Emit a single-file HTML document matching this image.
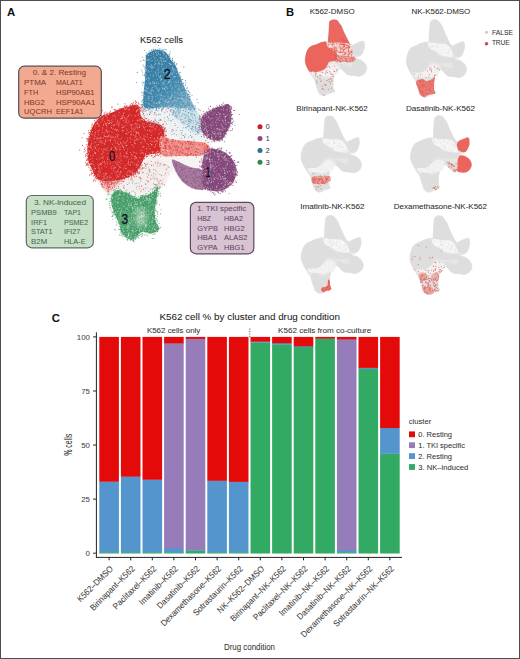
<!DOCTYPE html>
<html><head><meta charset="utf-8"><style>
html,body{margin:0;padding:0;background:#fff;}
svg{display:block;}
text{font-family:"Liberation Sans",sans-serif;}
</style></head><body>
<svg width="520" height="659" viewBox="0 0 520 659">
<defs>
<linearGradient id="gblue" gradientUnits="userSpaceOnUse" x1="150" y1="60" x2="192" y2="110">
<stop offset="0" stop-color="#357ba3"/><stop offset="0.5" stop-color="#4289ae"/><stop offset="1" stop-color="#8ab6cb"/></linearGradient>
<filter id="soft" x="-5%" y="-5%" width="110%" height="110%"><feGaussianBlur stdDeviation="0.7"/></filter>
<filter id="soft3" x="-10%" y="-10%" width="120%" height="120%"><feGaussianBlur stdDeviation="1.6"/></filter>
<filter id="soft4" x="-50%" y="-50%" width="200%" height="200%"><feGaussianBlur stdDeviation="3"/></filter>
<filter id="soft2" x="-5%" y="-5%" width="110%" height="110%"><feGaussianBlur stdDeviation="1.2"/></filter>
<g id="mbase">
<path d="M146.4,55.0 C147.3,53.4 149.2,52.4 151.0,51.5 C152.8,50.6 155.0,49.8 157.2,49.7 C159.3,49.6 162.1,50.1 163.9,51.0 C165.7,51.9 166.9,53.5 168.0,55.0 C169.1,56.5 169.5,58.1 170.7,59.8 C171.9,61.5 174.2,63.2 175.4,65.2 C176.6,67.2 177.0,69.5 178.0,72.0 C179.0,74.5 180.3,77.3 181.4,80.0 C182.5,82.7 183.6,85.3 184.8,88.0 C186.0,90.7 187.5,93.3 188.8,96.0 C190.2,98.7 191.9,101.8 192.9,104.0 C193.9,106.2 196.2,108.2 195.0,109.0 C193.8,109.8 189.3,108.8 186.0,108.5 C182.7,108.2 179.3,107.7 175.0,107.5 C170.7,107.3 164.8,107.4 160.0,107.5 C155.2,107.6 148.8,108.9 146.0,108.3 C143.2,107.7 143.5,105.1 143.0,104.0 C142.5,102.9 143.0,103.5 143.1,101.5 C143.2,99.5 143.4,95.8 143.7,92.0 C144.0,88.2 144.8,83.7 145.1,78.6 C145.4,73.5 145.6,65.1 145.8,61.2 C146.0,57.3 145.5,56.6 146.4,55.0Z"/>
<path d="M178.0,98.0 C181.0,96.7 185.0,100.0 188.0,102.0 C191.0,104.0 193.8,107.0 196.0,110.0 C198.2,113.0 200.0,116.3 201.0,120.0 C202.0,123.7 202.8,129.7 202.0,132.0 C201.2,134.3 198.7,135.0 196.0,134.0 C193.3,133.0 189.3,128.7 186.0,126.0 C182.7,123.3 178.7,120.7 176.0,118.0 C173.3,115.3 169.7,113.3 170.0,110.0 C170.3,106.7 175.0,99.3 178.0,98.0Z"/>
<path d="M111.6,112.8 C114.5,111.7 119.3,109.2 122.4,108.1 C125.5,107.0 127.5,106.6 130.0,106.0 C132.5,105.4 135.6,104.2 137.2,104.7 C138.8,105.2 138.9,107.1 139.5,109.0 C140.1,110.9 139.9,114.0 141.0,116.0 C142.1,118.0 144.0,119.8 146.0,121.0 C148.0,122.2 150.5,122.3 153.0,123.0 C155.5,123.7 159.2,123.5 161.0,125.0 C162.8,126.5 163.4,129.2 164.0,132.0 C164.6,134.8 164.8,138.7 164.5,142.0 C164.2,145.3 164.1,150.0 162.0,152.0 C159.9,154.0 154.8,153.3 152.0,154.0 C149.2,154.7 147.1,154.2 145.3,156.0 C143.5,157.8 142.8,161.8 141.2,164.6 C139.6,167.4 138.3,170.5 135.8,172.7 C133.3,174.9 129.8,176.7 126.4,178.0 C123.0,179.3 119.3,180.3 115.6,180.8 C111.9,181.3 107.1,181.4 104.0,181.0 C100.9,180.6 98.9,180.2 96.8,178.1 C94.7,176.0 92.9,171.8 91.4,168.6 C90.0,165.4 88.8,162.5 88.1,159.2 C87.4,155.8 87.3,151.5 87.4,148.5 C87.5,145.5 87.9,144.0 88.5,141.0 C89.1,138.0 90.0,133.4 91.0,130.5 C92.0,127.6 93.1,125.7 94.5,123.5 C95.9,121.3 97.8,119.0 99.5,117.5 C101.2,116.0 103.0,115.3 105.0,114.5 C107.0,113.7 108.7,113.9 111.6,112.8Z"/>
<path d="M100.0,178.0 C102.7,177.0 115.7,178.3 118.0,180.0 C120.3,181.7 115.7,186.0 114.0,188.0 C112.3,190.0 110.0,192.3 108.0,192.0 C106.0,191.7 103.3,188.3 102.0,186.0 C100.7,183.7 97.3,179.0 100.0,178.0Z"/>
<path d="M160.0,137.0 C161.3,134.3 166.3,138.4 170.0,139.0 C173.7,139.6 177.8,140.1 182.0,140.5 C186.2,140.9 191.2,141.1 195.0,141.5 C198.8,141.9 202.5,141.9 205.0,143.0 C207.5,144.1 210.0,146.0 210.0,148.0 C210.0,150.0 208.3,153.7 205.0,155.0 C201.7,156.3 195.0,155.8 190.0,156.0 C185.0,156.2 179.7,156.2 175.0,156.0 C170.3,155.8 164.5,158.2 162.0,155.0 C159.5,151.8 158.7,139.7 160.0,137.0Z"/>
<path d="M206.9,111.9 C208.8,110.7 211.0,109.8 213.3,108.8 C215.6,107.8 218.2,106.9 220.7,106.1 C223.2,105.3 226.4,103.5 228.1,104.0 C229.8,104.5 230.2,106.8 230.7,108.8 C231.2,110.8 231.3,113.7 231.3,116.2 C231.3,118.7 231.4,121.0 230.7,123.6 C230.0,126.2 228.3,129.5 227.0,132.0 C225.7,134.5 224.4,137.0 222.8,138.4 C221.2,139.8 219.4,140.3 217.5,140.5 C215.6,140.7 213.3,140.3 211.2,139.4 C209.1,138.5 206.4,136.8 204.8,135.2 C203.2,133.6 202.3,132.0 201.6,129.9 C200.9,127.8 200.5,124.8 200.6,122.5 C200.7,120.2 201.1,118.0 202.2,116.2 C203.2,114.4 205.1,113.1 206.9,111.9Z"/>
<path d="M206.1,150.8 C207.9,148.7 210.7,148.7 213.3,148.7 C215.9,148.7 219.0,149.4 221.9,150.8 C224.8,152.2 228.3,154.8 230.6,157.3 C232.9,159.8 234.7,163.3 235.7,166.0 C236.7,168.7 236.8,170.6 236.4,173.2 C236.0,175.8 234.9,179.4 233.5,181.8 C232.1,184.2 230.1,186.0 227.7,187.6 C225.3,189.2 222.0,190.7 219.1,191.2 C216.2,191.7 213.1,191.1 210.4,190.5 C207.8,189.9 204.5,190.0 203.2,187.6 C201.9,185.2 202.6,180.3 202.5,176.0 C202.4,171.7 201.9,165.8 202.5,161.6 C203.1,157.4 204.3,153.0 206.1,150.8Z"/>
<path d="M172.0,160.0 C172.7,158.4 177.0,161.3 180.0,162.5 C183.0,163.7 186.2,165.6 190.0,167.0 C193.8,168.4 200.5,167.5 203.0,171.0 C205.5,174.5 206.0,184.9 205.0,188.0 C204.0,191.1 199.7,189.8 197.0,189.5 C194.3,189.2 191.5,187.9 189.0,186.5 C186.5,185.1 184.2,183.4 182.0,181.0 C179.8,178.6 177.7,175.5 176.0,172.0 C174.3,168.5 171.3,161.6 172.0,160.0Z"/>
<path d="M111.9,195.0 C112.8,193.1 114.6,191.0 116.5,190.4 C118.4,189.8 121.0,190.7 123.5,191.5 C126.0,192.3 129.2,193.8 131.5,195.0 C133.8,196.2 135.6,198.3 137.3,198.5 C139.0,198.7 140.2,196.8 141.9,196.2 C143.6,195.6 145.8,195.8 147.7,195.0 C149.6,194.2 151.8,192.8 153.5,191.5 C155.2,190.2 157.7,185.0 158.1,186.9 C158.5,188.8 156.4,198.8 155.8,203.0 C155.2,207.2 154.6,209.2 154.6,212.3 C154.6,215.4 155.0,218.8 155.8,221.5 C156.6,224.2 159.2,226.8 159.2,228.5 C159.2,230.2 157.5,231.1 155.8,231.9 C154.1,232.7 151.1,233.1 148.8,233.1 C146.5,233.1 143.8,231.5 141.9,231.9 C140.0,232.3 138.8,234.1 137.3,235.4 C135.8,236.8 134.4,239.6 132.7,240.0 C131.0,240.4 128.8,238.8 126.9,237.7 C125.0,236.5 122.4,235.0 121.2,233.1 C120.0,231.2 120.8,228.7 120.0,226.2 C119.2,223.7 117.7,220.8 116.5,218.1 C115.3,215.4 114.0,212.7 113.1,210.0 C112.2,207.3 111.5,204.4 111.3,201.9 C111.1,199.4 111.0,196.9 111.9,195.0Z"/>
<path d="M104.0,180.0 C106.8,178.2 119.0,181.0 125.0,179.0 C131.0,177.0 135.8,171.2 140.0,168.0 C144.2,164.8 146.3,161.3 150.0,160.0 C153.7,158.7 158.7,158.3 162.0,160.0 C165.3,161.7 169.5,165.8 170.0,170.0 C170.5,174.2 167.0,182.0 165.0,185.0 C163.0,188.0 162.2,186.8 158.0,188.0 C153.8,189.2 146.3,191.7 140.0,192.0 C133.7,192.3 125.3,190.3 120.0,190.0 C114.7,189.7 110.7,191.7 108.0,190.0 C105.3,188.3 101.2,181.8 104.0,180.0Z"/>
</g>
</defs>
<rect x="0" y="0" width="520" height="659" fill="#fff"/>
<!-- Panel A -->
<text x="6.9" y="16.4" font-size="11.4" font-weight="bold" fill="#111">A</text>
<text x="140" y="42.6" font-size="8.4" fill="#222" textLength="43" lengthAdjust="spacingAndGlyphs" stroke="#222" stroke-width="0.05">K562 cells</text>
<g filter="url(#soft3)">
<path d="M157.2,49.7 C159.3,49.6 162.1,50.1 163.9,51.0 C165.7,51.9 166.1,52.6 168.0,55.0 C169.9,57.4 173.2,61.0 175.4,65.2 C177.6,69.4 179.2,74.9 181.4,80.0 C183.6,85.1 186.5,91.3 188.8,96.0 C191.1,100.7 192.8,105.0 195.0,108.0 C197.2,111.0 198.9,113.9 202.0,114.0 C205.1,114.1 209.0,110.5 213.3,108.8 C217.7,107.1 225.1,102.8 228.1,104.0 C231.1,105.2 231.5,111.5 231.3,116.2 C231.1,120.9 228.4,128.3 227.0,132.0 C225.6,135.7 225.0,136.6 222.8,138.4 C220.6,140.2 216.8,141.6 214.0,143.0 C211.2,144.4 204.7,145.7 206.0,147.0 C207.3,148.3 217.0,147.6 221.9,150.8 C226.8,154.0 233.8,160.8 235.7,166.0 C237.6,171.2 236.3,177.6 233.5,181.8 C230.7,186.0 224.2,190.1 219.1,191.2 C214.0,192.3 208.0,189.2 203.2,188.5 C198.4,187.8 193.7,188.8 190.2,187.0 C186.7,185.2 185.0,180.5 182.0,178.0 C179.0,175.5 175.3,172.0 172.0,172.0 C168.7,172.0 164.3,175.5 162.0,178.0 C159.7,180.5 159.1,182.7 158.1,186.9 C157.1,191.1 156.2,197.2 155.8,203.0 C155.4,208.8 155.2,217.2 155.8,221.5 C156.4,225.8 160.4,226.6 159.2,228.5 C158.0,230.4 153.2,231.2 148.8,233.1 C144.4,235.0 137.3,240.0 132.7,240.0 C128.1,240.0 124.5,238.1 121.2,233.1 C117.9,228.1 114.8,215.2 113.1,210.0 C111.4,204.8 112.8,205.2 111.3,201.9 C109.8,198.6 106.4,194.0 104.0,190.0 C101.6,186.0 99.5,183.2 96.8,178.1 C94.1,173.0 89.7,164.1 88.1,159.2 C86.5,154.3 86.7,153.1 87.4,148.5 C88.1,143.9 89.4,136.7 92.1,131.6 C94.8,126.5 98.5,122.1 103.5,118.2 C108.5,114.3 116.8,110.3 122.4,108.1 C128.0,105.8 133.8,105.4 137.2,104.7 C140.6,104.0 141.9,106.1 143.0,104.0 C144.1,101.9 143.2,99.1 143.7,92.0 C144.2,84.9 144.6,68.0 145.8,61.2 C147.0,54.5 149.1,53.4 151.0,51.5 C152.9,49.6 155.0,49.8 157.2,49.7Z" fill="#f7f3f3"/>
<path d="M143.0,106.0 C146.8,104.7 157.8,107.3 165.0,108.0 C172.2,108.7 180.5,107.7 186.0,110.0 C191.5,112.3 195.3,117.0 198.0,122.0 C200.7,127.0 205.7,137.5 202.0,140.0 C198.3,142.5 182.7,138.7 176.0,137.0 C169.3,135.3 166.3,132.3 162.0,130.0 C157.7,127.7 153.3,125.3 150.0,123.0 C146.7,120.7 143.2,118.8 142.0,116.0 C140.8,113.2 139.2,107.3 143.0,106.0Z" fill="#eef2f3"/>
<path d="M104.0,180.0 C106.8,178.2 119.0,181.0 125.0,179.0 C131.0,177.0 135.8,171.2 140.0,168.0 C144.2,164.8 146.3,161.3 150.0,160.0 C153.7,158.7 158.7,158.3 162.0,160.0 C165.3,161.7 169.5,165.8 170.0,170.0 C170.5,174.2 167.0,182.0 165.0,185.0 C163.0,188.0 162.2,186.8 158.0,188.0 C153.8,189.2 146.3,191.7 140.0,192.0 C133.7,192.3 125.3,190.3 120.0,190.0 C114.7,189.7 110.7,191.7 108.0,190.0 C105.3,188.3 101.2,181.8 104.0,180.0Z" fill="#f4eded"/>
<path d="M178.0,98.0 C181.0,96.7 185.0,100.0 188.0,102.0 C191.0,104.0 193.8,107.0 196.0,110.0 C198.2,113.0 200.0,116.3 201.0,120.0 C202.0,123.7 202.8,129.7 202.0,132.0 C201.2,134.3 198.7,135.0 196.0,134.0 C193.3,133.0 189.3,128.7 186.0,126.0 C182.7,123.3 178.7,120.7 176.0,118.0 C173.3,115.3 169.7,113.3 170.0,110.0 C170.3,106.7 175.0,99.3 178.0,98.0Z" fill="#cde0e8"/>
<path d="M100.0,178.0 C102.7,177.0 115.7,178.3 118.0,180.0 C120.3,181.7 115.7,186.0 114.0,188.0 C112.3,190.0 110.0,192.3 108.0,192.0 C106.0,191.7 103.3,188.3 102.0,186.0 C100.7,183.7 97.3,179.0 100.0,178.0Z" fill="#f2b3ae"/>
</g>
<g filter="url(#soft)">
<path d="M146.4,55.0 C147.3,53.4 149.2,52.4 151.0,51.5 C152.8,50.6 155.0,49.8 157.2,49.7 C159.3,49.6 162.1,50.1 163.9,51.0 C165.7,51.9 166.9,53.5 168.0,55.0 C169.1,56.5 169.5,58.1 170.7,59.8 C171.9,61.5 174.2,63.2 175.4,65.2 C176.6,67.2 177.0,69.5 178.0,72.0 C179.0,74.5 180.3,77.3 181.4,80.0 C182.5,82.7 183.6,85.3 184.8,88.0 C186.0,90.7 187.5,93.3 188.8,96.0 C190.2,98.7 191.9,101.8 192.9,104.0 C193.9,106.2 196.2,108.2 195.0,109.0 C193.8,109.8 189.3,108.8 186.0,108.5 C182.7,108.2 179.3,107.7 175.0,107.5 C170.7,107.3 164.8,107.4 160.0,107.5 C155.2,107.6 148.8,108.9 146.0,108.3 C143.2,107.7 143.5,105.1 143.0,104.0 C142.5,102.9 143.0,103.5 143.1,101.5 C143.2,99.5 143.4,95.8 143.7,92.0 C144.0,88.2 144.8,83.7 145.1,78.6 C145.4,73.5 145.6,65.1 145.8,61.2 C146.0,57.3 145.5,56.6 146.4,55.0Z" fill="url(#gblue)"/>
<path d="M111.9,195.0 C112.8,193.1 114.6,191.0 116.5,190.4 C118.4,189.8 121.0,190.7 123.5,191.5 C126.0,192.3 129.2,193.8 131.5,195.0 C133.8,196.2 135.6,198.3 137.3,198.5 C139.0,198.7 140.2,196.8 141.9,196.2 C143.6,195.6 145.8,195.8 147.7,195.0 C149.6,194.2 151.8,192.8 153.5,191.5 C155.2,190.2 157.7,185.0 158.1,186.9 C158.5,188.8 156.4,198.8 155.8,203.0 C155.2,207.2 154.6,209.2 154.6,212.3 C154.6,215.4 155.0,218.8 155.8,221.5 C156.6,224.2 159.2,226.8 159.2,228.5 C159.2,230.2 157.5,231.1 155.8,231.9 C154.1,232.7 151.1,233.1 148.8,233.1 C146.5,233.1 143.8,231.5 141.9,231.9 C140.0,232.3 138.8,234.1 137.3,235.4 C135.8,236.8 134.4,239.6 132.7,240.0 C131.0,240.4 128.8,238.8 126.9,237.7 C125.0,236.5 122.4,235.0 121.2,233.1 C120.0,231.2 120.8,228.7 120.0,226.2 C119.2,223.7 117.7,220.8 116.5,218.1 C115.3,215.4 114.0,212.7 113.1,210.0 C112.2,207.3 111.5,204.4 111.3,201.9 C111.1,199.4 111.0,196.9 111.9,195.0Z" fill="#4aa06a"/>
<path d="M111.6,112.8 C114.5,111.7 119.3,109.2 122.4,108.1 C125.5,107.0 127.5,106.6 130.0,106.0 C132.5,105.4 135.6,104.2 137.2,104.7 C138.8,105.2 138.9,107.1 139.5,109.0 C140.1,110.9 139.9,114.0 141.0,116.0 C142.1,118.0 144.0,119.8 146.0,121.0 C148.0,122.2 150.5,122.3 153.0,123.0 C155.5,123.7 159.2,123.5 161.0,125.0 C162.8,126.5 163.4,129.2 164.0,132.0 C164.6,134.8 164.8,138.7 164.5,142.0 C164.2,145.3 164.1,150.0 162.0,152.0 C159.9,154.0 154.8,153.3 152.0,154.0 C149.2,154.7 147.1,154.2 145.3,156.0 C143.5,157.8 142.8,161.8 141.2,164.6 C139.6,167.4 138.3,170.5 135.8,172.7 C133.3,174.9 129.8,176.7 126.4,178.0 C123.0,179.3 119.3,180.3 115.6,180.8 C111.9,181.3 107.1,181.4 104.0,181.0 C100.9,180.6 98.9,180.2 96.8,178.1 C94.7,176.0 92.9,171.8 91.4,168.6 C90.0,165.4 88.8,162.5 88.1,159.2 C87.4,155.8 87.3,151.5 87.4,148.5 C87.5,145.5 87.9,144.0 88.5,141.0 C89.1,138.0 90.0,133.4 91.0,130.5 C92.0,127.6 93.1,125.7 94.5,123.5 C95.9,121.3 97.8,119.0 99.5,117.5 C101.2,116.0 103.0,115.3 105.0,114.5 C107.0,113.7 108.7,113.9 111.6,112.8Z" fill="#d62a2c"/>
<path d="M160.0,137.0 C161.3,134.3 166.3,138.4 170.0,139.0 C173.7,139.6 177.8,140.1 182.0,140.5 C186.2,140.9 191.2,141.1 195.0,141.5 C198.8,141.9 202.5,141.9 205.0,143.0 C207.5,144.1 210.0,146.0 210.0,148.0 C210.0,150.0 208.3,153.7 205.0,155.0 C201.7,156.3 195.0,155.8 190.0,156.0 C185.0,156.2 179.7,156.2 175.0,156.0 C170.3,155.8 164.5,158.2 162.0,155.0 C159.5,151.8 158.7,139.7 160.0,137.0Z" fill="#ec8e87"/>
<path d="M172.0,160.0 C172.7,158.4 177.0,161.3 180.0,162.5 C183.0,163.7 186.2,165.6 190.0,167.0 C193.8,168.4 200.5,167.5 203.0,171.0 C205.5,174.5 206.0,184.9 205.0,188.0 C204.0,191.1 199.7,189.8 197.0,189.5 C194.3,189.2 191.5,187.9 189.0,186.5 C186.5,185.1 184.2,183.4 182.0,181.0 C179.8,178.6 177.7,175.5 176.0,172.0 C174.3,168.5 171.3,161.6 172.0,160.0Z" fill="#a67a9e"/>
<path d="M206.9,111.9 C208.8,110.7 211.0,109.8 213.3,108.8 C215.6,107.8 218.2,106.9 220.7,106.1 C223.2,105.3 226.4,103.5 228.1,104.0 C229.8,104.5 230.2,106.8 230.7,108.8 C231.2,110.8 231.3,113.7 231.3,116.2 C231.3,118.7 231.4,121.0 230.7,123.6 C230.0,126.2 228.3,129.5 227.0,132.0 C225.7,134.5 224.4,137.0 222.8,138.4 C221.2,139.8 219.4,140.3 217.5,140.5 C215.6,140.7 213.3,140.3 211.2,139.4 C209.1,138.5 206.4,136.8 204.8,135.2 C203.2,133.6 202.3,132.0 201.6,129.9 C200.9,127.8 200.5,124.8 200.6,122.5 C200.7,120.2 201.1,118.0 202.2,116.2 C203.2,114.4 205.1,113.1 206.9,111.9Z" fill="#86497b"/>
<path d="M206.1,150.8 C207.9,148.7 210.7,148.7 213.3,148.7 C215.9,148.7 219.0,149.4 221.9,150.8 C224.8,152.2 228.3,154.8 230.6,157.3 C232.9,159.8 234.7,163.3 235.7,166.0 C236.7,168.7 236.8,170.6 236.4,173.2 C236.0,175.8 234.9,179.4 233.5,181.8 C232.1,184.2 230.1,186.0 227.7,187.6 C225.3,189.2 222.0,190.7 219.1,191.2 C216.2,191.7 213.1,191.1 210.4,190.5 C207.8,189.9 204.5,190.0 203.2,187.6 C201.9,185.2 202.6,180.3 202.5,176.0 C202.4,171.7 201.9,165.8 202.5,161.6 C203.1,157.4 204.3,153.0 206.1,150.8Z" fill="#86497b"/>
</g>
<ellipse cx="141" cy="217" rx="6" ry="10" fill="#a9d3b6" filter="url(#soft4)"/>
<path d="M112.4 116.2h0M137.6 110.2h0M128.7 132.6h0M91.9 143.4h0M90.3 137.8h0M120.1 167.8h0M96.9 121.7h0M131.9 135.0h0M153.6 126.8h0M111.2 167.0h0M101.3 149.1h0M136.7 133.1h0M129.6 109.5h0M139.9 137.3h0M111.6 149.4h0M122.3 127.6h0M106.2 148.5h0M127.9 171.5h0M143.6 126.7h0M119.6 162.5h0M99.1 142.0h0M90.4 155.7h0M146.3 148.4h0M154.9 128.6h0M141.0 150.1h0M132.1 139.5h0M124.0 155.4h0M92.1 158.2h0M150.8 126.4h0M117.1 155.7h0M89.1 139.9h0M91.9 163.3h0M97.4 123.6h0M117.5 171.2h0M93.6 139.0h0M129.8 172.1h0M108.9 136.4h0M115.1 172.2h0M101.0 122.4h0M105.4 141.7h0M132.8 124.7h0M115.9 147.9h0M127.1 151.8h0M117.7 135.1h0M95.4 153.1h0M103.5 117.1h0M95.2 132.4h0M134.7 116.0h0M106.8 131.2h0M115.5 114.1h0M123.3 141.6h0M113.8 124.9h0M128.1 115.9h0M129.3 106.8h0M107.5 132.7h0M100.3 163.6h0M128.5 164.1h0M112.8 121.7h0M104.9 144.2h0M107.4 157.5h0M161.1 138.8h0M161.0 132.5h0M104.4 122.0h0M102.6 120.3h0M152.2 141.3h0M137.7 165.7h0M93.9 155.1h0M145.2 141.2h0M101.2 164.9h0M113.0 165.8h0M162.3 134.9h0M118.3 176.9h0M98.7 167.8h0M114.4 146.6h0M128.0 175.9h0M120.8 171.2h0M106.8 127.1h0M105.9 149.4h0M107.4 136.7h0M97.5 174.1h0M114.7 139.7h0M132.4 173.7h0M119.8 174.7h0M126.1 145.3h0M121.3 118.7h0M100.7 140.8h0M143.3 147.2h0M112.5 144.3h0M130.2 164.5h0M95.6 147.5h0M106.6 125.8h0M146.9 143.4h0M130.7 162.7h0M157.8 138.5h0M134.6 143.3h0M126.9 157.6h0M122.3 145.4h0M124.3 176.5h0M160.0 124.5h0M96.8 138.4h0M93.0 155.8h0M99.3 159.3h0M138.3 115.6h0M104.3 177.4h0M118.1 141.9h0M99.8 137.6h0M127.2 130.6h0M102.5 129.0h0M130.1 138.3h0M135.5 143.8h0M95.5 125.0h0M90.5 164.1h0M108.3 114.6h0M120.0 174.2h0M150.5 124.4h0M98.9 174.8h0M131.4 158.1h0M140.5 137.2h0M136.3 165.9h0M93.9 170.0h0M92.5 170.5h0M122.4 130.6h0M130.0 175.4h0M108.1 114.6h0M128.0 122.9h0M111.5 128.0h0M146.0 126.8h0M126.0 118.3h0M143.9 146.7h0M102.0 140.9h0M150.5 137.7h0M125.6 168.4h0M117.7 143.4h0M113.8 168.2h0M141.9 153.2h0M118.6 131.2h0M92.9 161.2h0M107.1 117.2h0M93.9 168.9h0M109.1 123.2h0M110.0 139.8h0M99.5 138.7h0M107.7 178.1h0M162.4 146.4h0M106.2 178.4h0M111.3 131.9h0M124.0 143.1h0M102.9 143.2h0M94.3 135.2h0M110.9 122.5h0M132.5 145.1h0M145.3 154.9h0M117.4 129.6h0M143.2 153.8h0M156.2 152.6h0M98.1 144.7h0M126.3 168.4h0M132.4 172.8h0M140.1 157.6h0M97.7 132.2h0M95.5 168.5h0M130.5 152.6h0M135.7 156.6h0M126.2 145.5h0M138.2 109.7h0M144.2 123.9h0M143.6 120.4h0M125.5 133.9h0M124.3 156.9h0M146.5 151.8h0M137.0 110.6h0M98.8 124.1h0M144.7 127.9h0M139.2 157.5h0M139.5 126.9h0M127.2 140.2h0M123.4 113.7h0M122.1 125.2h0M103.6 176.8h0M103.6 149.1h0M98.3 144.7h0M150.6 143.5h0M105.2 173.2h0M122.2 127.7h0M98.2 130.9h0M111.8 168.8h0M156.9 126.8h0M116.1 134.7h0M115.2 137.4h0M95.2 168.4h0M109.4 176.1h0M106.6 125.0h0M126.8 119.2h0M116.2 177.7h0M159.9 146.6h0M143.9 139.1h0M145.4 153.9h0M123.8 130.9h0M110.4 161.1h0M138.0 127.7h0M130.4 134.8h0M100.3 117.0h0M103.4 173.8h0M125.7 121.5h0M122.1 115.4h0M105.8 124.4h0M131.3 172.4h0M145.2 136.2h0M119.3 144.7h0M116.5 130.5h0M126.2 152.7h0M108.3 123.7h0M118.2 138.7h0M89.9 158.8h0M156.5 140.8h0M117.6 175.4h0M127.7 156.7h0M137.3 163.1h0M122.7 146.8h0M90.4 164.4h0M105.3 174.9h0M137.2 127.9h0M97.3 123.9h0M136.5 158.0h0M127.8 149.2h0M117.3 121.8h0M133.7 105.5h0M110.6 139.9h0M155.5 141.0h0M105.5 123.6h0M125.8 156.2h0M119.8 124.3h0M113.5 136.8h0M140.0 119.8h0M126.3 120.4h0M162.2 128.5h0M104.5 162.7h0M110.1 177.3h0M125.6 119.0h0M104.6 136.5h0M98.7 134.7h0M103.8 179.0h0M92.0 134.7h0M159.2 129.8h0M101.7 176.1h0M138.6 133.6h0M116.2 130.0h0M109.0 131.5h0M114.9 167.4h0M150.8 137.7h0M91.2 140.8h0M116.1 174.9h0M102.3 132.5h0M119.1 166.6h0M158.3 124.3h0M113.5 125.5h0M161.2 151.8h0M107.6 159.4h0M111.8 125.7h0M158.1 153.1h0M105.4 141.0h0M117.2 123.9h0M120.5 142.4h0M134.2 129.7h0M112.0 132.3h0M102.6 162.1h0M90.0 146.9h0M112.5 179.5h0M94.8 142.7h0M142.1 138.8h0M105.5 136.5h0M135.2 156.1h0M138.6 113.9h0M152.2 127.1h0M131.1 133.2h0M144.3 119.9h0M106.5 123.4h0M99.2 172.2h0M132.0 129.6h0M126.5 122.4h0M124.0 167.2h0M162.4 149.2h0M159.1 133.1h0M154.2 139.0h0M107.4 164.0h0M133.4 152.0h0M104.2 132.8h0M98.3 120.3h0M107.1 150.4h0M137.6 120.2h0M139.7 118.8h0M111.5 120.2h0M148.7 146.5h0M117.9 146.7h0M136.7 111.7h0M100.0 157.8h0M119.0 126.3h0M111.1 177.4h0M111.5 147.9h0M114.9 136.5h0M115.4 119.7h0M143.5 120.2h0M120.1 167.3h0M118.7 172.1h0M122.9 117.1h0M88.5 146.8h0M94.3 152.2h0M116.0 143.2h0M98.6 126.3h0M127.6 175.3h0M95.8 142.1h0M124.6 108.8h0M158.8 134.3h0M157.1 152.0h0M118.6 169.3h0M104.2 135.2h0M127.3 134.0h0M96.9 123.6h0M90.6 147.6h0M133.6 146.7h0M135.7 128.1h0M119.8 149.2h0M120.2 155.0h0M121.8 138.1h0M89.2 151.9h0M125.1 122.6h0M122.7 118.4h0M123.9 112.9h0M97.3 137.6h0M94.5 138.4h0M126.7 107.8h0M136.5 111.0h0M126.8 108.8h0M126.3 133.5h0M102.3 179.6h0M125.3 177.7h0M92.5 131.5h0M156.5 125.7h0M126.1 174.9h0M103.5 124.8h0M126.4 129.0h0M99.8 176.1h0M100.4 164.6h0M96.3 145.2h0M136.5 132.2h0M154.7 147.1h0M132.1 172.0h0M136.0 134.8h0M148.9 124.9h0M115.2 163.0h0M121.5 118.2h0M150.6 124.1h0M132.6 155.3h0M134.9 137.7h0M126.9 173.0h0M97.6 122.0h0M137.8 106.4h0M95.6 132.0h0M104.7 149.2h0M132.8 120.3h0M135.5 140.9h0M97.8 176.2h0M106.2 116.1h0M94.8 153.4h0M118.4 124.9h0M88.3 153.9h0M130.8 131.4h0M137.2 138.6h0M106.6 173.6h0M90.8 145.3h0M118.7 122.8h0M91.9 164.1h0M88.4 146.7h0M102.8 151.1h0M126.5 153.7h0M111.3 127.6h0M144.9 140.2h0M144.6 139.2h0M113.3 161.9h0M142.3 125.0h0M130.1 138.0h0M148.2 144.6h0M107.9 153.7h0M107.5 122.7h0M144.9 129.6h0M155.3 129.8h0M105.8 173.9h0M136.0 157.6h0M123.6 168.8h0M121.1 160.0h0M131.4 128.2h0M103.7 152.2h0M95.6 175.6h0M114.0 115.5h0M140.8 153.1h0M141.1 160.9h0M92.5 149.8h0M115.4 167.1h0M92.5 170.9h0M136.3 167.7h0M136.1 126.6h0M112.0 137.0h0M109.2 159.3h0M115.8 129.2h0M161.7 143.1h0M153.0 151.9h0M89.8 136.2h0M121.1 163.7h0M114.1 158.5h0M128.9 121.2h0M125.3 165.5h0M101.6 142.4h0M114.2 168.2h0M107.5 176.7h0M109.3 121.1h0M141.3 142.7h0M95.9 153.3h0M93.6 164.8h0M135.8 131.8h0M118.3 134.8h0M103.3 124.8h0M156.9 142.9h0M116.6 172.1h0M105.4 139.9h0M128.4 162.3h0M145.5 154.0h0M114.3 129.6h0M99.4 169.0h0M138.4 161.3h0M100.5 138.2h0M147.0 148.9h0M97.1 140.0h0M102.2 127.7h0M106.5 129.6h0M127.7 117.0h0M112.7 119.1h0M95.2 134.0h0M143.9 137.9h0M102.5 153.4h0M118.2 165.1h0M140.9 142.9h0M136.2 140.0h0M98.3 150.8h0M118.6 161.2h0M157.4 137.5h0M131.7 161.9h0M119.9 122.1h0M136.9 139.3h0M111.5 152.6h0M94.9 136.7h0M135.9 123.8h0M120.1 139.4h0M135.3 135.9h0M101.5 154.6h0M147.4 134.4h0M90.3 146.2h0M99.8 164.4h0M159.9 144.3h0M95.2 148.5h0M129.1 159.4h0M126.9 153.5h0M151.3 144.5h0M119.0 177.0h0M103.6 156.9h0M117.7 162.9h0M108.6 135.2h0M119.8 158.0h0M114.5 124.9h0M104.7 161.3h0M159.9 144.9h0M104.3 165.9h0M117.6 120.9h0M97.4 164.0h0M149.8 153.1h0M123.6 147.6h0M104.8 178.2h0M114.6 153.4h0M123.5 127.2h0M129.7 114.3h0M151.7 131.8h0M153.0 125.1h0M116.4 124.0h0M120.3 118.9h0M109.1 123.4h0M110.7 141.3h0M120.4 153.3h0M138.2 132.4h0M91.8 167.9h0M98.2 168.1h0M136.2 105.8h0M138.0 123.8h0M105.4 163.9h0M114.1 116.3h0M100.3 172.7h0M134.3 164.3h0M102.6 157.6h0M128.3 161.3h0M121.2 172.0h0M130.2 124.9h0M105.5 115.3h0M125.4 109.2h0M123.4 115.7h0M125.3 142.7h0M129.0 170.5h0M123.5 147.6h0M138.7 168.8h0M116.3 136.7h0M136.5 153.2h0M89.6 151.2h0M112.9 179.6h0M126.8 141.7h0M142.8 152.4h0M113.5 170.4h0M115.6 140.9h0M127.9 163.5h0M103.6 137.9h0M120.0 147.0h0M151.1 127.0h0M151.2 135.5h0M126.2 125.4h0M137.9 165.1h0M112.9 128.9h0M110.5 149.4h0M136.3 164.5h0M90.5 159.8h0M155.7 146.3h0M158.4 151.1h0M138.1 164.9h0M157.5 151.4h0M134.9 152.5h0M141.1 150.2h0M139.9 120.9h0M138.8 139.6h0M138.0 132.8h0M130.7 124.4h0M110.7 136.9h0M112.0 137.6h0M91.6 148.0h0M149.9 148.6h0M158.2 138.8h0M163.0 141.0h0M119.2 112.5h0M137.1 120.9h0M87.8 156.9h0M94.2 171.0h0M142.9 123.2h0M91.3 163.8h0M135.9 158.8h0M122.9 175.8h0M107.0 178.3h0M88.5 154.3h0M111.4 160.4h0M100.2 170.4h0M124.9 109.3h0M115.7 148.6h0M121.2 156.3h0M98.6 165.5h0M115.4 153.9h0M136.0 136.6h0M117.1 164.7h0M131.1 127.0h0M113.0 150.9h0M133.7 128.2h0M120.4 172.5h0M116.4 157.0h0M133.8 173.1h0M149.7 126.3h0M120.0 149.5h0M131.5 125.6h0M130.1 165.5h0M102.9 161.9h0M134.2 156.4h0M123.3 120.5h0M107.0 162.0h0M148.4 139.8h0M94.2 166.2h0M146.9 122.5h0M132.1 173.1h0M155.6 144.5h0M124.1 149.7h0M102.0 119.4h0M101.3 158.2h0M115.4 147.8h0M118.4 144.2h0M95.6 153.0h0M133.4 131.0h0M154.2 141.8h0M131.1 124.7h0M147.5 137.2h0M102.9 118.5h0M130.4 171.1h0M122.7 177.0h0M133.5 135.0h0M96.6 177.9h0M107.2 147.8h0M139.0 134.7h0M122.0 116.9h0M107.1 131.6h0M139.6 127.5h0M133.0 162.5h0M95.5 129.4h0M107.2 114.2h0M124.5 117.6h0M105.8 115.6h0M142.7 119.6h0M104.4 176.0h0M98.2 138.8h0M152.3 152.6h0M122.3 130.6h0M150.9 141.1h0M135.8 115.6h0M142.4 146.9h0M98.6 171.1h0M107.9 136.1h0M99.4 125.4h0M152.1 130.2h0M100.3 142.2h0M111.9 173.6h0M138.9 120.8h0M124.2 126.5h0M107.3 120.1h0M115.5 180.3h0M94.9 126.8h0M143.4 127.1h0M149.6 130.7h0M151.6 144.9h0M101.7 137.9h0M131.5 115.2h0M101.3 163.5h0M142.3 119.7h0M134.3 142.5h0M108.5 120.4h0M134.6 158.7h0M150.0 149.2h0M143.9 135.8h0M149.9 130.3h0M157.6 141.1h0M154.6 125.0h0M101.7 168.2h0M115.7 117.2h0M116.0 150.1h0M121.8 144.0h0M96.7 159.2h0M112.1 159.0h0M116.8 162.0h0M161.0 142.5h0M127.0 145.2h0M128.8 106.3h0M106.7 167.0h0M141.3 119.6h0M88.8 150.4h0M131.8 144.6h0M125.5 142.9h0M109.0 114.0h0M118.7 115.1h0M133.0 170.4h0M98.8 148.4h0M117.4 136.8h0M152.1 144.8h0M117.9 176.5h0M147.3 130.5h0M105.9 130.3h0M121.0 179.6h0M91.5 144.2h0M106.6 136.9h0M136.2 132.5h0M128.3 110.0h0M120.8 143.2h0M159.6 153.0h0M136.9 125.0h0M139.7 125.6h0M129.2 175.2h0M135.3 123.8h0M127.5 137.8h0M160.7 126.6h0M110.9 154.1h0M96.7 150.0h0M161.1 143.9h0M108.1 140.3h0M128.6 116.0h0M110.0 135.7h0M109.6 123.3h0M94.2 146.4h0M152.1 151.2h0M131.4 154.3h0M102.9 158.9h0M122.9 146.5h0M134.6 140.5h0M111.3 123.2h0M104.5 143.8h0M116.9 149.4h0M130.3 142.2h0M109.4 180.0h0M110.2 163.6h0M154.6 138.3h0M92.2 134.3h0M121.3 160.8h0M95.8 121.9h0M99.3 130.4h0M114.6 156.2h0" stroke="#ffffff" stroke-width="1.00" stroke-linecap="round" fill="none" opacity="0.50"/>
<path d="M175.0 100.1h0M181.4 93.8h0M183.8 91.7h0M182.8 84.4h0M168.9 106.8h0M172.7 74.5h0M183.8 101.5h0M174.6 72.2h0M166.5 76.9h0M163.3 82.6h0M163.0 68.8h0M183.9 100.1h0M169.0 76.0h0M152.6 67.7h0M150.5 83.8h0M186.9 99.4h0M165.2 103.7h0M172.4 79.2h0M169.9 80.4h0M161.6 85.0h0M161.3 105.9h0M178.2 80.8h0M148.1 71.9h0M163.8 83.0h0M172.9 101.9h0M165.9 86.7h0M170.6 98.1h0M151.9 68.6h0M185.7 108.4h0M151.1 66.9h0M169.6 79.6h0M152.8 60.5h0M175.8 85.5h0M164.4 96.4h0M159.0 90.7h0M168.9 82.5h0M156.8 88.1h0M172.9 74.1h0M149.3 59.0h0M148.2 59.8h0M170.2 98.5h0M174.9 97.5h0M151.8 65.5h0M148.2 103.3h0M173.3 70.4h0M166.4 72.6h0M145.8 102.5h0M173.3 106.6h0M165.9 86.5h0M156.0 52.3h0M159.4 103.0h0M174.3 106.6h0M168.8 106.0h0M155.6 72.8h0M159.1 101.6h0M168.2 96.7h0M155.7 60.0h0M161.6 60.8h0M170.8 72.6h0M164.0 53.6h0M149.4 98.7h0M161.3 64.2h0M152.9 66.5h0M155.3 51.8h0M151.1 91.6h0M147.8 65.7h0M166.1 99.3h0M161.4 92.5h0M162.6 106.5h0M153.8 106.1h0M169.3 63.2h0M166.5 57.5h0M162.1 64.3h0M169.7 81.9h0M157.1 95.5h0M163.0 88.7h0M172.5 68.1h0M163.3 54.8h0M152.2 100.2h0M159.7 89.0h0M148.7 83.0h0M161.8 79.4h0M158.4 53.6h0M159.2 63.1h0M149.6 92.2h0M157.7 73.6h0M188.9 100.8h0M149.9 66.1h0M144.5 90.0h0M164.5 88.8h0M149.0 103.8h0M181.2 92.0h0M151.4 61.4h0M158.8 72.3h0M165.6 90.3h0M186.4 95.7h0M157.9 52.2h0M148.8 96.6h0M153.9 103.9h0M181.9 98.8h0M157.6 55.0h0M181.4 98.9h0M175.7 76.5h0M145.8 91.1h0M165.3 80.1h0M179.5 97.5h0M156.6 82.1h0M171.3 64.5h0M146.1 70.9h0M164.4 61.6h0M159.1 57.8h0M179.8 89.5h0M155.4 64.0h0M169.8 76.1h0M158.6 102.2h0M150.4 83.1h0M160.3 98.1h0M171.5 94.8h0M151.8 89.2h0M174.1 77.0h0M182.8 99.0h0M149.0 66.9h0M161.7 61.9h0M146.1 66.4h0M153.2 91.3h0M166.3 56.4h0M159.9 77.5h0M161.9 59.7h0M147.4 92.2h0M148.7 78.7h0M165.6 61.0h0M175.6 105.2h0M155.8 57.9h0M144.4 95.6h0M152.7 87.5h0M187.0 104.7h0M151.8 96.2h0M186.2 93.7h0M160.0 60.6h0M162.2 82.4h0M162.2 99.0h0M155.4 52.1h0M172.5 87.0h0M185.6 91.5h0M190.1 105.7h0M168.7 79.3h0M151.2 67.5h0M166.0 107.2h0M165.9 61.0h0M186.7 100.4h0M157.7 88.9h0M169.8 74.7h0M160.6 75.7h0M177.6 98.7h0M158.4 76.0h0M172.3 70.3h0M153.2 54.7h0M159.8 77.0h0M188.0 107.5h0M178.2 85.8h0M158.4 83.6h0M160.9 102.2h0M178.3 76.2h0M147.4 88.9h0M162.3 84.1h0M164.7 81.1h0M172.4 73.2h0M148.9 60.4h0M148.8 100.8h0M156.2 55.3h0M170.6 64.6h0M168.4 82.6h0M154.8 83.7h0M148.9 80.1h0M164.2 54.1h0M165.9 100.9h0M171.6 92.1h0M148.3 98.9h0M163.4 59.9h0M155.3 71.8h0M154.1 67.5h0M190.7 101.3h0M151.7 93.9h0M160.8 95.0h0M178.4 98.7h0M149.4 71.8h0M181.3 105.9h0M171.5 97.3h0M148.9 104.6h0M153.0 76.2h0M148.7 97.2h0M152.6 82.6h0M158.1 90.4h0M162.8 58.3h0M178.9 97.6h0M160.8 58.7h0M169.1 101.5h0M152.5 98.2h0M178.3 73.0h0M167.7 59.1h0M146.9 69.2h0M154.2 102.7h0M151.8 71.1h0M167.3 83.9h0M163.2 70.7h0M160.4 50.9h0M157.2 79.4h0M156.6 83.4h0M170.5 106.4h0M172.2 95.4h0M188.4 95.6h0M175.9 87.3h0M161.9 66.4h0M184.4 101.5h0M158.8 95.0h0M176.0 70.5h0M171.6 73.8h0M146.1 69.7h0M168.0 71.5h0M155.7 63.6h0M161.2 57.7h0M143.4 101.3h0M166.6 76.1h0M172.6 67.6h0M151.8 53.6h0M158.7 68.0h0M180.8 82.4h0M147.2 60.3h0M161.6 95.6h0M165.3 101.2h0M146.5 78.4h0M156.4 51.1h0M151.6 65.6h0M163.8 61.6h0M174.4 100.9h0M181.2 106.8h0M185.1 101.6h0M160.7 57.8h0M152.8 81.5h0M160.0 94.1h0M176.7 73.7h0M146.0 74.3h0M145.4 86.8h0M160.4 79.0h0M174.1 64.9h0M174.9 92.6h0M160.1 55.2h0M151.1 58.2h0M171.0 84.6h0M171.9 88.7h0M174.3 69.3h0M180.0 95.0h0M183.2 107.7h0M166.6 66.2h0M170.2 105.5h0M167.7 88.6h0M146.1 79.5h0M150.8 60.2h0M181.4 104.3h0M151.4 51.4h0M176.1 70.1h0M159.8 103.3h0M148.6 93.2h0M146.4 88.0h0M163.9 100.9h0M146.1 83.2h0M164.3 104.2h0M154.7 64.6h0M156.6 75.4h0M155.0 61.8h0M182.5 87.8h0M154.3 83.5h0M151.1 100.9h0M182.1 98.5h0M157.7 69.4h0M168.2 102.5h0M151.4 90.2h0M174.1 76.6h0M173.1 102.1h0M153.9 102.1h0M161.7 95.9h0M187.9 108.7h0M158.5 51.1h0M148.8 107.5h0M143.5 103.8h0M150.8 93.3h0M148.1 59.7h0M160.7 104.2h0M180.3 102.0h0M155.2 96.7h0M169.2 63.4h0M165.4 55.9h0M159.5 101.8h0M149.3 78.6h0M150.1 75.1h0M152.3 90.3h0M150.7 93.5h0M161.4 79.1h0M154.2 107.1h0M157.2 60.2h0M156.8 53.8h0M145.2 79.9h0M164.2 82.7h0M161.9 50.3h0M178.8 88.4h0M171.3 82.2h0M163.8 68.6h0M164.8 107.4h0M163.1 72.6h0M164.3 58.2h0M174.6 104.6h0M156.2 85.9h0M162.6 64.0h0M153.3 56.6h0M186.8 96.2h0M176.6 82.3h0M159.4 107.3h0M155.2 87.0h0M170.4 86.0h0M175.7 81.9h0M154.6 86.0h0M156.8 103.6h0M167.6 92.5h0M170.1 78.0h0M154.5 58.1h0M170.2 81.0h0M152.0 98.4h0M166.9 87.7h0M186.0 102.7h0M162.8 99.0h0M151.0 64.6h0M148.3 70.8h0M166.5 54.9h0M179.1 76.3h0M167.9 97.0h0M170.1 63.8h0M162.3 69.9h0M162.8 50.8h0M153.4 83.5h0M146.0 60.3h0M159.8 64.0h0M176.1 100.6h0M153.5 74.8h0M162.3 52.3h0M166.0 71.5h0M164.2 88.1h0M163.0 84.0h0M162.4 89.2h0M160.1 53.9h0M170.3 79.1h0M167.1 77.1h0M167.6 102.5h0M165.9 78.8h0M169.6 98.6h0M177.9 93.6h0M163.9 52.1h0M178.4 82.5h0M183.0 95.4h0M149.1 62.8h0M147.0 98.2h0M148.3 54.9h0M182.2 83.2h0M145.9 90.1h0M180.0 78.3h0M145.8 90.7h0M164.7 84.3h0M160.4 80.4h0M157.3 65.3h0M159.3 64.8h0M169.6 74.6h0M145.7 67.8h0M188.1 97.3h0M153.5 52.8h0M170.9 71.9h0M167.1 78.7h0M173.4 71.4h0M145.7 68.3h0M170.7 73.9h0M172.4 68.9h0M157.2 96.9h0M158.2 91.8h0M166.6 105.1h0M166.1 101.8h0M146.0 75.4h0M178.0 89.7h0M158.3 62.2h0M148.2 55.3h0M183.8 106.1h0M164.6 88.8h0M156.4 103.4h0M145.9 91.0h0M145.2 99.3h0M158.3 63.5h0M173.3 68.6h0M184.6 107.8h0M163.4 51.7h0M162.8 87.7h0M154.6 82.1h0M147.9 77.2h0M191.0 108.8h0M158.1 70.3h0M168.2 100.9h0M174.1 81.8h0M147.6 58.0h0M157.1 102.7h0M174.1 107.1h0M160.9 105.7h0M160.3 76.4h0M155.9 93.7h0M152.3 96.4h0M158.5 53.8h0M171.7 96.4h0M174.0 77.1h0M148.1 88.1h0M149.9 84.0h0M161.3 71.9h0M151.8 105.5h0M160.2 99.6h0M150.7 55.3h0M168.8 81.5h0" stroke="#ffffff" stroke-width="1.00" stroke-linecap="round" fill="none" opacity="0.50"/>
<path d="M204.2 121.1h0M205.6 123.5h0M216.2 117.4h0M206.7 118.7h0M208.0 135.8h0M216.0 136.5h0M215.6 132.9h0M218.1 129.1h0M207.6 131.4h0M205.3 113.6h0M201.5 118.4h0M216.5 114.7h0M227.9 107.1h0M218.4 112.5h0M218.9 132.6h0M222.4 106.3h0M208.1 125.9h0M219.6 129.3h0M225.6 116.5h0M225.5 120.9h0M229.5 119.0h0M208.1 130.8h0M221.4 109.5h0M215.3 122.2h0M223.7 127.2h0M206.7 126.8h0M226.6 132.7h0M203.4 130.2h0M211.3 109.9h0M223.5 108.9h0M226.2 133.3h0M218.7 119.9h0M225.9 132.6h0M227.3 114.9h0M230.1 123.4h0M229.6 108.2h0M208.3 134.6h0M214.7 112.6h0M215.7 137.1h0M221.6 129.9h0M212.6 132.6h0M225.0 128.9h0M220.6 134.5h0M211.0 125.7h0M226.3 132.9h0M200.7 121.9h0M225.5 119.3h0M219.2 120.7h0M210.9 111.8h0M211.5 134.8h0M219.6 114.7h0M222.1 120.1h0M220.9 133.5h0M204.3 128.9h0M206.3 113.9h0M230.0 117.2h0M207.5 136.5h0M219.3 136.6h0M212.7 122.2h0M229.9 122.5h0M230.9 110.9h0M226.1 109.9h0M214.6 133.5h0M208.3 116.9h0M203.7 124.2h0M227.1 122.8h0M212.2 137.9h0M228.0 128.3h0M202.9 126.8h0M214.2 139.0h0M211.7 128.1h0M220.0 117.7h0M216.6 128.7h0M228.5 122.2h0M221.6 124.3h0M214.3 131.4h0M223.6 105.3h0M205.0 125.4h0M212.6 131.3h0M220.3 114.3h0M224.0 114.6h0M217.3 119.4h0M225.3 128.7h0M212.3 139.2h0M222.4 129.2h0M218.3 134.1h0M225.0 116.7h0M204.9 122.8h0M227.5 109.9h0M223.3 110.2h0M209.7 118.0h0M206.3 115.3h0M229.6 111.2h0M210.5 120.0h0M212.7 118.1h0M230.2 113.7h0M214.4 134.6h0M220.2 132.4h0M223.8 121.2h0M217.8 128.5h0M223.7 114.1h0M211.7 137.5h0M216.9 114.5h0M219.9 113.5h0M224.3 105.5h0M226.0 124.7h0M211.5 138.3h0M208.8 112.9h0M202.7 124.0h0M223.7 128.7h0M213.3 133.5h0M204.0 115.2h0M220.4 139.3h0M220.1 129.3h0M224.4 118.4h0M211.1 118.3h0M225.3 116.8h0M206.3 135.8h0M216.9 123.0h0M221.2 136.9h0M204.7 116.4h0M202.6 119.1h0M216.0 135.1h0M221.1 125.1h0M213.0 124.9h0M209.0 134.8h0M224.8 134.6h0M205.2 128.5h0M223.8 122.3h0M223.4 134.0h0M220.5 136.1h0M204.6 129.7h0M222.2 126.4h0M219.1 134.1h0M209.0 111.8h0M225.2 117.1h0M222.1 106.6h0M226.3 115.9h0M204.9 114.0h0M202.4 120.3h0M217.6 133.5h0M219.9 116.4h0M210.8 124.7h0M207.3 133.0h0M207.0 134.6h0M225.4 123.6h0M201.5 122.4h0M219.9 130.4h0M218.6 118.6h0M216.3 125.5h0M207.5 135.7h0M230.1 116.0h0M215.3 108.9h0M214.5 128.9h0M222.3 120.6h0M211.1 110.9h0M213.0 114.3h0M206.6 130.9h0M216.4 120.0h0M206.7 129.7h0M206.6 113.7h0M217.8 129.6h0M222.8 130.3h0M222.8 127.0h0M208.7 117.0h0M205.6 127.1h0M231.0 115.2h0M211.5 136.8h0M225.3 120.6h0M205.3 132.4h0" stroke="#ffffff" stroke-width="1.00" stroke-linecap="round" fill="none" opacity="0.50"/>
<path d="M218.5 190.8h0M218.6 183.6h0M206.8 153.3h0M221.6 170.3h0M209.6 159.4h0M203.2 187.3h0M235.7 167.3h0M227.3 165.0h0M230.0 184.5h0M209.8 173.6h0M215.3 149.1h0M230.6 182.1h0M218.2 150.5h0M232.6 171.4h0M204.9 162.4h0M223.7 186.3h0M218.9 175.9h0M209.5 159.0h0M233.2 165.0h0M206.0 173.8h0M206.8 157.2h0M218.0 173.6h0M224.1 178.7h0M217.4 151.6h0M218.5 165.7h0M225.3 179.0h0M210.6 176.3h0M226.0 168.7h0M207.3 187.3h0M222.8 151.4h0M210.3 165.4h0M229.2 183.7h0M224.0 180.2h0M210.7 188.3h0M209.9 177.3h0M234.0 175.8h0M208.8 183.0h0M208.0 170.5h0M206.1 182.1h0M202.6 184.9h0M221.3 183.6h0M219.5 175.0h0M222.7 182.7h0M221.0 161.1h0M216.0 149.0h0M230.6 183.2h0M218.0 153.9h0M224.5 157.5h0M217.0 153.4h0M235.6 171.9h0M214.5 152.7h0M227.3 184.8h0M215.0 161.6h0M205.0 153.5h0M226.0 174.1h0M220.1 168.1h0M216.3 174.7h0M224.5 187.6h0M227.3 182.6h0M225.6 184.8h0M217.1 186.0h0M208.6 188.8h0M217.5 178.7h0M211.1 161.5h0M214.3 162.5h0M205.7 167.5h0M228.0 160.4h0M211.0 166.2h0M203.2 158.5h0M213.6 181.4h0M228.8 186.5h0M229.4 171.3h0M206.1 183.8h0M213.1 175.3h0M214.9 171.5h0M220.5 176.3h0M220.8 188.6h0M216.3 187.5h0M205.5 157.7h0M212.2 187.2h0M203.0 159.8h0M208.5 167.3h0M225.8 178.1h0M227.8 180.7h0M210.9 159.6h0M203.4 178.1h0M209.6 159.7h0M235.2 176.0h0M222.5 176.6h0M222.8 178.2h0M212.8 151.4h0M214.8 154.7h0M206.3 169.7h0M211.8 181.4h0M208.5 153.0h0M212.8 166.1h0M225.9 167.6h0M234.1 163.2h0M230.6 158.3h0M231.5 182.8h0M225.2 160.5h0M224.8 173.6h0M224.9 156.4h0M207.4 152.8h0M224.6 172.9h0M210.1 151.5h0M203.0 184.9h0M206.9 189.6h0M214.8 179.4h0M207.2 182.2h0M211.0 164.3h0M220.2 153.4h0M210.9 182.5h0M212.2 164.9h0M228.4 158.2h0M209.1 158.0h0M215.5 164.2h0M224.2 168.8h0M225.0 184.2h0M210.5 149.9h0M217.4 153.6h0M218.1 178.9h0M205.7 153.7h0M218.8 156.1h0M210.3 167.4h0M206.5 151.6h0M214.7 168.6h0M234.3 172.3h0M204.9 158.2h0M227.7 172.6h0M234.5 171.0h0M210.6 156.0h0M205.3 160.0h0M233.8 168.3h0M217.9 162.2h0M209.5 176.9h0M214.7 153.8h0M235.9 169.2h0M224.6 170.6h0M203.3 168.7h0M227.6 171.5h0M210.4 169.9h0M223.0 176.4h0M207.4 182.9h0M231.6 164.3h0M210.2 174.1h0M209.9 150.2h0M217.4 154.7h0M209.0 180.5h0M222.3 188.6h0M216.1 177.6h0M210.4 169.0h0M219.8 189.0h0M219.2 190.9h0M223.6 157.9h0M210.2 189.6h0M213.4 166.0h0M214.1 177.1h0M203.3 164.6h0M208.0 183.9h0M202.5 174.5h0M211.2 168.0h0M221.5 178.9h0M207.2 158.9h0M206.6 189.5h0M207.6 154.5h0M220.2 173.4h0M210.4 155.8h0M222.4 167.9h0M216.4 186.5h0M224.9 185.3h0M234.4 166.0h0M204.2 187.6h0M212.3 161.0h0M216.7 171.2h0M231.3 183.0h0M224.7 170.5h0M206.5 159.1h0M224.8 173.6h0M205.1 186.8h0M221.8 156.4h0M226.0 159.6h0M210.5 164.3h0M220.3 177.5h0M205.0 180.2h0M223.7 168.7h0M225.3 182.7h0M202.8 168.9h0M225.5 178.8h0M224.5 156.4h0M210.4 167.0h0M216.4 189.6h0M227.4 164.0h0M225.0 181.3h0M206.8 158.2h0M209.8 160.0h0M216.3 166.6h0M205.1 173.4h0M234.4 173.2h0M214.6 178.6h0M217.3 156.2h0M225.4 155.5h0M215.0 189.6h0M228.5 184.2h0M224.3 175.7h0M209.2 181.3h0M212.7 159.6h0M230.4 174.2h0M222.5 157.1h0M203.0 171.4h0M227.1 160.3h0M208.4 178.3h0M211.5 178.9h0M206.4 188.4h0M213.9 170.9h0M213.4 166.4h0M218.7 159.7h0M208.0 152.6h0M223.7 178.3h0M211.4 182.3h0M227.2 163.2h0M219.2 156.7h0M234.0 172.5h0M204.2 155.2h0M226.0 165.1h0M226.8 158.5h0M229.5 182.8h0M205.7 173.6h0M209.0 178.8h0M229.8 182.3h0M210.3 152.7h0M225.0 172.7h0M207.2 156.9h0M222.2 153.3h0M224.0 158.9h0M211.3 166.7h0M220.6 179.5h0M203.5 179.5h0M210.0 161.1h0M224.2 178.1h0M223.3 187.0h0M209.4 161.9h0M225.0 159.8h0M207.8 158.3h0M228.6 183.8h0M229.4 161.9h0M213.2 179.4h0M204.4 174.6h0M219.9 155.1h0M218.2 157.1h0M206.6 170.2h0M220.2 164.1h0M226.8 171.2h0M204.9 165.1h0M218.9 159.4h0M225.2 158.1h0M213.3 169.0h0M226.6 181.4h0M215.1 167.7h0M223.5 153.2h0" stroke="#ffffff" stroke-width="1.00" stroke-linecap="round" fill="none" opacity="0.50"/>
<path d="M133.1 220.7h0M117.5 211.6h0M141.0 202.8h0M148.2 210.1h0M115.4 207.8h0M113.8 202.2h0M116.4 190.7h0M119.2 215.1h0M151.2 195.9h0M131.7 204.8h0M117.2 199.8h0M123.7 226.2h0M133.9 237.7h0M140.2 202.2h0M133.6 224.9h0M127.5 200.1h0M123.5 211.8h0M152.2 204.0h0M127.7 196.9h0M131.3 230.5h0M152.6 217.4h0M151.9 230.4h0M124.0 206.3h0M129.2 205.6h0M131.0 220.7h0M153.8 227.0h0M146.2 227.0h0M150.2 200.3h0M142.7 207.1h0M151.5 194.0h0M137.1 204.8h0M150.6 205.2h0M151.7 231.9h0M153.4 194.3h0M156.2 226.4h0M143.7 221.5h0M137.5 211.1h0M127.6 228.5h0M148.8 233.1h0M121.6 205.0h0M123.2 192.2h0M149.5 199.0h0M146.8 197.4h0M133.4 208.2h0M126.1 220.5h0M154.2 211.9h0M154.4 225.9h0M126.2 233.3h0M139.4 230.9h0M136.1 212.6h0M131.2 233.7h0M143.2 197.9h0M128.7 206.2h0M132.0 225.0h0M136.4 230.5h0M149.1 205.8h0M121.9 226.4h0M149.7 198.5h0M132.1 207.1h0M121.0 202.9h0M127.1 225.8h0M120.2 215.9h0M135.3 222.4h0M149.4 196.6h0M128.6 236.0h0M135.4 234.6h0M135.8 236.4h0M141.5 229.6h0M131.6 218.9h0M123.7 201.6h0M131.4 214.2h0M145.6 226.6h0M122.7 200.5h0M121.0 218.0h0M145.8 226.7h0M145.4 224.6h0M124.4 231.4h0M155.6 189.7h0M149.5 222.9h0M118.1 211.3h0M127.4 227.6h0M123.0 197.5h0M119.0 208.7h0M140.9 203.0h0M119.1 198.5h0M115.4 197.2h0M126.4 213.7h0M120.1 212.4h0M132.4 238.6h0M134.6 237.1h0M133.9 197.4h0M119.4 190.8h0M130.6 205.7h0M131.7 205.6h0M144.4 207.7h0M152.0 225.6h0M128.3 220.4h0M132.0 202.7h0M137.8 222.1h0M118.3 206.3h0M152.1 228.9h0M139.6 222.9h0M127.6 237.1h0M137.6 208.3h0M120.0 193.0h0M154.3 229.4h0M112.6 204.1h0M134.3 213.2h0M128.7 234.4h0M128.1 215.1h0M134.1 204.6h0M129.8 219.2h0M148.9 200.7h0M129.0 207.5h0M128.7 235.4h0M137.1 201.5h0M127.2 230.5h0M112.3 197.2h0M118.3 199.0h0M114.1 200.9h0M146.4 225.1h0M132.1 197.1h0M147.1 232.5h0M153.1 226.9h0M145.2 220.4h0M116.7 195.5h0M120.0 219.3h0M132.1 207.7h0M123.4 199.3h0M145.1 196.2h0M119.9 195.0h0M128.1 226.0h0M132.4 228.9h0M138.9 210.9h0M153.5 218.8h0M127.4 207.9h0M118.1 196.2h0M129.7 223.6h0M148.9 214.2h0M131.1 222.4h0M138.6 225.6h0M130.9 237.9h0M140.8 203.7h0M129.3 201.2h0M154.6 229.0h0M149.1 230.5h0M126.5 227.1h0M123.9 219.3h0M134.7 201.5h0M155.5 191.3h0M155.9 227.1h0M139.4 209.6h0M156.0 191.5h0M124.6 192.9h0M153.0 210.4h0M146.1 200.5h0M146.3 221.3h0M116.0 213.1h0M145.9 198.3h0M142.6 201.7h0M129.0 235.7h0M131.7 217.3h0M150.0 227.2h0M133.2 232.8h0M130.5 237.3h0M141.8 206.9h0M123.2 230.2h0M133.6 211.8h0M145.7 225.6h0M127.7 236.4h0M120.2 194.2h0M120.2 213.5h0M127.4 195.6h0M148.9 200.2h0M155.0 198.6h0M154.7 219.4h0M157.8 227.8h0M141.5 215.2h0M152.2 210.5h0M149.9 223.1h0M147.0 199.2h0M133.5 230.6h0M119.0 223.2h0M137.8 208.4h0M119.3 194.2h0M133.8 213.1h0M124.1 206.4h0M137.8 227.4h0M153.7 206.4h0M118.0 217.8h0M137.5 203.6h0M112.7 197.8h0M117.2 202.0h0M141.5 216.8h0M128.7 237.3h0M141.7 215.7h0M152.6 222.5h0M128.6 219.0h0M151.4 222.4h0M113.7 209.5h0M131.2 234.8h0M139.5 230.7h0M111.9 197.7h0M124.1 233.7h0M136.0 204.1h0M124.3 194.8h0M128.7 222.0h0M146.1 216.2h0M128.5 234.7h0M123.5 194.4h0M118.9 194.8h0M139.5 229.4h0M119.0 213.6h0M138.8 216.7h0M131.1 215.8h0M131.5 199.5h0M147.6 199.7h0M150.8 199.7h0M115.7 212.3h0M129.9 204.7h0M147.9 198.7h0M143.4 231.2h0M133.0 213.6h0M120.0 190.6h0M115.2 204.5h0M131.6 203.3h0M135.8 236.6h0M123.0 195.1h0M125.9 204.1h0M154.9 224.4h0M131.8 195.7h0M113.5 193.4h0M151.9 221.3h0M118.8 220.1h0M146.9 225.0h0M143.4 209.9h0M122.0 208.1h0M120.8 191.6h0M127.3 201.0h0M143.4 198.7h0M130.5 223.5h0M116.1 213.6h0M134.7 197.2h0M143.4 213.2h0M150.0 202.4h0M156.0 230.2h0M144.1 223.9h0M139.2 225.3h0M128.0 223.8h0M128.9 224.7h0M152.7 220.7h0M129.5 222.6h0M128.2 233.3h0M154.8 228.6h0M152.7 218.1h0M120.7 214.4h0M134.4 204.8h0M129.2 214.0h0M139.5 198.7h0M124.6 213.6h0M135.4 209.1h0M143.1 196.7h0M136.8 201.5h0M148.2 224.3h0M148.7 214.4h0M135.8 206.8h0M125.2 208.2h0M145.2 230.4h0M134.4 225.7h0M121.5 210.9h0M128.4 203.2h0M128.5 227.0h0M146.4 197.9h0M122.5 228.6h0M142.7 222.8h0M141.7 223.7h0M149.8 199.1h0M149.4 226.0h0M134.7 206.5h0M124.2 212.8h0M132.3 209.3h0M120.1 195.3h0M124.8 235.9h0M152.1 204.5h0M131.8 197.1h0M148.3 206.8h0M132.4 208.0h0M139.8 200.5h0M129.1 227.3h0M127.2 223.0h0M141.2 196.9h0M140.6 202.5h0M120.9 232.3h0M154.9 199.3h0M139.4 217.4h0M126.9 221.1h0M140.1 214.0h0M117.2 198.2h0M126.2 209.0h0M128.7 234.8h0M122.8 232.4h0M123.0 218.1h0M149.4 229.9h0M124.2 228.1h0M113.9 207.1h0M122.2 220.1h0M148.6 231.6h0M137.6 207.5h0M123.8 226.9h0M132.4 239.6h0M115.7 211.4h0M115.8 191.7h0M129.0 209.9h0M135.6 202.3h0M144.9 214.3h0M135.8 213.1h0M129.1 232.6h0M128.4 204.7h0M140.7 216.8h0M136.8 204.3h0M127.0 231.8h0M127.5 209.1h0M130.6 195.5h0M143.0 222.2h0M132.7 208.5h0M122.4 228.8h0M133.2 231.1h0M129.3 225.8h0M112.7 198.6h0M143.7 213.3h0M133.9 197.4h0M119.6 221.2h0M144.5 200.6h0M135.7 203.6h0M134.5 219.6h0M117.8 203.3h0M143.8 215.9h0M140.8 228.3h0M138.7 198.7h0M132.5 231.0h0M138.4 226.9h0M128.7 210.7h0M157.8 230.6h0M146.2 201.1h0M151.8 196.3h0M151.0 214.5h0M132.4 231.0h0M144.3 215.2h0M152.6 197.7h0M154.3 204.9h0M112.5 204.8h0M118.9 202.4h0M124.7 235.8h0M149.4 201.8h0M155.7 229.9h0M146.4 199.0h0M137.7 219.4h0M152.6 194.5h0M144.8 211.5h0M149.0 211.1h0M124.8 226.5h0M151.1 200.1h0M144.6 207.9h0M122.0 198.4h0M135.7 213.5h0M128.4 198.0h0M127.9 225.8h0M142.8 208.5h0M135.6 228.7h0M120.8 225.3h0M128.2 230.0h0M115.8 201.6h0M141.7 212.5h0M129.4 217.6h0M121.7 210.1h0M123.5 231.0h0M137.7 218.8h0M148.5 202.4h0M152.6 228.7h0M143.8 230.2h0M132.2 222.7h0M116.1 208.8h0M121.9 232.9h0M129.9 194.8h0M120.1 217.6h0M120.4 212.1h0M137.1 210.2h0M135.4 231.3h0M148.1 217.2h0M137.1 198.5h0M148.7 203.2h0M146.1 199.0h0M138.7 221.3h0M129.1 212.4h0M137.7 225.8h0M123.4 191.5h0M134.7 200.2h0M125.7 211.4h0M129.1 228.8h0M144.7 228.3h0M131.0 236.3h0M130.1 203.5h0M135.8 210.3h0M132.2 227.7h0M151.1 212.2h0M119.8 208.5h0M154.0 208.5h0M143.0 216.6h0M133.4 217.4h0M123.0 216.5h0M129.0 233.7h0M141.3 220.5h0M151.7 211.9h0M117.6 202.8h0M145.4 225.6h0M121.1 221.0h0M142.8 221.8h0M126.9 218.6h0M127.4 193.7h0M143.4 202.1h0" stroke="#ffffff" stroke-width="1.00" stroke-linecap="round" fill="none" opacity="0.50"/>
<path d="M148.4 128.0h0M129.5 166.4h0M96.3 160.5h0M89.3 159.9h0M115.8 118.4h0M117.9 143.0h0M119.4 114.0h0M127.7 127.6h0M162.0 133.9h0M121.0 122.1h0M162.1 129.3h0M137.2 168.2h0M117.7 162.3h0M90.7 139.0h0M121.4 162.9h0M108.7 116.3h0M127.4 137.2h0M105.8 147.5h0M121.7 174.6h0M110.7 149.4h0M110.6 159.3h0M97.2 140.8h0M127.3 115.1h0M150.7 136.5h0M106.8 123.1h0M160.2 135.8h0M133.5 170.6h0M140.9 149.5h0M143.0 125.9h0M125.7 118.9h0M121.1 126.2h0M132.6 127.5h0M108.6 153.7h0M94.0 165.8h0M125.6 122.2h0M96.3 143.5h0M126.2 159.6h0M116.2 136.2h0M156.2 125.6h0M107.2 166.8h0M134.6 120.3h0M149.8 147.3h0M93.5 170.6h0M100.9 124.5h0M134.9 119.5h0M123.1 159.1h0M94.8 155.1h0M95.5 141.0h0M137.5 157.1h0M161.4 134.5h0M120.2 133.3h0M141.1 161.2h0M137.5 135.4h0M131.3 144.0h0M101.9 177.1h0M163.9 140.2h0M152.1 123.1h0M155.2 125.1h0M148.1 141.0h0M111.5 132.8h0M131.2 120.9h0M113.3 112.5h0M99.3 159.4h0M104.6 169.4h0M112.8 169.5h0M110.7 125.1h0M121.0 133.7h0M95.1 158.9h0M132.3 143.2h0M106.4 126.6h0M162.2 133.1h0M97.0 169.4h0M89.0 159.0h0M129.8 166.7h0M99.3 145.9h0M107.9 135.2h0M102.1 158.7h0M131.6 164.2h0M135.8 150.4h0M131.1 129.6h0M158.9 133.0h0M95.3 130.1h0M137.2 155.2h0M121.7 139.9h0M146.0 128.9h0M95.9 152.0h0M149.8 123.6h0M125.4 130.2h0M121.8 165.2h0M136.1 117.9h0M93.3 139.2h0M88.8 141.4h0M119.2 177.5h0M119.3 169.5h0M147.5 149.4h0M105.7 128.0h0M125.3 134.8h0M137.2 143.3h0M112.3 151.0h0M120.0 168.5h0M151.9 149.4h0M132.1 105.7h0M117.0 124.7h0M135.3 109.7h0M129.2 133.4h0M125.3 135.6h0M95.3 160.5h0M149.1 150.3h0M96.3 150.4h0M108.7 174.9h0M106.5 148.7h0M116.6 127.3h0M146.1 151.7h0M113.0 146.1h0M159.0 147.9h0M157.8 147.9h0M122.9 146.8h0M135.5 141.2h0M136.3 145.4h0M137.4 165.8h0M105.8 133.8h0M104.9 158.5h0M128.2 150.9h0M112.5 149.5h0M127.2 134.1h0M114.1 166.0h0M100.9 147.3h0M125.4 176.1h0M100.0 168.9h0M118.0 146.5h0M112.8 116.6h0M97.7 127.9h0M141.4 149.0h0M96.8 165.9h0M126.5 115.6h0M104.1 176.4h0M136.3 168.2h0M163.3 129.7h0M111.6 156.9h0M131.1 125.7h0M106.8 146.1h0M97.8 170.3h0M141.2 156.1h0M96.8 164.1h0M146.5 128.1h0M95.0 126.2h0M146.9 140.3h0M95.6 131.3h0M93.1 162.1h0M94.4 155.7h0M118.9 139.0h0M106.1 164.9h0M128.4 158.1h0M97.2 134.1h0M110.0 126.2h0M144.4 121.0h0M112.5 126.2h0M154.0 153.4h0M124.5 133.7h0M122.1 147.9h0M153.9 124.3h0M126.1 163.3h0M99.5 137.7h0M163.8 141.4h0M116.9 168.7h0M156.2 133.4h0M96.9 153.3h0M138.3 128.2h0M127.1 126.7h0M121.8 140.4h0M158.8 141.2h0M154.7 136.2h0M116.3 167.9h0M103.9 162.1h0M123.5 136.1h0M102.6 165.7h0M116.3 136.3h0M131.8 172.6h0M115.6 112.9h0M92.7 144.3h0M132.4 138.8h0M163.1 136.3h0M114.5 136.6h0M100.6 176.4h0M133.0 146.1h0M120.2 123.8h0M111.7 142.4h0M121.8 179.4h0M130.8 120.5h0M114.1 164.4h0M147.6 138.4h0M128.8 145.4h0M138.9 157.3h0M116.7 174.8h0M150.6 127.7h0M92.6 146.9h0M137.8 121.8h0M90.8 141.9h0M90.0 160.9h0M135.6 126.0h0M121.8 122.5h0M101.7 118.5h0M150.3 139.3h0M142.6 131.2h0M149.6 150.2h0M137.8 134.7h0M130.7 119.2h0M128.5 153.4h0M95.1 130.2h0M105.2 169.0h0M142.8 127.7h0M105.3 158.4h0M110.4 159.9h0M114.4 162.7h0M131.6 166.9h0M163.4 133.6h0M129.4 134.3h0M146.8 128.7h0M103.5 164.5h0M129.8 162.4h0M125.1 107.5h0M107.4 155.5h0M146.3 153.3h0M121.6 160.6h0M139.0 120.4h0M128.7 150.3h0M143.6 119.8h0M111.4 130.9h0M94.8 131.3h0M143.6 148.8h0M100.7 160.5h0M96.4 162.0h0M106.8 144.0h0M108.2 172.2h0M159.7 126.3h0M130.7 124.2h0M112.2 119.8h0M120.6 173.2h0M156.8 125.5h0M115.7 113.8h0M101.3 123.8h0M132.0 138.7h0M110.9 144.8h0M113.9 174.7h0M148.4 147.6h0M124.1 129.8h0M97.7 172.3h0M134.3 112.2h0M90.0 158.2h0M105.8 145.6h0M151.7 131.4h0M125.8 155.5h0M102.2 152.5h0M120.2 179.7h0M101.9 159.0h0M128.1 118.0h0M135.4 170.4h0M97.2 121.3h0M146.4 140.6h0M159.3 130.5h0M118.1 177.8h0M113.9 178.4h0M129.5 176.5h0M96.4 169.5h0M133.7 112.3h0M111.9 156.9h0M119.1 162.0h0M117.0 166.0h0M123.8 166.7h0M110.6 146.3h0M89.3 142.0h0M93.5 170.3h0M139.6 137.1h0M141.7 160.2h0M134.1 105.9h0M158.6 138.2h0M133.3 166.9h0M158.6 125.3h0M103.6 115.9h0M132.4 114.7h0M119.3 176.9h0M90.7 157.8h0M125.4 142.2h0M98.6 143.8h0M154.9 136.7h0M107.9 123.0h0M122.8 154.1h0M131.3 172.6h0M126.8 143.8h0M111.5 114.2h0M158.4 141.7h0M110.7 160.3h0M103.3 147.0h0M133.3 163.9h0M100.3 131.0h0M137.4 164.2h0M127.2 147.6h0M138.0 149.6h0M125.5 162.4h0M131.5 114.5h0" stroke="#b01820" stroke-width="1.00" stroke-linecap="round" fill="none" opacity="0.50"/>
<path d="M165.1 74.7h0M165.5 83.0h0M161.8 72.9h0M165.2 71.7h0M143.9 92.5h0M163.6 76.3h0M173.8 71.5h0M155.4 50.6h0M188.4 105.4h0M157.9 77.3h0M159.8 53.2h0M189.4 99.3h0M155.5 64.8h0M179.3 96.9h0M167.4 72.7h0M155.1 97.0h0M187.9 100.6h0M148.9 84.9h0M166.9 58.3h0M146.1 93.1h0M146.6 97.7h0M177.6 77.8h0M189.4 105.0h0M173.6 74.7h0M156.0 104.8h0M154.9 70.0h0M172.8 69.0h0M165.9 97.9h0M152.5 92.4h0M160.2 105.7h0M164.3 86.7h0M176.2 70.0h0M158.9 86.4h0M156.2 84.4h0M157.3 96.1h0M151.1 65.2h0M165.8 103.6h0M151.6 61.1h0M149.8 62.4h0M160.3 73.1h0M167.7 73.2h0M183.3 103.3h0M165.1 104.3h0M156.0 107.7h0M170.3 90.1h0M162.8 65.8h0M150.0 102.2h0M161.7 91.1h0M167.0 80.9h0M153.8 60.2h0M160.5 90.1h0M146.6 65.1h0M154.0 98.5h0M171.6 69.1h0M155.9 67.0h0M157.6 70.2h0M184.1 96.5h0M179.3 102.2h0M156.4 81.0h0M165.3 64.1h0M160.7 52.4h0M177.0 70.8h0M148.2 61.5h0M184.9 107.7h0M176.4 90.1h0M157.7 65.9h0M147.5 108.1h0M145.3 86.0h0M161.2 60.8h0M165.7 104.9h0M155.9 59.5h0M175.7 88.7h0M169.6 60.4h0M152.1 64.0h0M169.7 77.9h0M171.8 92.8h0M145.2 99.0h0M150.4 85.4h0M158.3 100.2h0M178.7 96.8h0M164.2 58.9h0M150.0 59.5h0M163.9 57.2h0M163.0 82.4h0M171.7 73.6h0M160.1 105.0h0M187.9 104.3h0M149.1 64.8h0M148.1 101.6h0M159.7 73.9h0M179.7 96.9h0M184.4 101.9h0M159.5 58.3h0M182.6 90.8h0M162.3 70.1h0M151.0 99.0h0M167.0 97.9h0M160.7 68.7h0M169.7 93.9h0M187.8 94.8h0M171.9 71.2h0M157.2 102.2h0M147.4 61.3h0M171.8 81.7h0M164.3 82.7h0M147.7 104.2h0M148.4 57.9h0M178.0 87.7h0M184.9 90.8h0M170.6 95.4h0M151.1 81.0h0M163.7 78.1h0M157.4 106.7h0M183.7 90.0h0M158.8 93.1h0M168.3 97.0h0M161.9 102.0h0M178.6 76.4h0M172.3 97.4h0M170.5 106.6h0M143.4 102.9h0M180.1 78.7h0M160.6 92.0h0M147.0 83.5h0M159.7 65.2h0M166.3 54.3h0M190.3 99.4h0M172.1 76.1h0M159.0 85.4h0M149.4 70.2h0M149.6 74.8h0M154.5 51.1h0M157.2 53.1h0M170.5 67.5h0M178.0 83.0h0M174.1 67.5h0M181.2 90.6h0M180.1 77.6h0M167.1 66.7h0M187.7 101.8h0M187.4 98.1h0M168.4 60.1h0M157.1 93.4h0M161.2 85.1h0M148.8 99.7h0M160.6 103.6h0M160.1 67.8h0M152.1 107.0h0M173.7 98.7h0M146.3 81.9h0M170.8 106.4h0M156.2 51.2h0M172.2 71.1h0M173.0 105.1h0M156.4 98.4h0M162.1 84.2h0M155.3 91.7h0M150.5 54.3h0M166.9 96.8h0M170.7 66.0h0" stroke="#2a6a90" stroke-width="1.00" stroke-linecap="round" fill="none" opacity="0.50"/>
<path d="M216.5 139.8h0M223.0 128.4h0M226.5 118.9h0M217.8 135.0h0M206.7 135.4h0M201.4 123.6h0M218.2 109.3h0M228.9 120.0h0M206.3 119.0h0M218.8 119.7h0M222.5 108.8h0M208.4 133.5h0M223.8 125.9h0M213.8 112.7h0M218.7 139.8h0M221.9 107.9h0M207.4 120.0h0M230.9 115.8h0M210.3 121.3h0M205.6 118.7h0M222.1 115.8h0M225.0 110.7h0M203.7 126.9h0M214.5 137.5h0M203.8 131.2h0M221.2 117.5h0M204.5 126.3h0M223.9 121.3h0M215.1 129.0h0M219.3 119.5h0M206.3 120.9h0M217.5 136.7h0M210.7 112.1h0M220.0 131.0h0M208.2 129.2h0M231.3 118.3h0M229.4 119.9h0M220.6 135.6h0M206.8 116.6h0M210.0 121.4h0M223.5 127.0h0M201.7 119.8h0M201.4 123.2h0M220.0 111.4h0M226.9 119.1h0M230.1 117.1h0M219.6 123.8h0M208.7 132.5h0M210.4 136.2h0M209.8 126.2h0M225.4 108.0h0M224.5 118.3h0M216.7 119.4h0M214.1 140.2h0M223.2 129.6h0M226.1 128.6h0M220.0 115.4h0M208.8 137.6h0M211.1 116.7h0M204.0 130.5h0M225.4 132.8h0M224.9 108.4h0M216.4 112.6h0M226.9 108.4h0M230.8 119.1h0M224.3 133.3h0M218.4 140.0h0M230.2 107.0h0M223.6 112.3h0M210.6 116.5h0" stroke="#6a3462" stroke-width="1.00" stroke-linecap="round" fill="none" opacity="0.50"/>
<path d="M217.2 154.1h0M236.3 169.8h0M226.3 170.8h0M228.5 163.0h0M216.5 180.3h0M226.3 186.4h0M213.0 184.8h0M227.5 173.1h0M216.3 172.8h0M205.1 152.8h0M213.1 153.9h0M204.2 179.2h0M227.3 174.9h0M209.5 179.4h0M230.5 175.0h0M210.2 172.7h0M215.9 160.1h0M207.5 185.5h0M223.9 188.3h0M208.3 159.9h0M219.8 151.2h0M212.7 171.7h0M218.8 187.4h0M222.1 175.8h0M222.3 182.1h0M206.8 153.5h0M210.0 176.7h0M211.3 164.9h0M211.3 159.1h0M213.5 166.3h0M214.7 162.5h0M203.1 184.3h0M227.5 169.6h0M233.0 168.1h0M209.5 183.5h0M219.5 172.6h0M206.5 162.3h0M223.5 177.3h0M223.8 175.1h0M215.3 151.6h0M203.0 184.3h0M205.1 181.4h0M208.3 163.4h0M209.3 185.2h0M230.3 184.1h0M215.4 188.5h0M211.3 173.1h0M225.3 158.6h0M215.4 153.0h0M229.5 156.5h0M207.1 160.5h0M224.2 175.8h0M220.3 185.0h0M228.0 157.6h0M220.6 155.9h0M210.7 154.9h0M205.1 163.6h0M232.6 176.6h0M205.5 158.0h0M222.6 171.2h0M221.7 174.3h0M205.2 181.5h0M210.6 173.7h0M220.5 163.2h0M234.6 165.5h0M216.8 171.7h0M228.6 171.6h0M226.8 175.8h0M228.3 157.9h0M221.8 167.4h0M210.3 181.9h0M210.0 178.9h0M219.1 166.8h0M226.5 179.5h0M229.6 159.9h0M225.2 169.8h0M234.4 167.7h0M214.6 149.8h0M218.4 171.3h0M213.0 153.2h0M218.9 151.7h0M208.3 167.6h0M214.3 170.0h0M220.5 165.2h0M221.5 189.9h0M212.0 163.6h0M213.3 180.3h0M219.2 182.5h0M209.5 164.4h0M216.0 165.1h0M235.2 167.4h0M222.0 189.6h0M224.3 174.0h0M230.6 162.9h0M220.6 173.4h0M204.8 180.4h0M215.2 176.0h0M212.1 187.7h0M215.0 160.4h0M211.7 169.4h0" stroke="#6a3462" stroke-width="1.00" stroke-linecap="round" fill="none" opacity="0.50"/>
<path d="M121.4 229.2h0M114.9 208.9h0M148.8 224.7h0M153.9 205.9h0M150.3 211.9h0M154.0 212.3h0M123.6 194.9h0M138.8 232.7h0M118.5 212.4h0M146.0 213.9h0M119.2 199.7h0M117.9 214.1h0M139.2 211.3h0M145.7 215.4h0M126.1 231.2h0M129.9 210.8h0M123.6 226.4h0M154.6 194.3h0M153.9 210.8h0M116.3 211.1h0M136.1 228.6h0M120.2 201.7h0M147.3 209.4h0M155.6 198.8h0M153.3 199.0h0M114.9 207.5h0M136.0 215.5h0M132.7 204.3h0M151.1 223.6h0M117.1 192.5h0M113.8 200.9h0M147.8 212.0h0M117.0 198.4h0M117.5 219.3h0M124.0 232.9h0M154.3 216.8h0M140.4 219.5h0M148.2 214.4h0M116.8 198.7h0M116.4 200.2h0M149.4 215.9h0M128.4 238.1h0M139.1 199.6h0M138.4 232.3h0M129.0 210.0h0M141.9 196.5h0M139.2 204.0h0M134.0 224.8h0M126.3 218.7h0M150.6 211.7h0M141.5 202.2h0M123.6 214.0h0M136.8 198.8h0M147.9 213.4h0M128.3 200.4h0M156.2 200.1h0M143.8 204.8h0M132.4 223.2h0M119.0 206.3h0M149.0 223.0h0M121.7 200.5h0M133.8 214.4h0M124.8 211.6h0M120.8 220.0h0M135.7 212.2h0M155.7 227.4h0M144.9 218.6h0M142.6 213.5h0M151.3 218.9h0M113.4 193.5h0M154.6 215.8h0M142.2 229.8h0M115.5 211.5h0M150.1 205.0h0M153.3 192.5h0M127.2 194.8h0M142.8 221.2h0M154.6 227.7h0M145.0 196.1h0M154.5 213.1h0M126.9 222.1h0M145.3 211.3h0M124.5 209.2h0M145.5 199.0h0M118.9 212.6h0M124.1 227.9h0M134.6 233.1h0M145.0 219.9h0M134.4 222.2h0M126.1 232.1h0M138.5 214.0h0M145.3 213.1h0M129.7 216.2h0M112.4 205.6h0M154.8 221.6h0M124.9 229.6h0M142.5 219.0h0M146.8 201.1h0M151.3 215.7h0M147.6 231.5h0M123.5 208.7h0M153.2 223.3h0M134.8 215.9h0M128.4 223.3h0M136.9 213.3h0M123.7 198.7h0M143.4 205.0h0M135.3 237.7h0M147.8 206.2h0M129.9 209.5h0M140.4 214.9h0M148.6 221.3h0M128.7 212.0h0M138.2 226.1h0M157.7 230.8h0M145.6 216.0h0M150.8 229.7h0M141.4 222.4h0M119.8 204.9h0M126.9 232.5h0M148.7 202.3h0M114.3 204.3h0M128.5 207.5h0M152.2 215.2h0M141.5 210.3h0M133.3 237.7h0M124.6 214.8h0M118.3 213.8h0M149.6 209.8h0M118.3 200.7h0M131.5 227.0h0M132.1 209.1h0M130.6 214.6h0M120.4 193.9h0M137.6 205.6h0M143.7 206.2h0M155.7 202.8h0M132.0 203.8h0M136.9 201.8h0M143.4 208.8h0M145.2 202.4h0M133.2 216.5h0M145.7 221.5h0M116.7 194.7h0M120.1 196.6h0M143.0 205.0h0M154.8 199.3h0M123.1 196.6h0M139.0 200.2h0M150.1 222.8h0M131.8 219.2h0M142.8 210.3h0M115.7 206.3h0M148.4 232.8h0M129.2 206.7h0M135.9 200.3h0M121.4 193.7h0M144.2 213.9h0M153.2 219.6h0M141.0 210.1h0" stroke="#2f8450" stroke-width="1.00" stroke-linecap="round" fill="none" opacity="0.50"/>
<path d="M147.7 154.8h0M142.1 106.4h0M165.6 135.0h0M151.4 120.8h0M129.9 105.2h0M149.5 122.2h0M156.5 121.7h0M91.9 173.0h0M97.8 118.0h0M137.5 171.3h0M164.1 148.5h0M87.9 140.7h0M149.1 121.8h0M124.2 178.4h0M103.1 182.5h0M134.5 174.0h0M89.6 136.6h0M152.8 122.2h0M153.6 121.4h0M112.4 183.0h0M96.3 178.6h0M86.6 160.4h0M102.3 110.6h0M95.6 180.7h0M155.1 156.2h0M89.9 132.8h0M133.4 102.3h0M155.2 123.3h0M151.4 156.0h0M137.7 172.4h0M95.5 176.9h0M87.0 160.3h0M133.1 104.3h0M146.6 118.6h0M89.0 136.5h0M90.3 169.1h0M155.5 154.5h0M93.0 173.3h0M112.0 106.9h0M101.4 115.3h0M143.5 113.6h0M164.3 129.1h0M92.1 125.4h0M139.0 104.1h0M128.8 177.8h0M92.2 123.7h0M91.0 174.7h0M165.3 132.1h0M87.3 165.3h0M160.0 154.2h0M144.2 115.8h0M82.2 137.8h0M117.8 104.1h0M88.3 159.9h0M139.5 107.4h0M165.9 148.6h0M88.7 140.4h0M124.7 179.7h0M153.9 122.7h0M87.0 158.7h0M87.8 138.8h0M94.1 175.7h0M140.7 111.1h0M108.5 182.4h0M142.0 165.4h0M136.8 172.3h0M150.8 121.9h0M88.5 130.8h0M112.0 107.7h0M135.6 174.2h0M92.1 124.1h0M90.7 130.4h0M91.0 130.7h0M85.5 150.7h0M79.5 150.0h0M88.8 167.2h0M136.9 172.2h0M87.1 139.2h0M122.8 180.9h0M104.2 114.1h0M163.4 124.1h0M84.0 151.7h0M161.2 153.8h0M96.4 178.1h0M136.5 102.2h0M97.3 178.7h0M133.5 175.0h0M121.2 181.3h0M166.6 142.5h0M158.7 122.6h0M144.0 158.9h0M86.6 164.1h0M109.3 112.3h0M166.4 124.0h0M166.6 140.5h0M149.5 114.4h0M88.9 138.9h0M85.6 156.8h0M164.6 128.3h0M131.7 177.1h0M163.6 130.5h0M94.8 122.9h0M84.1 133.6h0M126.8 105.9h0M162.4 124.5h0M139.3 107.0h0M135.8 101.7h0M84.5 149.5h0M87.1 146.2h0M155.0 119.0h0M132.9 103.6h0M98.3 179.6h0M88.8 133.1h0M124.8 103.7h0M118.9 181.4h0M164.7 130.3h0M136.4 176.3h0M137.8 172.7h0M138.2 173.3h0M85.4 154.7h0M165.3 139.6h0M110.3 111.1h0M95.7 121.8h0M160.9 156.2h0M142.6 112.1h0M144.5 163.4h0M87.7 158.8h0M148.9 121.4h0M141.2 108.9h0M95.2 177.9h0M85.4 162.8h0M94.8 175.4h0M128.3 177.2h0M107.0 113.4h0M104.2 112.8h0M144.3 119.6h0M130.1 105.9h0M87.3 153.2h0M141.0 111.2h0M86.5 153.5h0M121.3 108.5h0M87.7 159.6h0M86.8 138.2h0M119.8 108.2h0M90.2 170.6h0M105.8 183.4h0M91.6 127.2h0M94.6 120.6h0M139.4 168.0h0M164.8 145.0h0M86.1 165.1h0M140.5 107.9h0M157.2 153.9h0M102.7 181.6h0M153.2 157.6h0M123.9 181.6h0M121.0 180.9h0M91.8 173.9h0M141.8 168.8h0M131.3 103.2h0M131.6 175.8h0M89.8 134.6h0M142.1 104.3h0M150.8 122.2h0M89.5 175.1h0M147.4 156.4h0M116.9 110.0h0M165.8 135.9h0M138.2 102.9h0M141.7 165.6h0M144.6 120.2h0M87.5 156.3h0M105.8 112.0h0M146.0 157.0h0M132.7 104.4h0M139.1 172.9h0M158.3 155.4h0M114.8 110.8h0M90.4 165.5h0M97.3 113.5h0M98.0 117.5h0M86.2 155.4h0M130.7 104.8h0M145.5 118.5h0M82.6 145.4h0M149.0 155.1h0M164.5 131.3h0M89.4 132.4h0M91.8 172.3h0M167.1 139.5h0M165.0 146.6h0M110.3 113.0h0M133.8 175.9h0M142.2 168.3h0M93.4 176.0h0M126.2 106.6h0M140.3 110.3h0M155.9 123.4h0M114.0 109.6h0M148.3 154.6h0M172.2 146.2h0M84.9 148.1h0M88.3 139.7h0M140.3 169.2h0M152.0 155.3h0M135.2 173.4h0M147.8 120.3h0M165.3 127.9h0M115.6 110.8h0M135.6 103.3h0M87.3 149.1h0M139.6 107.1h0M139.7 109.4h0M88.2 162.7h0M150.3 122.1h0M117.8 181.7h0M166.7 139.7h0M140.2 167.3h0M87.1 141.0h0M118.4 186.2h0M135.1 100.9h0M96.2 118.9h0M87.9 164.2h0M88.5 165.1h0M163.7 127.8h0M86.7 164.3h0M146.6 156.4h0M166.3 135.4h0M94.2 179.3h0M91.7 170.6h0M143.8 110.9h0M159.5 154.2h0M125.1 105.7h0M154.3 156.5h0M115.2 109.6h0M133.1 174.9h0M91.2 130.0h0M132.1 179.0h0M93.4 180.9h0M168.8 141.9h0M88.0 162.2h0M124.5 106.3h0M165.7 146.9h0M93.8 180.5h0M142.4 168.0h0M155.3 155.7h0M139.1 171.7h0M157.0 155.2h0M119.2 180.9h0M165.6 145.8h0M164.8 129.0h0M87.3 163.6h0M142.4 167.7h0M88.7 138.1h0M86.8 144.5h0M160.7 153.4h0M124.2 106.9h0M165.7 135.0h0M107.2 113.4h0M144.6 158.5h0" stroke="#dc3636" stroke-width="1.10" stroke-linecap="round" fill="none" opacity="0.90"/>
<path d="M158.1 49.5h0M168.7 55.1h0M140.8 61.1h0M169.4 54.7h0M169.4 56.4h0M143.2 99.6h0M141.1 104.8h0M135.3 107.1h0M187.2 87.1h0M183.9 66.9h0M185.4 84.3h0M144.0 82.6h0M144.2 60.6h0M141.5 70.0h0M146.4 52.9h0M145.8 55.7h0M189.4 92.6h0M188.6 109.1h0M190.4 110.1h0M190.8 110.1h0M187.0 88.5h0M192.0 95.2h0M189.8 96.8h0M151.4 50.0h0M144.6 75.7h0M143.4 108.8h0M142.2 82.0h0M186.0 109.4h0M194.3 114.7h0M145.4 72.2h0M167.8 108.3h0M152.6 108.8h0M159.1 114.5h0M144.5 75.0h0M145.0 75.6h0M141.6 107.6h0M188.5 94.6h0M156.0 44.0h0M159.3 108.3h0M190.0 96.5h0M143.3 83.0h0M173.8 63.3h0M174.4 62.3h0M142.7 104.5h0M189.1 96.1h0M170.9 109.2h0M144.3 50.5h0M142.5 72.0h0M162.7 108.4h0M169.9 53.5h0M151.9 50.9h0M145.2 66.2h0M159.7 107.8h0M153.1 49.2h0M153.3 49.2h0M149.9 108.2h0M161.9 49.9h0M141.8 101.6h0M156.5 108.9h0M183.5 83.4h0M186.7 90.3h0M188.6 91.6h0M182.8 79.5h0M188.7 109.2h0M177.2 69.0h0M142.8 75.1h0M194.1 109.9h0M162.1 50.0h0M183.2 83.2h0M183.4 110.5h0M180.3 76.1h0M143.9 66.7h0M159.9 48.5h0M164.1 49.7h0M196.9 99.6h0M179.0 109.2h0M146.7 110.6h0M177.4 109.1h0M195.8 108.2h0M141.4 104.9h0M155.1 49.5h0M176.7 68.6h0M178.4 108.1h0M180.4 108.0h0M170.1 57.9h0M172.7 59.0h0M158.5 45.5h0M142.6 100.8h0M142.7 110.1h0M195.3 105.7h0M179.2 74.9h0M144.9 68.7h0M149.6 109.0h0M185.5 80.4h0M180.9 77.5h0M142.1 95.3h0M198.0 102.6h0M145.1 68.3h0M156.8 108.0h0M174.7 64.4h0M165.9 49.8h0M142.4 105.4h0M166.1 109.8h0M149.2 51.0h0M141.6 92.3h0M170.3 51.3h0M172.5 60.4h0M181.9 79.4h0M185.8 82.7h0M143.0 65.1h0M153.3 49.9h0M158.8 108.4h0M142.6 85.0h0M142.6 57.3h0M145.0 73.7h0M176.8 63.6h0M137.3 72.4h0M143.1 92.9h0M148.8 108.7h0M188.2 94.0h0M191.1 109.0h0M145.5 67.2h0M176.6 64.8h0M174.7 62.7h0M179.3 72.7h0M190.0 109.5h0M165.9 49.3h0M194.8 109.1h0M142.7 100.2h0M185.1 85.8h0M136.5 82.5h0M169.2 54.9h0M155.6 49.8h0M175.3 108.6h0M190.0 94.3h0M174.2 61.8h0M188.0 90.6h0M149.9 109.5h0M163.3 49.7h0M144.9 108.9h0M148.2 109.9h0M180.2 72.6h0M145.2 73.4h0M143.3 59.9h0M194.2 110.3h0M145.0 73.8h0M171.9 61.0h0M163.5 108.1h0M151.2 108.0h0M172.4 58.4h0" stroke="#4a8fb0" stroke-width="1.10" stroke-linecap="round" fill="none" opacity="0.90"/>
<path d="M233.3 121.1h0M200.1 110.6h0M203.3 134.5h0M200.9 126.2h0M220.2 140.7h0M207.3 138.5h0M215.7 107.7h0M200.4 129.2h0M230.9 126.1h0M234.7 110.4h0M231.8 123.4h0M232.2 118.2h0M203.9 136.1h0M222.4 139.2h0M231.9 118.9h0M200.8 119.6h0M232.4 124.3h0M212.8 108.8h0M203.8 135.6h0M224.6 141.7h0M208.1 142.4h0M216.9 105.8h0M231.3 112.2h0M205.9 140.6h0M201.3 130.0h0M229.1 127.7h0M231.9 130.5h0M205.3 113.0h0M210.5 106.4h0M231.5 109.0h0M223.3 102.9h0M204.2 113.3h0M232.7 119.0h0M222.5 140.3h0M232.6 128.9h0M213.5 108.0h0M232.3 122.4h0M210.3 139.5h0M231.6 108.1h0M232.0 122.3h0M206.4 111.3h0M200.0 123.5h0M225.0 136.9h0M201.9 114.2h0M200.3 116.2h0M217.7 140.9h0M214.3 140.9h0M239.2 114.5h0M198.9 127.3h0M199.2 119.3h0M210.1 106.5h0M230.2 130.7h0M231.6 106.9h0M199.6 120.0h0M199.9 126.9h0M217.3 107.0h0M232.4 114.5h0M214.7 141.6h0M231.2 111.7h0M208.4 108.2h0M198.6 130.1h0M199.2 125.5h0M199.9 128.7h0M228.4 130.5h0M213.6 140.4h0M219.6 105.4h0M231.5 115.4h0M219.6 141.1h0M203.5 111.6h0M207.0 138.0h0M235.0 125.3h0M207.9 137.6h0M200.1 121.6h0M230.6 106.0h0M204.4 137.2h0M221.3 139.7h0M199.5 115.9h0M226.3 133.9h0M212.0 141.3h0M200.3 118.4h0M201.5 136.5h0M221.8 104.4h0M202.5 132.1h0M233.6 110.5h0M231.7 109.2h0M197.1 129.1h0M209.1 109.8h0M198.9 109.1h0M230.8 123.4h0M231.6 114.4h0" stroke="#8c5482" stroke-width="1.10" stroke-linecap="round" fill="none" opacity="0.90"/>
<path d="M209.4 190.3h0M201.5 174.2h0M236.9 165.3h0M223.1 191.8h0M236.5 182.5h0M218.7 192.9h0M236.5 174.4h0M225.0 190.0h0M221.6 148.9h0M229.1 193.2h0M237.7 171.6h0M195.3 186.5h0M201.4 182.6h0M196.3 156.9h0M219.2 148.0h0M202.2 178.4h0M215.2 194.0h0M224.5 189.8h0M201.8 182.6h0M210.9 191.6h0M237.3 174.9h0M209.4 190.4h0M203.5 153.6h0M231.8 155.4h0M202.3 189.7h0M200.5 153.7h0M204.8 150.9h0M228.1 187.6h0M207.2 148.2h0M234.2 160.5h0M201.3 167.6h0M237.0 175.1h0M199.7 166.1h0M231.4 158.6h0M222.3 190.9h0M213.8 192.3h0M229.2 152.3h0M231.6 184.7h0M237.3 175.0h0M226.5 150.6h0M201.7 165.8h0M220.4 193.6h0M200.4 188.5h0M217.7 148.5h0M199.9 162.1h0M236.3 182.3h0M207.9 147.9h0M234.7 160.8h0M201.0 166.3h0M235.9 165.6h0M234.9 162.9h0M237.6 172.7h0M217.8 192.0h0M210.9 148.3h0M222.4 192.1h0M213.5 193.8h0M201.8 158.8h0M233.3 182.7h0M198.9 176.4h0M236.0 175.1h0M201.7 178.9h0M230.2 152.3h0M225.6 191.7h0M212.7 148.6h0M214.4 195.0h0M223.1 190.6h0M201.9 165.0h0M238.3 162.5h0M229.7 153.5h0M220.6 148.7h0M207.9 190.4h0M201.8 166.7h0M202.1 170.9h0M202.4 162.4h0M198.6 186.1h0M202.1 162.6h0M230.9 156.4h0M201.7 160.1h0M237.3 162.1h0M201.0 174.6h0M221.6 147.8h0M238.7 161.9h0M199.9 161.2h0M218.9 149.1h0M218.7 192.1h0M235.8 174.7h0M208.5 147.7h0M212.4 192.5h0M202.2 153.3h0M237.3 175.0h0M226.0 152.8h0M204.5 151.3h0M202.1 165.7h0M201.7 170.8h0M203.0 153.5h0M200.8 184.1h0M201.8 185.7h0M220.9 190.9h0M237.3 175.3h0M221.8 191.6h0M225.0 190.1h0M230.0 156.3h0M235.2 181.0h0M232.9 185.4h0M205.3 189.4h0M201.4 181.7h0M204.8 152.5h0M211.9 148.0h0M196.5 177.2h0M230.1 157.1h0" stroke="#8c5482" stroke-width="1.10" stroke-linecap="round" fill="none" opacity="0.90"/>
<path d="M114.2 214.1h0M150.8 233.4h0M146.1 193.8h0M119.9 226.5h0M146.6 234.8h0M158.8 194.7h0M160.6 227.6h0M157.7 221.7h0M159.6 188.4h0M156.8 231.8h0M155.4 210.1h0M153.6 232.9h0M142.5 195.5h0M137.3 236.7h0M117.9 190.5h0M132.5 240.6h0M141.6 234.1h0M154.2 187.8h0M114.0 215.0h0M112.8 215.1h0M156.3 204.8h0M159.3 228.2h0M110.6 207.9h0M137.9 234.9h0M155.0 208.5h0M138.1 235.7h0M135.3 196.2h0M115.6 230.0h0M158.8 191.6h0M107.9 194.8h0M113.1 212.0h0M155.9 187.2h0M152.5 191.9h0M109.2 194.7h0M136.0 238.0h0M150.4 192.9h0M150.9 193.2h0M109.7 207.8h0M116.4 224.8h0M150.5 233.2h0M138.5 235.7h0M157.4 195.7h0M157.2 211.8h0M114.6 229.2h0M157.3 214.3h0M151.4 233.0h0M156.9 201.2h0M160.0 187.2h0M147.8 235.7h0M135.2 239.6h0M156.3 187.6h0M109.4 201.3h0M133.9 241.7h0M156.1 202.7h0M155.1 210.4h0M114.0 213.5h0M139.4 235.3h0M152.3 238.2h0M112.1 212.4h0M136.3 197.6h0M120.0 229.3h0M118.9 229.4h0M145.9 195.0h0M128.7 193.2h0M157.1 202.9h0M155.4 215.6h0M156.4 218.2h0M138.5 196.7h0M120.2 232.8h0M145.8 193.7h0M107.1 199.2h0M137.3 236.4h0M156.5 220.1h0M155.4 218.0h0M133.8 240.9h0M160.9 209.7h0M154.8 234.1h0M157.8 195.3h0M154.7 187.6h0M127.8 239.8h0M113.2 212.6h0M129.5 192.3h0M120.0 190.3h0M160.6 213.9h0M133.0 240.6h0M148.1 193.8h0M115.4 217.7h0M136.9 237.0h0M118.4 223.3h0M115.5 190.1h0M109.4 205.2h0M160.5 195.9h0M125.9 190.9h0M142.0 234.2h0M121.2 235.3h0M111.1 205.2h0M112.6 216.3h0M114.9 191.2h0M134.4 196.4h0M119.5 190.1h0M152.7 234.5h0M158.5 193.4h0M108.1 193.1h0M141.2 195.5h0M119.4 235.1h0M157.8 231.6h0M111.3 199.7h0M149.3 233.6h0M158.6 188.8h0M113.4 211.6h0M114.5 186.9h0M156.1 211.1h0M159.2 223.3h0M136.1 237.0h0M116.5 188.0h0M154.6 190.4h0M127.5 240.1h0M121.3 190.2h0M159.4 204.7h0M111.0 210.3h0M128.0 238.4h0M120.6 229.0h0M114.7 191.5h0M155.8 184.6h0M135.6 238.7h0M130.4 240.3h0M156.8 200.5h0M127.0 192.7h0M111.6 196.0h0M145.0 195.8h0M110.8 201.4h0M124.2 188.3h0M135.0 192.8h0M140.4 195.9h0M110.3 198.2h0M127.1 239.2h0M157.3 216.3h0M116.6 222.0h0M122.7 236.0h0M135.6 194.3h0M136.9 236.5h0M111.1 194.3h0M153.8 188.7h0M154.6 210.8h0M157.7 196.2h0M157.1 224.3h0M150.7 232.9h0M134.3 196.6h0M155.9 188.3h0M138.6 237.9h0M160.3 193.3h0M133.2 239.8h0M157.4 220.0h0M120.4 189.6h0M144.7 235.0h0M109.6 203.3h0M152.8 189.7h0M121.3 234.7h0M129.7 192.9h0M140.6 234.2h0M113.1 214.7h0M142.5 235.6h0M117.3 190.5h0M156.2 203.2h0M124.3 236.2h0M126.3 237.6h0M142.0 195.5h0M113.7 190.6h0M145.7 188.1h0M112.9 219.0h0M155.1 233.5h0M111.2 200.0h0M157.5 212.8h0M153.8 238.5h0M141.6 236.8h0M112.0 216.4h0M142.4 233.2h0M106.1 198.9h0M148.8 191.2h0M143.4 195.0h0" stroke="#55a874" stroke-width="1.10" stroke-linecap="round" fill="none" opacity="0.90"/>
<path d="M176.9 115.3h0M182.6 114.8h0M198.4 127.5h0M196.9 131.3h0M164.8 112.8h0M195.4 128.6h0M162.9 108.4h0M156.4 107.6h0M186.2 127.9h0M178.3 110.8h0M191.7 137.4h0M173.9 112.4h0M147.2 114.7h0M158.8 123.9h0M188.8 116.5h0M190.6 132.0h0M200.9 129.7h0M177.8 127.6h0M143.7 113.3h0M153.6 108.4h0M177.0 110.7h0M189.1 121.4h0M188.9 137.1h0M162.2 127.3h0M159.0 120.4h0M185.4 134.2h0M150.4 111.9h0M182.4 130.4h0M190.5 113.9h0M163.1 126.4h0M154.7 121.0h0M183.0 113.5h0M181.8 119.6h0M144.9 109.6h0M181.1 134.0h0M182.8 135.3h0M181.9 132.5h0M192.3 126.2h0M173.9 111.5h0M156.2 108.9h0M148.7 119.3h0M159.5 125.1h0M191.7 115.1h0M195.7 134.4h0M153.8 108.2h0M155.2 112.9h0M142.5 106.9h0M190.4 135.4h0M164.5 117.7h0M184.0 124.0h0M161.8 111.1h0M155.4 123.8h0M158.0 122.6h0M172.1 115.0h0M149.0 120.2h0M174.3 133.6h0M176.2 117.8h0M197.7 132.6h0M171.0 121.3h0M192.4 127.1h0M175.0 123.5h0M195.5 118.0h0M149.9 112.0h0M156.6 109.3h0M189.9 121.4h0M173.3 113.7h0M195.5 120.3h0M166.4 131.2h0M194.1 139.9h0M170.9 120.4h0M191.6 120.4h0M154.1 122.2h0M160.4 114.8h0M188.4 117.9h0M179.5 116.3h0M188.5 130.0h0M178.6 111.9h0M172.1 134.3h0M189.1 126.1h0M179.9 111.8h0M143.1 114.6h0M166.0 129.8h0M183.8 135.5h0M156.9 110.2h0M161.8 109.5h0M199.7 125.5h0M188.2 113.0h0M158.2 110.7h0M174.1 115.7h0M176.3 130.3h0M155.6 110.5h0M172.9 119.6h0M168.8 118.5h0M151.9 110.2h0M185.6 127.6h0M183.3 127.7h0M172.8 112.7h0M196.8 124.1h0M169.5 114.9h0M158.3 114.0h0M160.2 119.5h0M180.6 119.9h0M193.3 120.8h0M189.6 119.4h0M180.2 130.6h0M173.4 130.2h0M199.4 131.2h0M192.0 136.2h0M168.1 120.1h0M152.0 111.8h0" stroke="#5b9cbc" stroke-width="1.10" stroke-linecap="round" fill="none" opacity="0.85"/>
<path d="M160.2 120.2h0M165.0 121.6h0M144.1 117.6h0M181.2 138.2h0M193.6 122.8h0M143.3 108.0h0M176.6 134.7h0M161.9 110.5h0M187.5 124.3h0M170.1 110.3h0M175.2 125.5h0M184.6 136.7h0M161.3 120.1h0M168.5 108.4h0M170.4 111.0h0M143.0 107.7h0M164.8 121.3h0M142.0 110.7h0M196.1 124.5h0M199.3 129.5h0M181.7 116.1h0M154.5 112.2h0M184.7 137.6h0M154.2 114.1h0M150.6 113.1h0M155.5 120.2h0M156.4 115.1h0M167.1 111.8h0M145.1 109.1h0M195.3 126.9h0M160.4 119.7h0M167.6 116.9h0M145.2 111.3h0M150.6 113.1h0M161.9 109.5h0M178.9 112.8h0M172.6 129.6h0M171.8 131.2h0M188.8 121.2h0M154.7 107.4h0" stroke="#e05050" stroke-width="1.10" stroke-linecap="round" fill="none" opacity="0.85"/>
<path d="M192.2 111.2h0M179.3 101.0h0M197.6 131.4h0M192.6 106.1h0M199.5 117.5h0M198.3 132.5h0M178.8 104.4h0M195.7 130.3h0M181.6 106.4h0M176.3 116.3h0M199.3 118.5h0M195.4 127.1h0M184.2 122.8h0M192.1 113.8h0M198.2 133.5h0M181.8 122.3h0M177.7 114.8h0M173.5 103.1h0M188.9 125.9h0M181.0 100.9h0M188.7 120.1h0M183.8 107.7h0M181.1 106.4h0M196.0 111.7h0M192.8 117.8h0M177.3 108.1h0M191.5 129.1h0M178.3 101.6h0M176.1 111.9h0M193.0 131.0h0M188.9 103.2h0M182.0 103.2h0M178.9 118.7h0M186.1 104.2h0M190.2 119.7h0M180.3 108.8h0M175.9 113.2h0M190.8 122.3h0M182.7 122.7h0M197.9 122.7h0M199.7 126.1h0M191.5 105.5h0M173.8 110.3h0M201.4 125.3h0M172.0 110.1h0M185.6 111.4h0M180.9 99.7h0M201.1 131.5h0M173.1 113.9h0M172.1 105.4h0M175.5 113.7h0M174.8 101.3h0M185.5 117.5h0M181.4 100.6h0M187.7 104.0h0M190.8 122.1h0M189.4 105.3h0M181.0 105.2h0M191.0 128.6h0M175.3 105.1h0M186.0 105.4h0M176.5 104.0h0M185.0 118.1h0M192.4 128.9h0M173.8 102.7h0M173.9 111.0h0M183.3 121.7h0M188.5 112.8h0M182.3 107.5h0M193.1 126.8h0M192.0 113.9h0M183.2 104.8h0M188.8 112.5h0M187.1 115.7h0M179.4 113.0h0M184.6 106.0h0M184.7 114.6h0M186.0 115.1h0M179.7 99.9h0M180.4 110.5h0M177.0 117.1h0M185.9 120.9h0M198.6 122.9h0M196.8 121.9h0M194.2 115.5h0M187.4 126.7h0M175.3 115.9h0M183.7 102.3h0M184.8 106.9h0M188.9 123.5h0" stroke="#4a8fb0" stroke-width="1.10" stroke-linecap="round" fill="none" opacity="0.85"/>
<path d="M188.7 148.1h0M175.5 155.1h0M161.0 140.2h0M193.4 155.5h0M207.2 145.7h0M188.6 149.3h0M190.9 153.7h0M204.9 143.0h0M204.6 143.0h0M191.9 142.7h0M179.4 155.3h0M165.8 151.2h0M191.8 147.3h0M166.3 154.8h0M188.7 148.7h0M173.2 139.9h0M170.1 146.4h0M179.5 151.4h0M167.1 140.9h0M186.2 150.1h0M175.7 140.9h0M166.3 143.9h0M179.0 152.1h0M172.0 143.5h0M174.2 145.7h0M170.5 151.9h0M204.3 150.5h0M180.0 153.0h0M180.5 151.1h0M182.8 153.2h0M188.9 142.1h0M170.6 147.6h0M185.5 154.2h0M168.6 145.9h0M182.4 144.2h0M169.3 144.3h0M176.0 147.0h0M207.0 146.2h0M185.9 143.5h0M165.8 146.0h0M190.8 143.7h0M196.8 149.0h0M163.1 137.9h0M186.3 148.5h0M187.8 141.4h0M177.2 150.6h0M179.8 147.1h0M171.4 148.9h0M197.7 152.3h0M195.1 145.9h0M173.3 150.4h0M180.9 143.1h0M165.8 148.5h0M195.5 151.6h0M167.6 140.9h0M204.3 154.6h0M191.5 142.0h0M188.1 151.6h0M177.2 149.3h0M190.1 154.3h0M198.8 149.7h0M187.2 153.9h0M190.1 150.1h0M187.9 141.2h0M204.8 143.3h0M169.6 148.0h0M176.1 155.9h0M184.7 147.0h0M175.8 149.8h0M182.2 152.6h0M194.0 141.9h0M207.6 147.2h0M164.6 154.1h0M161.0 150.3h0M199.7 144.3h0M204.5 151.6h0M184.9 142.3h0M168.0 138.4h0M187.1 147.0h0M169.4 147.1h0M164.0 142.7h0M208.6 150.2h0M161.8 139.6h0M165.3 143.6h0M206.9 152.0h0M176.3 152.4h0M160.5 147.4h0M206.0 149.5h0M209.8 149.2h0M183.8 154.0h0M187.9 149.1h0M183.0 143.8h0M160.6 141.2h0M162.7 151.4h0M202.5 144.2h0M174.9 147.0h0M171.2 141.9h0M196.3 152.0h0M209.2 149.4h0M177.5 145.9h0M189.3 148.3h0M205.9 147.8h0M208.1 146.1h0M176.2 146.2h0M160.6 145.4h0M165.8 142.1h0M204.2 154.4h0M165.7 148.2h0M174.9 147.2h0M181.3 147.8h0M163.3 148.6h0M188.4 154.7h0M204.6 148.7h0M186.0 151.2h0M182.7 150.4h0M178.6 147.5h0M196.7 148.1h0M190.1 144.3h0M177.5 149.5h0M182.3 145.4h0M178.9 142.5h0M191.3 153.7h0M169.7 149.3h0M186.6 149.1h0M193.2 144.6h0M160.5 143.9h0M186.1 149.0h0M206.3 149.5h0M192.7 143.7h0M204.3 146.3h0M182.7 150.1h0M187.1 155.9h0M166.0 138.2h0M189.7 141.3h0M171.4 156.0h0M186.5 142.6h0M178.2 141.3h0M172.6 139.6h0M208.8 151.0h0M164.7 153.5h0M187.6 155.7h0M182.0 145.3h0M160.4 147.9h0M171.9 153.7h0M171.2 153.8h0M176.7 152.3h0M195.7 154.7h0M188.8 143.8h0M173.1 141.5h0M165.2 142.7h0" stroke="#e03a3a" stroke-width="1.20" stroke-linecap="round" fill="none" opacity="0.90"/>
<path d="M175.9 152.6h0M160.3 146.5h0M203.9 142.9h0M164.7 139.9h0M170.2 139.5h0M175.7 155.4h0M178.7 144.5h0M164.4 153.5h0M176.4 140.3h0M169.2 151.1h0M195.6 145.8h0M170.2 143.0h0M177.0 141.8h0M179.3 151.0h0M190.7 149.4h0M169.6 140.9h0M202.2 155.5h0M202.0 153.0h0M174.3 139.8h0M185.7 151.2h0M161.9 150.4h0M166.2 144.2h0M168.2 138.5h0M186.7 142.7h0M205.6 154.2h0M196.3 146.7h0M192.3 143.3h0M183.4 147.4h0M181.1 145.4h0M196.8 153.3h0M171.1 146.5h0M198.2 150.9h0M205.8 151.8h0M184.1 143.3h0M203.5 154.2h0M186.9 151.7h0M196.3 146.9h0M182.1 155.1h0M199.9 147.9h0M198.5 147.5h0M189.1 153.5h0M168.8 154.1h0M187.6 146.2h0M173.4 154.9h0M202.0 155.1h0M184.9 146.5h0M163.1 145.1h0M189.1 155.9h0M163.2 149.5h0M170.1 150.2h0M183.1 145.0h0M168.9 144.5h0M163.2 150.4h0M208.6 147.3h0M180.0 146.8h0M167.2 151.0h0M186.4 150.5h0M206.9 153.6h0M167.6 150.6h0M183.1 154.8h0" stroke="#ffffff" stroke-width="1.00" stroke-linecap="round" fill="none" opacity="0.60"/>
<path d="M105.3 182.4h0M139.8 188.2h0M160.2 163.5h0M149.5 169.4h0M160.1 165.0h0M164.6 164.7h0M147.5 177.1h0M143.4 189.6h0M141.6 185.9h0M151.6 175.1h0M118.3 188.1h0M141.0 191.7h0M162.3 184.0h0M151.6 165.4h0M158.8 182.9h0M154.4 184.6h0M149.9 171.8h0M165.9 164.9h0M121.2 183.6h0M159.1 183.8h0M159.8 186.0h0M155.3 162.9h0M119.4 184.0h0M157.3 179.8h0M165.6 173.6h0M155.6 170.3h0M151.0 179.0h0M161.2 180.7h0M160.2 180.5h0M153.9 169.4h0M147.9 181.0h0M146.6 180.2h0M118.1 182.8h0M152.9 178.2h0M139.0 177.1h0M139.5 173.5h0M139.4 186.2h0M148.4 175.0h0M114.4 189.8h0M161.5 175.6h0M107.4 181.6h0M113.3 180.8h0M138.2 173.8h0M153.5 176.1h0M140.9 181.3h0M145.8 183.9h0M127.6 184.5h0M142.5 168.1h0M112.3 180.0h0M157.9 186.3h0M142.9 167.9h0M123.6 187.6h0M156.5 185.1h0M156.8 178.8h0M161.6 183.6h0M110.4 184.6h0M151.2 161.3h0M166.2 169.4h0M134.7 176.8h0M140.7 178.2h0M108.3 187.3h0M132.5 183.0h0M153.7 165.2h0M145.5 165.9h0M144.2 167.9h0M108.9 181.1h0M108.5 184.0h0M152.2 189.0h0M157.8 163.3h0M145.7 164.6h0M147.2 164.1h0M148.1 181.9h0M142.6 172.3h0M158.1 162.0h0M140.1 177.4h0M164.6 184.9h0M143.3 172.2h0M164.1 164.5h0M141.2 190.2h0M154.7 178.9h0" stroke="#e06060" stroke-width="1.10" stroke-linecap="round" fill="none" opacity="0.85"/>
<path d="M122.8 181.6h0M157.3 166.6h0M143.5 188.5h0M143.0 168.5h0M151.9 164.8h0M142.0 178.5h0M134.7 177.7h0M142.6 172.9h0M136.9 189.3h0M134.8 183.8h0M114.5 189.9h0M155.8 177.5h0M163.0 179.8h0M146.5 173.7h0M159.1 174.4h0M156.6 161.9h0M115.9 180.1h0M149.0 174.9h0M147.1 173.4h0M131.2 191.2h0M142.0 170.9h0M145.1 191.2h0M134.7 173.3h0M158.2 187.2h0M118.9 181.4h0M157.0 171.6h0M164.4 175.6h0M161.2 164.1h0M136.1 174.9h0M168.0 172.4h0M138.8 183.3h0M159.2 181.4h0M111.2 180.8h0M161.5 175.2h0M132.2 180.6h0M111.5 181.3h0M149.7 164.2h0M128.6 179.9h0M159.3 166.1h0M140.9 179.4h0M140.5 179.1h0M148.0 187.9h0M149.0 181.1h0M167.2 168.1h0M141.9 186.5h0M137.7 186.1h0M168.8 174.5h0M139.9 179.1h0M160.1 174.6h0M163.3 182.6h0" stroke="#9a9a9a" stroke-width="1.00" stroke-linecap="round" fill="none" opacity="0.60"/>
<path d="M130.5 179.7h0M123.7 187.0h0M168.1 166.3h0M157.2 165.0h0M139.6 168.7h0M146.7 163.7h0M136.6 187.1h0M108.8 186.8h0M148.3 167.7h0M163.4 165.5h0M136.2 183.4h0M145.9 166.3h0M155.6 184.9h0M155.4 186.6h0M129.1 183.1h0M104.8 182.2h0M133.4 191.5h0M155.8 174.5h0M150.7 178.7h0M150.4 189.3h0M145.5 184.3h0M146.0 164.7h0M153.8 173.4h0M149.9 170.7h0M131.3 178.6h0M111.2 189.8h0M104.6 183.4h0M126.9 190.0h0M149.6 172.1h0M158.0 181.3h0M133.1 181.1h0M149.0 170.5h0M116.9 180.9h0M153.5 183.6h0M169.0 167.4h0M157.6 184.7h0M106.6 184.5h0M146.1 168.5h0M124.1 185.5h0M160.1 187.1h0" stroke="#6ab088" stroke-width="1.10" stroke-linecap="round" fill="none" opacity="0.85"/>
<path d="M179.8 164.1h0M175.8 164.0h0M180.0 175.0h0M196.0 176.0h0M203.7 177.0h0M182.2 170.2h0M200.6 176.7h0M195.8 176.8h0M203.5 174.0h0M181.9 168.9h0M186.2 175.1h0M196.1 171.1h0M185.8 176.2h0M199.1 178.0h0M198.4 188.0h0M194.6 179.8h0M181.8 168.1h0M191.7 168.2h0M201.8 175.2h0M204.3 179.3h0M196.3 170.2h0M194.2 171.9h0M184.2 172.2h0M199.4 182.3h0M183.6 175.2h0M174.7 166.7h0M181.4 176.5h0M195.0 179.1h0M182.2 170.1h0M184.4 168.6h0M178.8 174.6h0M176.9 169.6h0M175.5 165.6h0M189.4 169.7h0M181.8 173.0h0M192.9 173.1h0M200.1 171.0h0M180.0 167.1h0M198.5 168.9h0M202.0 175.2h0M191.5 183.4h0M189.3 174.5h0M195.5 174.0h0M191.0 168.8h0M177.0 166.6h0M204.0 177.4h0M191.2 175.1h0M204.6 186.6h0M204.4 182.0h0M192.8 180.2h0M198.3 181.1h0M199.1 170.0h0M198.2 177.6h0M192.4 185.4h0M197.1 180.6h0M176.8 164.6h0M182.5 179.2h0M176.0 165.7h0M181.2 176.2h0M195.7 187.9h0M179.5 162.5h0M200.3 177.4h0M202.3 181.1h0M176.3 170.7h0M179.2 173.3h0M203.2 181.7h0M184.0 178.6h0M197.3 170.0h0M182.2 180.7h0M186.2 181.0h0M178.7 173.7h0M195.0 172.8h0M186.5 177.7h0M176.3 168.8h0M191.9 187.7h0M203.9 183.5h0M179.4 170.9h0M195.7 182.9h0M186.4 176.0h0M177.0 165.9h0M177.0 166.5h0M202.9 186.5h0M181.4 170.3h0M182.3 169.4h0M180.2 166.7h0M183.6 169.4h0M194.1 181.2h0M173.5 164.3h0M199.1 185.8h0M199.7 184.9h0M187.4 181.4h0M203.2 186.3h0M193.4 178.2h0M183.8 180.2h0M174.8 162.7h0M194.0 172.6h0M181.6 175.9h0M204.8 182.4h0M202.1 186.8h0M177.1 162.5h0M183.7 181.5h0M185.3 181.9h0M190.4 171.6h0M204.1 181.4h0M204.7 183.9h0M199.2 171.3h0M188.3 171.9h0M192.5 177.5h0M186.9 182.9h0M195.8 188.9h0M189.0 177.4h0M194.9 182.1h0M201.0 178.9h0M203.2 176.4h0M194.0 171.4h0M182.8 167.1h0M189.6 168.2h0M189.9 168.3h0M185.4 167.7h0M195.7 186.6h0" stroke="#8c5482" stroke-width="1.10" stroke-linecap="round" fill="none" opacity="0.90"/>
<path d="M106.7 188.3h0M105.4 178.5h0M111.2 182.0h0M107.5 183.7h0M106.5 180.7h0M109.8 187.3h0M104.7 184.7h0M103.9 187.4h0M107.3 186.1h0M107.3 185.1h0M107.7 182.6h0M115.2 182.1h0M114.2 183.9h0M102.1 186.0h0M105.0 180.8h0M108.5 189.3h0M112.1 182.2h0M102.3 186.1h0M110.7 181.1h0M108.6 191.6h0M108.1 178.2h0M108.3 182.9h0M117.3 180.3h0M106.9 178.2h0M100.6 181.1h0M107.8 190.9h0M104.2 178.1h0M112.6 187.8h0M114.8 185.7h0M112.6 179.7h0M111.6 183.0h0M106.0 182.4h0M109.2 178.3h0M109.8 180.3h0M117.3 182.5h0M109.4 181.7h0M105.5 181.2h0M113.4 183.2h0M115.5 182.6h0M102.3 184.4h0M101.6 180.1h0M109.4 186.0h0M103.8 180.5h0M109.4 184.2h0M108.7 187.4h0M102.5 178.2h0M112.6 180.1h0M105.9 182.3h0M116.6 183.8h0M112.9 179.2h0M100.7 181.2h0M111.5 184.3h0M101.6 183.6h0M102.6 186.6h0M109.1 179.3h0M101.4 184.5h0M111.2 183.7h0M108.5 186.9h0M112.6 187.9h0M107.5 180.4h0" stroke="#dc3636" stroke-width="1.10" stroke-linecap="round" fill="none" opacity="0.90"/>
<g font-size="14" fill="#141420" stroke="#141420" stroke-width="0.35">
<text x="108.9" y="160.5" textLength="6.2" lengthAdjust="spacingAndGlyphs">0</text>
<text x="205.6" y="176.6" textLength="5" lengthAdjust="spacingAndGlyphs">1</text>
<text x="163.8" y="78.7" textLength="7" lengthAdjust="spacingAndGlyphs">2</text>
<text x="121.4" y="223.8" textLength="6.6" lengthAdjust="spacingAndGlyphs">3</text>
</g>
<!-- cluster legend -->
<circle cx="260" cy="126.7" r="2.5" fill="#c81d2a"/>
<circle cx="260" cy="138.5" r="2.5" fill="#8a4a7a"/>
<circle cx="260" cy="150.5" r="2.5" fill="#2e6f92"/>
<circle cx="260" cy="162.2" r="2.5" fill="#2f8a52"/>
<g font-size="7" fill="#333" stroke="#333" stroke-width="0.05">
<text x="265.8" y="129.2">0</text>
<text x="265.8" y="141">1</text>
<text x="265.8" y="153">2</text>
<text x="265.8" y="164.7">3</text>
</g>
<!-- boxes -->
<rect x="18.7" y="66.2" width="82.6" height="52" rx="5.5" fill="#f2a98f" stroke="#5a4f55" stroke-width="1.2"/>
<g font-size="7.8" fill="#7e3c2a" stroke="#7e3c2a" stroke-width="0.05">
<text x="32.7" y="75.4" textLength="53.3" lengthAdjust="spacingAndGlyphs">0. &amp; 2. Resting</text>
<text x="24.0" y="84.9" textLength="22.1" lengthAdjust="spacingAndGlyphs">PTMA</text>
<text x="55.9" y="84.9" textLength="26.8" lengthAdjust="spacingAndGlyphs">MALAT1</text>
<text x="24.0" y="94.7" textLength="14.2" lengthAdjust="spacingAndGlyphs">FTH</text>
<text x="55.9" y="94.7" textLength="38.6" lengthAdjust="spacingAndGlyphs">HSP90AB1</text>
<text x="24.0" y="104.8" textLength="20.8" lengthAdjust="spacingAndGlyphs">HBG2</text>
<text x="55.9" y="104.8" textLength="39.4" lengthAdjust="spacingAndGlyphs">HSP90AA1</text>
<text x="24.0" y="114.4" textLength="27.9" lengthAdjust="spacingAndGlyphs">UQCRH</text>
<text x="55.9" y="114.4" textLength="27.6" lengthAdjust="spacingAndGlyphs">EEF1A1</text>
</g>
<rect x="26.3" y="195.5" width="67" height="52.3" rx="5.5" fill="#c9e0c8" stroke="#5f6a60" stroke-width="1.2"/>
<g font-size="7.8" fill="#446a4c" stroke="#446a4c" stroke-width="0.05">
<text x="34" y="204.9" textLength="52" lengthAdjust="spacingAndGlyphs">3. NK-induced</text>
<text x="31.1" y="215.0" textLength="25.5" lengthAdjust="spacingAndGlyphs">PSMB9</text>
<text x="64.0" y="215.0" textLength="16.9" lengthAdjust="spacingAndGlyphs">TAP1</text>
<text x="31.1" y="224.9" textLength="16.1" lengthAdjust="spacingAndGlyphs">IRF1</text>
<text x="64.0" y="224.9" textLength="24.3" lengthAdjust="spacingAndGlyphs">PSME2</text>
<text x="31.1" y="234.1" textLength="21.5" lengthAdjust="spacingAndGlyphs">STAT1</text>
<text x="64.0" y="234.1" textLength="16.2" lengthAdjust="spacingAndGlyphs">IFI27</text>
<text x="31.1" y="243.7" textLength="16.1" lengthAdjust="spacingAndGlyphs">B2M</text>
<text x="64.0" y="243.7" textLength="21.6" lengthAdjust="spacingAndGlyphs">HLA-E</text>
</g>
<rect x="190.4" y="202.4" width="63.4" height="51.4" rx="5.5" fill="#d8c3d3" stroke="#5b4a60" stroke-width="1.2"/>
<g font-size="7.8" fill="#5e4462" stroke="#5e4462" stroke-width="0.05">
<text x="197.2" y="211.3" textLength="49" lengthAdjust="spacingAndGlyphs">1. TKI specific</text>
<text x="197.2" y="221.2" textLength="13.9" lengthAdjust="spacingAndGlyphs">HBZ</text>
<text x="224.1" y="221.2" textLength="18.8" lengthAdjust="spacingAndGlyphs">HBA2</text>
<text x="197.2" y="230.6" textLength="20.7" lengthAdjust="spacingAndGlyphs">GYPB</text>
<text x="224.1" y="230.6" textLength="20.5" lengthAdjust="spacingAndGlyphs">HBG2</text>
<text x="197.2" y="240.0" textLength="20.1" lengthAdjust="spacingAndGlyphs">HBA1</text>
<text x="224.1" y="240.0" textLength="23.2" lengthAdjust="spacingAndGlyphs">ALAS2</text>
<text x="197.2" y="249.8" textLength="20.4" lengthAdjust="spacingAndGlyphs">GYPA</text>
<text x="224.1" y="249.8" textLength="20.5" lengthAdjust="spacingAndGlyphs">HBG1</text>
</g>
<!-- Panel B -->
<text x="286" y="15.9" font-size="11.2" font-weight="bold" fill="#111">B</text>
<g transform="translate(305.00,19.50) scale(0.4122,0.4004) translate(-87.20,-49.70)">
<g filter="url(#soft2)">
<path d="M157.2,49.7 C159.3,49.6 162.1,50.1 163.9,51.0 C165.7,51.9 166.1,52.6 168.0,55.0 C169.9,57.4 173.2,61.0 175.4,65.2 C177.6,69.4 179.2,74.9 181.4,80.0 C183.6,85.1 186.5,91.3 188.8,96.0 C191.1,100.7 192.8,105.0 195.0,108.0 C197.2,111.0 198.9,113.9 202.0,114.0 C205.1,114.1 209.0,110.5 213.3,108.8 C217.7,107.1 225.1,102.8 228.1,104.0 C231.1,105.2 231.5,111.5 231.3,116.2 C231.1,120.9 228.4,128.3 227.0,132.0 C225.6,135.7 225.0,136.6 222.8,138.4 C220.6,140.2 216.8,141.6 214.0,143.0 C211.2,144.4 204.7,145.7 206.0,147.0 C207.3,148.3 217.0,147.6 221.9,150.8 C226.8,154.0 233.8,160.8 235.7,166.0 C237.6,171.2 236.3,177.6 233.5,181.8 C230.7,186.0 224.2,190.1 219.1,191.2 C214.0,192.3 208.0,189.2 203.2,188.5 C198.4,187.8 193.7,188.8 190.2,187.0 C186.7,185.2 185.0,180.5 182.0,178.0 C179.0,175.5 175.3,172.0 172.0,172.0 C168.7,172.0 164.3,175.5 162.0,178.0 C159.7,180.5 159.1,182.7 158.1,186.9 C157.1,191.1 156.2,197.2 155.8,203.0 C155.4,208.8 155.2,217.2 155.8,221.5 C156.4,225.8 160.4,226.6 159.2,228.5 C158.0,230.4 153.2,231.2 148.8,233.1 C144.4,235.0 137.3,240.0 132.7,240.0 C128.1,240.0 124.5,238.1 121.2,233.1 C117.9,228.1 114.8,215.2 113.1,210.0 C111.4,204.8 112.8,205.2 111.3,201.9 C109.8,198.6 106.4,194.0 104.0,190.0 C101.6,186.0 99.5,183.2 96.8,178.1 C94.1,173.0 89.7,164.1 88.1,159.2 C86.5,154.3 86.7,153.1 87.4,148.5 C88.1,143.9 89.4,136.7 92.1,131.6 C94.8,126.5 98.5,122.1 103.5,118.2 C108.5,114.3 116.8,110.3 122.4,108.1 C128.0,105.8 133.8,105.4 137.2,104.7 C140.6,104.0 141.9,106.1 143.0,104.0 C144.1,101.9 143.2,99.1 143.7,92.0 C144.2,84.9 144.6,68.0 145.8,61.2 C147.0,54.5 149.1,53.4 151.0,51.5 C152.9,49.6 155.0,49.8 157.2,49.7Z" fill="#e6e6e6" stroke="#e6e6e6" stroke-width="2.5" stroke-linejoin="round"/>
<use href="#mbase" fill="#dedede"/>
<path d="M143.0,106.0 C146.8,104.7 157.8,107.3 165.0,108.0 C172.2,108.7 180.5,107.7 186.0,110.0 C191.5,112.3 195.3,117.0 198.0,122.0 C200.7,127.0 205.7,137.5 202.0,140.0 C198.3,142.5 182.7,138.7 176.0,137.0 C169.3,135.3 166.3,132.3 162.0,130.0 C157.7,127.7 153.3,125.3 150.0,123.0 C146.7,120.7 143.2,118.8 142.0,116.0 C140.8,113.2 139.2,107.3 143.0,106.0Z" fill="#f3f3f3"/>
<path d="M104.0,180.0 C106.8,178.2 119.0,181.0 125.0,179.0 C131.0,177.0 135.8,171.2 140.0,168.0 C144.2,164.8 146.3,161.3 150.0,160.0 C153.7,158.7 158.7,158.3 162.0,160.0 C165.3,161.7 169.5,165.8 170.0,170.0 C170.5,174.2 167.0,182.0 165.0,185.0 C163.0,188.0 162.2,186.8 158.0,188.0 C153.8,189.2 146.3,191.7 140.0,192.0 C133.7,192.3 125.3,190.3 120.0,190.0 C114.7,189.7 110.7,191.7 108.0,190.0 C105.3,188.3 101.2,181.8 104.0,180.0Z" fill="#f0f0f0"/>
<path d="M111.6,112.8 C114.5,111.7 119.3,109.2 122.4,108.1 C125.5,107.0 127.5,106.6 130.0,106.0 C132.5,105.4 135.6,104.2 137.2,104.7 C138.8,105.2 138.9,107.1 139.5,109.0 C140.1,110.9 139.9,114.0 141.0,116.0 C142.1,118.0 144.0,119.8 146.0,121.0 C148.0,122.2 150.5,122.3 153.0,123.0 C155.5,123.7 159.2,123.5 161.0,125.0 C162.8,126.5 163.4,129.2 164.0,132.0 C164.6,134.8 164.8,138.7 164.5,142.0 C164.2,145.3 164.1,150.0 162.0,152.0 C159.9,154.0 154.8,153.3 152.0,154.0 C149.2,154.7 147.1,154.2 145.3,156.0 C143.5,157.8 142.8,161.8 141.2,164.6 C139.6,167.4 138.3,170.5 135.8,172.7 C133.3,174.9 129.8,176.7 126.4,178.0 C123.0,179.3 119.3,180.3 115.6,180.8 C111.9,181.3 107.1,181.4 104.0,181.0 C100.9,180.6 98.9,180.2 96.8,178.1 C94.7,176.0 92.9,171.8 91.4,168.6 C90.0,165.4 88.8,162.5 88.1,159.2 C87.4,155.8 87.3,151.5 87.4,148.5 C87.5,145.5 87.9,144.0 88.5,141.0 C89.1,138.0 90.0,133.4 91.0,130.5 C92.0,127.6 93.1,125.7 94.5,123.5 C95.9,121.3 97.8,119.0 99.5,117.5 C101.2,116.0 103.0,115.3 105.0,114.5 C107.0,113.7 108.7,113.9 111.6,112.8Z" fill="#eb5a50" opacity="0.92"/>
<path d="M146.4,55.0 C147.3,53.4 149.2,52.4 151.0,51.5 C152.8,50.6 155.0,49.8 157.2,49.7 C159.3,49.6 162.1,50.1 163.9,51.0 C165.7,51.9 166.9,53.5 168.0,55.0 C169.1,56.5 169.5,58.1 170.7,59.8 C171.9,61.5 174.2,63.2 175.4,65.2 C176.6,67.2 177.0,69.5 178.0,72.0 C179.0,74.5 180.3,77.3 181.4,80.0 C182.5,82.7 183.6,85.3 184.8,88.0 C186.0,90.7 187.5,93.3 188.8,96.0 C190.2,98.7 191.9,101.8 192.9,104.0 C193.9,106.2 196.2,108.2 195.0,109.0 C193.8,109.8 189.3,108.8 186.0,108.5 C182.7,108.2 179.3,107.7 175.0,107.5 C170.7,107.3 164.8,107.4 160.0,107.5 C155.2,107.6 148.8,108.9 146.0,108.3 C143.2,107.7 143.5,105.1 143.0,104.0 C142.5,102.9 143.0,103.5 143.1,101.5 C143.2,99.5 143.4,95.8 143.7,92.0 C144.0,88.2 144.8,83.7 145.1,78.6 C145.4,73.5 145.6,65.1 145.8,61.2 C146.0,57.3 145.5,56.6 146.4,55.0Z" fill="#eb5a50" opacity="0.90"/>
<path d="M160.0,137.0 C161.3,134.3 166.3,138.4 170.0,139.0 C173.7,139.6 177.8,140.1 182.0,140.5 C186.2,140.9 191.2,141.1 195.0,141.5 C198.8,141.9 202.5,141.9 205.0,143.0 C207.5,144.1 210.0,146.0 210.0,148.0 C210.0,150.0 208.3,153.7 205.0,155.0 C201.7,156.3 195.0,155.8 190.0,156.0 C185.0,156.2 179.7,156.2 175.0,156.0 C170.3,155.8 164.5,158.2 162.0,155.0 C159.5,151.8 158.7,139.7 160.0,137.0Z" fill="#eb5a50" opacity="0.45"/>
<path d="M143.0,106.0 C146.8,104.7 157.8,107.3 165.0,108.0 C172.2,108.7 180.5,107.7 186.0,110.0 C191.5,112.3 195.3,117.0 198.0,122.0 C200.7,127.0 205.7,137.5 202.0,140.0 C198.3,142.5 182.7,138.7 176.0,137.0 C169.3,135.3 166.3,132.3 162.0,130.0 C157.7,127.7 153.3,125.3 150.0,123.0 C146.7,120.7 143.2,118.8 142.0,116.0 C140.8,113.2 139.2,107.3 143.0,106.0Z" fill="#eb5a50" opacity="0.25"/>
</g>
<path d="M169.1 125.0h0M197.5 121.8h0M172.5 126.0h0M153.1 123.4h0M179.8 133.0h0M147.6 116.3h0M200.9 138.8h0M181.2 126.9h0M151.4 106.5h0M153.4 114.2h0M173.1 127.8h0M172.0 128.5h0M169.4 115.5h0M201.9 139.9h0M192.4 130.1h0M160.9 113.8h0M159.3 108.4h0M188.0 119.6h0M192.8 119.1h0M199.5 134.8h0M142.0 113.1h0M196.6 122.0h0M188.7 115.2h0M147.2 117.3h0M199.8 131.8h0M149.1 114.4h0M148.1 108.0h0M175.6 121.2h0M149.0 120.3h0M154.8 115.2h0M200.3 133.3h0M154.6 119.4h0M193.3 127.8h0M154.8 114.8h0M188.4 117.2h0M159.8 108.5h0M156.6 126.4h0M164.3 121.4h0M176.5 135.5h0M153.0 111.2h0" stroke="#ffffff" stroke-width="2.60" stroke-linecap="round" fill="none" opacity="0.80"/>
<path d="M164.0 186.2h0M162.2 179.3h0M119.7 182.5h0M121.0 186.4h0M143.4 169.4h0M115.6 183.1h0M140.9 187.3h0M144.5 169.0h0M164.5 166.5h0M127.9 188.5h0M149.6 178.7h0M105.4 180.4h0M135.8 183.4h0M152.6 188.8h0M152.6 182.5h0M127.2 181.9h0M131.5 185.3h0M161.0 178.3h0M145.2 172.2h0M142.5 179.5h0M109.3 180.5h0M152.1 172.4h0M152.5 178.6h0M133.1 186.8h0M109.5 184.0h0M150.1 175.9h0M144.6 189.5h0M123.9 181.7h0M163.8 181.1h0M133.2 188.5h0" stroke="#ffffff" stroke-width="2.60" stroke-linecap="round" fill="none" opacity="0.70"/>
<path d="M161.6 128.6h0M153.9 120.7h0M190.4 137.1h0M194.8 119.1h0M177.0 116.8h0M150.2 122.9h0M192.2 134.9h0M184.7 138.3h0M158.6 111.8h0M169.0 115.4h0M154.8 120.1h0M179.5 122.8h0M146.5 107.1h0M184.5 125.4h0M143.1 110.6h0M191.8 114.1h0M150.5 107.6h0M179.8 121.2h0M179.8 128.3h0M190.4 138.6h0" stroke="#d4d4d4" stroke-width="2.20" stroke-linecap="round" fill="none" opacity="0.80"/>
<path d="M183.1 112.8h0M170.5 112.1h0M184.9 112.1h0M158.3 117.8h0M183.8 123.7h0M178.9 131.7h0M198.0 130.6h0M149.8 121.4h0M179.5 136.9h0M164.6 125.3h0M194.8 133.1h0M181.1 113.0h0M185.3 133.8h0M180.5 130.4h0M200.8 139.2h0M174.2 132.9h0M193.3 117.8h0M175.0 132.1h0M150.4 111.1h0M173.0 130.6h0M192.4 129.4h0M155.3 123.9h0M180.3 123.8h0M192.6 125.0h0M160.7 119.0h0M192.7 136.6h0M176.4 112.8h0M174.2 123.1h0M175.8 122.7h0M174.3 120.1h0M199.4 137.4h0M158.2 122.1h0M149.6 120.7h0M190.9 136.6h0M170.6 116.8h0M153.6 113.7h0M183.2 117.0h0M163.3 127.1h0M157.0 112.7h0M173.8 120.9h0M164.5 120.1h0M173.8 111.4h0M180.3 124.0h0M193.1 126.8h0M186.4 133.6h0M157.6 109.3h0M191.9 120.3h0M166.2 129.3h0M143.1 112.8h0M182.9 137.0h0M172.3 131.8h0M172.2 129.3h0M153.3 108.4h0M148.4 107.3h0M175.1 123.5h0M176.1 111.0h0M153.1 112.9h0M192.4 139.7h0M169.7 132.0h0M161.6 121.9h0M172.9 120.6h0M184.1 134.7h0M152.9 121.4h0M186.4 119.8h0M153.7 111.6h0M195.6 133.3h0M184.3 135.3h0M179.8 119.8h0M178.0 123.1h0M201.0 133.4h0M186.7 132.5h0M190.9 119.8h0M195.8 135.9h0M183.7 132.1h0M187.9 119.8h0M162.5 121.9h0M180.3 127.2h0M182.0 117.5h0M181.6 125.4h0M174.0 119.2h0M184.1 131.9h0M178.9 131.1h0M157.4 119.7h0M145.0 112.6h0M164.5 109.3h0M175.0 123.3h0M177.9 131.8h0M151.6 122.0h0M152.1 122.8h0M173.6 126.3h0M181.7 108.3h0M191.0 118.2h0M179.5 98.5h0M177.8 99.5h0M201.6 132.0h0M183.7 115.2h0M193.1 114.9h0M201.3 127.4h0M190.0 114.4h0M176.5 99.9h0M186.9 102.5h0M184.2 122.0h0M184.6 107.4h0M188.6 113.1h0M194.9 117.1h0M195.1 120.5h0M181.5 107.8h0M191.9 118.3h0M188.9 120.8h0M199.3 129.6h0M178.7 113.3h0M187.6 120.7h0M181.9 115.2h0M176.7 110.4h0M193.8 128.2h0M195.9 120.5h0M183.6 107.3h0M195.9 111.3h0M180.4 117.8h0M193.9 131.1h0M183.7 111.3h0M188.1 115.5h0M191.9 108.8h0M172.6 108.9h0M193.2 123.0h0M179.1 103.1h0M181.7 102.2h0M192.7 118.5h0M199.4 131.8h0M180.2 112.4h0M199.9 130.2h0M177.9 111.0h0M181.7 111.1h0M182.7 112.0h0M195.5 117.5h0M201.8 147.7h0M168.8 151.4h0M161.1 146.8h0M187.2 147.8h0M208.3 149.4h0M187.3 152.0h0M164.2 138.6h0M196.9 154.1h0M164.2 149.0h0M167.2 151.2h0M192.5 141.7h0M171.0 151.5h0M186.1 151.5h0M179.7 143.4h0M208.4 149.8h0M184.7 147.2h0M196.0 150.5h0M205.7 144.8h0M201.3 149.7h0M202.7 152.3h0M201.7 153.9h0M207.9 149.2h0M186.2 150.5h0M200.1 145.0h0M197.1 155.8h0M178.8 140.2h0M170.2 145.1h0M174.6 155.4h0M163.0 142.9h0M165.7 149.3h0M163.1 145.7h0M189.2 154.3h0M161.8 139.1h0M169.2 141.1h0M171.8 150.6h0M189.7 141.3h0M169.2 142.3h0M168.6 151.4h0M175.6 147.4h0M200.9 146.1h0M173.0 153.9h0M205.7 143.5h0M187.4 155.2h0M184.1 141.2h0M162.5 155.0h0M200.1 144.3h0M186.4 146.8h0M173.7 155.8h0M192.9 141.5h0M160.5 146.0h0M178.6 152.1h0M195.7 148.5h0M167.9 140.0h0M176.1 141.9h0M203.5 146.8h0M191.8 155.9h0M173.3 147.2h0M167.5 151.6h0M202.3 152.6h0M164.1 142.1h0M134.3 211.8h0M152.4 203.0h0M149.1 209.0h0M155.2 191.7h0M150.9 198.0h0M137.3 214.8h0M126.2 203.4h0M114.9 203.1h0M133.7 224.9h0M128.5 223.4h0M116.4 207.8h0M133.4 238.2h0M151.0 221.6h0M145.3 199.5h0M138.3 211.2h0M149.6 197.9h0M140.8 202.3h0M129.3 215.6h0M125.6 204.8h0M130.1 222.3h0M123.6 197.5h0M146.3 204.4h0M146.0 204.5h0M118.0 191.9h0M143.8 224.5h0M159.2 179.0h0M164.8 173.7h0M137.8 180.7h0M154.6 186.3h0M130.4 182.4h0M147.6 179.5h0M126.6 180.8h0M137.6 185.2h0M158.5 179.6h0M114.5 184.5h0M163.6 177.5h0M113.4 182.8h0M151.2 186.7h0M145.4 166.3h0M142.0 182.3h0M125.7 189.7h0M112.9 188.9h0M139.9 177.9h0M141.0 168.5h0M158.0 179.2h0M112.1 186.4h0M123.0 188.7h0M158.8 165.9h0M147.5 169.8h0M148.3 183.6h0" stroke="#e5554b" stroke-width="2.60" stroke-linecap="round" fill="none" opacity="0.90"/>
</g>
<g transform="translate(406.40,19.70) scale(0.4029,0.4078) translate(-87.20,-49.70)">
<g filter="url(#soft2)">
<path d="M157.2,49.7 C159.3,49.6 162.1,50.1 163.9,51.0 C165.7,51.9 166.1,52.6 168.0,55.0 C169.9,57.4 173.2,61.0 175.4,65.2 C177.6,69.4 179.2,74.9 181.4,80.0 C183.6,85.1 186.5,91.3 188.8,96.0 C191.1,100.7 192.8,105.0 195.0,108.0 C197.2,111.0 198.9,113.9 202.0,114.0 C205.1,114.1 209.0,110.5 213.3,108.8 C217.7,107.1 225.1,102.8 228.1,104.0 C231.1,105.2 231.5,111.5 231.3,116.2 C231.1,120.9 228.4,128.3 227.0,132.0 C225.6,135.7 225.0,136.6 222.8,138.4 C220.6,140.2 216.8,141.6 214.0,143.0 C211.2,144.4 204.7,145.7 206.0,147.0 C207.3,148.3 217.0,147.6 221.9,150.8 C226.8,154.0 233.8,160.8 235.7,166.0 C237.6,171.2 236.3,177.6 233.5,181.8 C230.7,186.0 224.2,190.1 219.1,191.2 C214.0,192.3 208.0,189.2 203.2,188.5 C198.4,187.8 193.7,188.8 190.2,187.0 C186.7,185.2 185.0,180.5 182.0,178.0 C179.0,175.5 175.3,172.0 172.0,172.0 C168.7,172.0 164.3,175.5 162.0,178.0 C159.7,180.5 159.1,182.7 158.1,186.9 C157.1,191.1 156.2,197.2 155.8,203.0 C155.4,208.8 155.2,217.2 155.8,221.5 C156.4,225.8 160.4,226.6 159.2,228.5 C158.0,230.4 153.2,231.2 148.8,233.1 C144.4,235.0 137.3,240.0 132.7,240.0 C128.1,240.0 124.5,238.1 121.2,233.1 C117.9,228.1 114.8,215.2 113.1,210.0 C111.4,204.8 112.8,205.2 111.3,201.9 C109.8,198.6 106.4,194.0 104.0,190.0 C101.6,186.0 99.5,183.2 96.8,178.1 C94.1,173.0 89.7,164.1 88.1,159.2 C86.5,154.3 86.7,153.1 87.4,148.5 C88.1,143.9 89.4,136.7 92.1,131.6 C94.8,126.5 98.5,122.1 103.5,118.2 C108.5,114.3 116.8,110.3 122.4,108.1 C128.0,105.8 133.8,105.4 137.2,104.7 C140.6,104.0 141.9,106.1 143.0,104.0 C144.1,101.9 143.2,99.1 143.7,92.0 C144.2,84.9 144.6,68.0 145.8,61.2 C147.0,54.5 149.1,53.4 151.0,51.5 C152.9,49.6 155.0,49.8 157.2,49.7Z" fill="#e6e6e6" stroke="#e6e6e6" stroke-width="2.5" stroke-linejoin="round"/>
<use href="#mbase" fill="#dedede"/>
<path d="M143.0,106.0 C146.8,104.7 157.8,107.3 165.0,108.0 C172.2,108.7 180.5,107.7 186.0,110.0 C191.5,112.3 195.3,117.0 198.0,122.0 C200.7,127.0 205.7,137.5 202.0,140.0 C198.3,142.5 182.7,138.7 176.0,137.0 C169.3,135.3 166.3,132.3 162.0,130.0 C157.7,127.7 153.3,125.3 150.0,123.0 C146.7,120.7 143.2,118.8 142.0,116.0 C140.8,113.2 139.2,107.3 143.0,106.0Z" fill="#f3f3f3"/>
<path d="M104.0,180.0 C106.8,178.2 119.0,181.0 125.0,179.0 C131.0,177.0 135.8,171.2 140.0,168.0 C144.2,164.8 146.3,161.3 150.0,160.0 C153.7,158.7 158.7,158.3 162.0,160.0 C165.3,161.7 169.5,165.8 170.0,170.0 C170.5,174.2 167.0,182.0 165.0,185.0 C163.0,188.0 162.2,186.8 158.0,188.0 C153.8,189.2 146.3,191.7 140.0,192.0 C133.7,192.3 125.3,190.3 120.0,190.0 C114.7,189.7 110.7,191.7 108.0,190.0 C105.3,188.3 101.2,181.8 104.0,180.0Z" fill="#f0f0f0"/>
<path d="M112.0,200.0 C114.0,197.7 120.7,196.0 125.0,196.0 C129.3,196.0 133.8,200.0 138.0,200.0 C142.2,200.0 146.7,197.7 150.0,196.0 C153.3,194.3 157.0,188.5 158.0,190.0 C159.0,191.5 156.3,199.7 156.0,205.0 C155.7,210.3 155.5,218.0 156.0,222.0 C156.5,226.0 160.2,227.2 159.0,229.0 C157.8,230.8 152.7,231.8 149.0,233.0 C145.3,234.2 139.8,234.8 137.0,236.0 C134.2,237.2 134.7,240.5 132.0,240.0 C129.3,239.5 123.5,236.3 121.0,233.0 C118.5,229.7 118.3,223.8 117.0,220.0 C115.7,216.2 113.8,213.3 113.0,210.0 C112.2,206.7 110.0,202.3 112.0,200.0Z" fill="#eb5a50" opacity="0.75"/>
</g>
<path d="M164.9 126.1h0M154.0 121.9h0M150.6 119.1h0M176.2 111.9h0M173.2 115.0h0M176.1 117.3h0M182.3 110.9h0M199.6 126.4h0M170.2 120.0h0M179.4 129.4h0M187.5 131.6h0M192.3 135.1h0M166.5 120.8h0M176.0 136.8h0M173.6 123.9h0M161.2 107.9h0M185.5 136.6h0M185.9 126.3h0M187.1 116.4h0M149.5 121.2h0M172.2 119.5h0M173.6 114.1h0M160.4 119.4h0M156.2 108.3h0M196.7 138.9h0M181.9 135.5h0M176.0 136.7h0M156.6 116.2h0M161.5 108.1h0M195.7 133.7h0M165.8 118.1h0M160.5 122.9h0M198.0 139.2h0M170.4 113.0h0M192.3 118.0h0M170.3 111.8h0M194.8 139.8h0M145.0 109.6h0M185.5 116.6h0M196.0 135.6h0" stroke="#ffffff" stroke-width="2.60" stroke-linecap="round" fill="none" opacity="0.80"/>
<path d="M151.1 164.3h0M149.9 190.0h0M150.9 166.3h0M147.9 185.3h0M128.6 181.2h0M162.4 178.9h0M165.2 181.3h0M122.3 180.5h0M133.1 176.9h0M143.6 169.1h0M120.6 185.7h0M153.9 167.9h0M116.3 188.7h0M134.5 184.0h0M129.4 189.7h0M140.7 180.6h0M127.7 181.1h0M155.7 176.5h0M137.4 187.1h0M149.2 176.7h0M166.8 165.6h0M155.5 165.3h0M144.1 167.5h0M133.1 184.7h0M155.9 185.3h0M143.4 182.9h0M141.8 187.9h0M121.4 185.6h0M108.8 189.0h0M141.5 177.4h0" stroke="#ffffff" stroke-width="2.60" stroke-linecap="round" fill="none" opacity="0.70"/>
<path d="M189.5 114.1h0M150.8 116.6h0M144.5 116.7h0M179.3 123.9h0M157.9 126.0h0M152.3 114.7h0M191.9 132.7h0M145.7 120.0h0M163.9 113.4h0M171.4 131.9h0M169.3 131.3h0M144.4 114.2h0M165.6 116.1h0M167.5 108.6h0M187.8 131.0h0M155.8 114.6h0M175.1 114.2h0M163.8 117.5h0M162.6 129.6h0M193.9 126.1h0" stroke="#d4d4d4" stroke-width="2.20" stroke-linecap="round" fill="none" opacity="0.80"/>
<path d="M153.7 213.1h0M130.5 232.2h0M129.9 229.1h0M122.1 207.4h0M120.6 217.5h0M119.7 200.2h0M122.1 213.4h0M126.5 212.4h0M152.5 200.2h0M144.5 208.1h0M120.6 203.1h0M130.5 236.2h0M145.6 203.4h0M129.0 197.7h0M148.0 226.2h0M127.1 209.2h0M127.3 228.5h0M130.5 201.9h0M126.7 211.2h0M145.2 203.0h0M146.1 223.3h0M118.9 200.2h0M125.2 225.6h0M131.0 209.3h0M152.7 201.3h0M125.7 207.2h0M138.6 230.4h0M122.2 224.5h0M152.8 201.7h0M132.1 209.6h0M114.8 209.2h0M127.4 214.9h0M125.2 197.9h0M130.9 213.8h0M119.8 223.3h0M128.1 211.1h0M119.1 219.1h0M145.0 217.7h0M130.4 208.2h0M115.0 210.2h0M139.5 213.4h0M127.3 202.7h0M113.1 207.4h0M153.9 218.3h0M124.3 223.4h0M120.7 213.5h0M129.0 218.8h0M156.3 228.6h0M141.5 221.0h0M131.3 210.8h0M125.0 231.5h0M153.3 209.1h0M118.4 215.4h0M126.5 208.0h0M121.0 201.4h0M144.0 201.7h0M130.5 202.0h0M135.2 222.5h0M137.8 221.2h0M138.4 231.6h0M127.9 234.0h0M126.3 224.9h0M144.6 223.4h0M157.5 230.7h0M118.9 219.9h0M134.8 216.8h0M129.0 202.1h0M147.2 215.3h0M122.7 200.1h0M126.9 196.3h0M116.7 210.9h0M148.3 212.4h0M123.5 213.8h0M149.5 207.7h0M145.6 200.3h0M145.6 204.3h0M127.3 227.2h0M151.7 230.9h0M138.5 209.2h0M145.2 220.0h0M158.8 185.6h0M148.2 167.4h0M142.6 190.1h0M149.4 173.4h0M145.7 172.7h0M107.2 182.8h0M122.9 183.4h0M139.8 175.5h0M156.8 186.8h0M144.8 184.5h0M168.7 172.5h0M149.8 177.5h0M156.8 164.7h0M165.6 168.0h0M145.3 168.8h0M162.9 169.9h0M135.9 191.9h0M117.3 187.8h0" stroke="#e5554b" stroke-width="2.60" stroke-linecap="round" fill="none" opacity="0.90"/>
</g>
<g transform="translate(301.10,116.00) scale(0.4036,0.4004) translate(-87.20,-49.70)">
<g filter="url(#soft2)">
<path d="M157.2,49.7 C159.3,49.6 162.1,50.1 163.9,51.0 C165.7,51.9 166.1,52.6 168.0,55.0 C169.9,57.4 173.2,61.0 175.4,65.2 C177.6,69.4 179.2,74.9 181.4,80.0 C183.6,85.1 186.5,91.3 188.8,96.0 C191.1,100.7 192.8,105.0 195.0,108.0 C197.2,111.0 198.9,113.9 202.0,114.0 C205.1,114.1 209.0,110.5 213.3,108.8 C217.7,107.1 225.1,102.8 228.1,104.0 C231.1,105.2 231.5,111.5 231.3,116.2 C231.1,120.9 228.4,128.3 227.0,132.0 C225.6,135.7 225.0,136.6 222.8,138.4 C220.6,140.2 216.8,141.6 214.0,143.0 C211.2,144.4 204.7,145.7 206.0,147.0 C207.3,148.3 217.0,147.6 221.9,150.8 C226.8,154.0 233.8,160.8 235.7,166.0 C237.6,171.2 236.3,177.6 233.5,181.8 C230.7,186.0 224.2,190.1 219.1,191.2 C214.0,192.3 208.0,189.2 203.2,188.5 C198.4,187.8 193.7,188.8 190.2,187.0 C186.7,185.2 185.0,180.5 182.0,178.0 C179.0,175.5 175.3,172.0 172.0,172.0 C168.7,172.0 164.3,175.5 162.0,178.0 C159.7,180.5 159.1,182.7 158.1,186.9 C157.1,191.1 156.2,197.2 155.8,203.0 C155.4,208.8 155.2,217.2 155.8,221.5 C156.4,225.8 160.4,226.6 159.2,228.5 C158.0,230.4 153.2,231.2 148.8,233.1 C144.4,235.0 137.3,240.0 132.7,240.0 C128.1,240.0 124.5,238.1 121.2,233.1 C117.9,228.1 114.8,215.2 113.1,210.0 C111.4,204.8 112.8,205.2 111.3,201.9 C109.8,198.6 106.4,194.0 104.0,190.0 C101.6,186.0 99.5,183.2 96.8,178.1 C94.1,173.0 89.7,164.1 88.1,159.2 C86.5,154.3 86.7,153.1 87.4,148.5 C88.1,143.9 89.4,136.7 92.1,131.6 C94.8,126.5 98.5,122.1 103.5,118.2 C108.5,114.3 116.8,110.3 122.4,108.1 C128.0,105.8 133.8,105.4 137.2,104.7 C140.6,104.0 141.9,106.1 143.0,104.0 C144.1,101.9 143.2,99.1 143.7,92.0 C144.2,84.9 144.6,68.0 145.8,61.2 C147.0,54.5 149.1,53.4 151.0,51.5 C152.9,49.6 155.0,49.8 157.2,49.7Z" fill="#e6e6e6" stroke="#e6e6e6" stroke-width="2.5" stroke-linejoin="round"/>
<use href="#mbase" fill="#dedede"/>
<path d="M143.0,106.0 C146.8,104.7 157.8,107.3 165.0,108.0 C172.2,108.7 180.5,107.7 186.0,110.0 C191.5,112.3 195.3,117.0 198.0,122.0 C200.7,127.0 205.7,137.5 202.0,140.0 C198.3,142.5 182.7,138.7 176.0,137.0 C169.3,135.3 166.3,132.3 162.0,130.0 C157.7,127.7 153.3,125.3 150.0,123.0 C146.7,120.7 143.2,118.8 142.0,116.0 C140.8,113.2 139.2,107.3 143.0,106.0Z" fill="#f3f3f3"/>
<path d="M104.0,180.0 C106.8,178.2 119.0,181.0 125.0,179.0 C131.0,177.0 135.8,171.2 140.0,168.0 C144.2,164.8 146.3,161.3 150.0,160.0 C153.7,158.7 158.7,158.3 162.0,160.0 C165.3,161.7 169.5,165.8 170.0,170.0 C170.5,174.2 167.0,182.0 165.0,185.0 C163.0,188.0 162.2,186.8 158.0,188.0 C153.8,189.2 146.3,191.7 140.0,192.0 C133.7,192.3 125.3,190.3 120.0,190.0 C114.7,189.7 110.7,191.7 108.0,190.0 C105.3,188.3 101.2,181.8 104.0,180.0Z" fill="#f0f0f0"/>
<path d="M114.0,203.0 C116.3,200.7 123.3,200.3 128.0,200.0 C132.7,199.7 137.0,201.0 142.0,201.0 C147.0,201.0 154.8,198.8 158.0,200.0 C161.2,201.2 162.3,205.0 161.0,208.0 C159.7,211.0 154.3,216.2 150.0,218.0 C145.7,219.8 140.0,218.8 135.0,219.0 C130.0,219.2 123.5,219.8 120.0,219.0 C116.5,218.2 115.0,216.7 114.0,214.0 C113.0,211.3 111.7,205.3 114.0,203.0Z" fill="#eb5a50" opacity="0.45"/>
</g>
<path d="M171.1 120.1h0M190.4 119.5h0M181.4 127.2h0M193.9 139.8h0M185.5 112.0h0M143.6 111.7h0M149.1 108.5h0M160.6 123.5h0M142.6 113.1h0M173.6 133.5h0M189.5 131.0h0M191.7 132.1h0M184.3 114.5h0M176.6 113.7h0M165.3 118.6h0M181.4 133.6h0M163.9 127.7h0M163.2 115.5h0M147.6 117.4h0M186.5 113.2h0M186.6 124.6h0M182.8 112.0h0M148.3 110.9h0M163.0 120.6h0M166.2 116.9h0M155.2 119.9h0M184.4 112.0h0M153.0 118.1h0M180.1 118.9h0M180.6 113.2h0M179.0 136.2h0M193.4 127.4h0M172.3 125.3h0M183.4 121.4h0M181.9 120.3h0M165.1 113.8h0M178.0 125.5h0M179.6 121.2h0M177.6 126.2h0M186.3 116.6h0" stroke="#ffffff" stroke-width="2.60" stroke-linecap="round" fill="none" opacity="0.80"/>
<path d="M130.5 187.8h0M159.5 180.8h0M156.6 176.4h0M161.4 182.8h0M120.5 185.8h0M134.0 177.2h0M161.1 166.3h0M122.5 180.6h0M156.0 175.7h0M120.0 185.6h0M160.4 184.7h0M140.3 189.0h0M156.6 164.9h0M161.1 186.7h0M129.6 187.2h0M144.7 188.9h0M117.6 180.1h0M161.9 183.3h0M117.0 181.4h0M145.6 168.9h0M143.8 182.2h0M149.8 174.9h0M166.1 179.5h0M152.6 171.5h0M113.7 180.2h0M132.0 186.2h0M137.4 190.1h0M126.9 182.5h0M122.8 187.9h0M122.9 187.3h0" stroke="#ffffff" stroke-width="2.60" stroke-linecap="round" fill="none" opacity="0.70"/>
<path d="M182.6 121.5h0M186.6 126.4h0M167.1 115.6h0M182.3 114.3h0M166.7 110.5h0M167.2 117.6h0M191.2 134.9h0M177.4 124.6h0M147.3 118.4h0M164.5 130.6h0M182.2 117.7h0M195.9 138.3h0M170.2 118.3h0M169.9 116.7h0M182.3 126.6h0M200.2 139.2h0M191.7 128.1h0M166.1 128.3h0M154.6 118.6h0M150.6 119.4h0" stroke="#d4d4d4" stroke-width="2.20" stroke-linecap="round" fill="none" opacity="0.80"/>
<path d="M148.9 201.6h0M121.8 212.3h0M143.3 214.1h0M125.9 215.4h0M148.4 214.7h0M119.6 208.9h0M115.1 206.7h0M139.2 210.1h0M119.2 215.0h0M128.2 209.6h0M119.9 210.8h0M120.1 201.7h0M138.1 205.6h0M150.5 204.7h0M133.5 201.0h0M124.2 208.6h0M140.2 208.7h0M154.0 202.0h0M154.0 202.9h0M159.6 210.0h0M133.1 211.6h0M121.2 215.6h0M148.5 213.5h0M121.4 210.1h0M128.1 218.4h0M144.2 216.1h0M116.2 207.9h0M117.7 205.0h0M119.3 217.5h0M129.5 209.3h0M144.7 216.8h0M158.5 210.8h0M137.5 217.2h0M132.5 205.7h0M148.7 204.9h0M131.3 208.2h0M136.4 206.8h0M134.2 208.6h0M116.3 215.9h0M116.9 210.0h0M139.7 207.6h0M124.5 201.9h0M131.5 206.0h0M136.7 204.4h0M149.2 209.3h0M114.4 207.7h0M141.9 218.3h0M131.2 211.4h0M131.3 205.7h0M142.6 211.2h0M128.8 209.5h0M138.3 214.3h0M116.5 201.8h0M125.8 205.1h0M151.4 208.1h0M154.4 207.6h0M127.4 212.9h0M153.1 206.2h0M128.9 215.6h0M151.1 212.2h0M116.7 214.5h0M116.3 211.9h0M139.9 217.6h0M148.6 207.9h0M145.9 218.7h0M157.1 201.4h0M150.7 208.4h0M149.3 207.2h0M135.0 208.3h0M119.5 206.1h0M143.2 216.0h0M116.7 193.2h0M121.4 208.9h0M137.0 231.5h0M132.0 206.9h0M134.9 223.5h0M129.9 228.2h0M119.3 218.0h0M121.0 205.3h0M119.1 205.5h0M139.6 214.5h0M129.9 217.4h0M151.6 205.9h0M139.3 212.4h0M144.7 199.3h0M123.8 225.7h0M138.8 200.5h0M129.4 224.9h0M132.0 219.7h0M134.6 199.2h0M126.0 231.9h0M138.5 216.2h0" stroke="#e5554b" stroke-width="2.60" stroke-linecap="round" fill="none" opacity="0.90"/>
</g>
<g transform="translate(410.40,115.80) scale(0.4096,0.4015) translate(-87.20,-49.70)">
<g filter="url(#soft2)">
<path d="M157.2,49.7 C159.3,49.6 162.1,50.1 163.9,51.0 C165.7,51.9 166.1,52.6 168.0,55.0 C169.9,57.4 173.2,61.0 175.4,65.2 C177.6,69.4 179.2,74.9 181.4,80.0 C183.6,85.1 186.5,91.3 188.8,96.0 C191.1,100.7 192.8,105.0 195.0,108.0 C197.2,111.0 198.9,113.9 202.0,114.0 C205.1,114.1 209.0,110.5 213.3,108.8 C217.7,107.1 225.1,102.8 228.1,104.0 C231.1,105.2 231.5,111.5 231.3,116.2 C231.1,120.9 228.4,128.3 227.0,132.0 C225.6,135.7 225.0,136.6 222.8,138.4 C220.6,140.2 216.8,141.6 214.0,143.0 C211.2,144.4 204.7,145.7 206.0,147.0 C207.3,148.3 217.0,147.6 221.9,150.8 C226.8,154.0 233.8,160.8 235.7,166.0 C237.6,171.2 236.3,177.6 233.5,181.8 C230.7,186.0 224.2,190.1 219.1,191.2 C214.0,192.3 208.0,189.2 203.2,188.5 C198.4,187.8 193.7,188.8 190.2,187.0 C186.7,185.2 185.0,180.5 182.0,178.0 C179.0,175.5 175.3,172.0 172.0,172.0 C168.7,172.0 164.3,175.5 162.0,178.0 C159.7,180.5 159.1,182.7 158.1,186.9 C157.1,191.1 156.2,197.2 155.8,203.0 C155.4,208.8 155.2,217.2 155.8,221.5 C156.4,225.8 160.4,226.6 159.2,228.5 C158.0,230.4 153.2,231.2 148.8,233.1 C144.4,235.0 137.3,240.0 132.7,240.0 C128.1,240.0 124.5,238.1 121.2,233.1 C117.9,228.1 114.8,215.2 113.1,210.0 C111.4,204.8 112.8,205.2 111.3,201.9 C109.8,198.6 106.4,194.0 104.0,190.0 C101.6,186.0 99.5,183.2 96.8,178.1 C94.1,173.0 89.7,164.1 88.1,159.2 C86.5,154.3 86.7,153.1 87.4,148.5 C88.1,143.9 89.4,136.7 92.1,131.6 C94.8,126.5 98.5,122.1 103.5,118.2 C108.5,114.3 116.8,110.3 122.4,108.1 C128.0,105.8 133.8,105.4 137.2,104.7 C140.6,104.0 141.9,106.1 143.0,104.0 C144.1,101.9 143.2,99.1 143.7,92.0 C144.2,84.9 144.6,68.0 145.8,61.2 C147.0,54.5 149.1,53.4 151.0,51.5 C152.9,49.6 155.0,49.8 157.2,49.7Z" fill="#e6e6e6" stroke="#e6e6e6" stroke-width="2.5" stroke-linejoin="round"/>
<use href="#mbase" fill="#dedede"/>
<path d="M143.0,106.0 C146.8,104.7 157.8,107.3 165.0,108.0 C172.2,108.7 180.5,107.7 186.0,110.0 C191.5,112.3 195.3,117.0 198.0,122.0 C200.7,127.0 205.7,137.5 202.0,140.0 C198.3,142.5 182.7,138.7 176.0,137.0 C169.3,135.3 166.3,132.3 162.0,130.0 C157.7,127.7 153.3,125.3 150.0,123.0 C146.7,120.7 143.2,118.8 142.0,116.0 C140.8,113.2 139.2,107.3 143.0,106.0Z" fill="#f3f3f3"/>
<path d="M104.0,180.0 C106.8,178.2 119.0,181.0 125.0,179.0 C131.0,177.0 135.8,171.2 140.0,168.0 C144.2,164.8 146.3,161.3 150.0,160.0 C153.7,158.7 158.7,158.3 162.0,160.0 C165.3,161.7 169.5,165.8 170.0,170.0 C170.5,174.2 167.0,182.0 165.0,185.0 C163.0,188.0 162.2,186.8 158.0,188.0 C153.8,189.2 146.3,191.7 140.0,192.0 C133.7,192.3 125.3,190.3 120.0,190.0 C114.7,189.7 110.7,191.7 108.0,190.0 C105.3,188.3 101.2,181.8 104.0,180.0Z" fill="#f0f0f0"/>
<path d="M206.9,111.9 C208.8,110.7 211.0,109.8 213.3,108.8 C215.6,107.8 218.2,106.9 220.7,106.1 C223.2,105.3 226.4,103.5 228.1,104.0 C229.8,104.5 230.2,106.8 230.7,108.8 C231.2,110.8 231.3,113.7 231.3,116.2 C231.3,118.7 231.4,121.0 230.7,123.6 C230.0,126.2 228.3,129.5 227.0,132.0 C225.7,134.5 224.4,137.0 222.8,138.4 C221.2,139.8 219.4,140.3 217.5,140.5 C215.6,140.7 213.3,140.3 211.2,139.4 C209.1,138.5 206.4,136.8 204.8,135.2 C203.2,133.6 202.3,132.0 201.6,129.9 C200.9,127.8 200.5,124.8 200.6,122.5 C200.7,120.2 201.1,118.0 202.2,116.2 C203.2,114.4 205.1,113.1 206.9,111.9Z" fill="#eb5a50" opacity="0.92"/>
<path d="M206.1,150.8 C207.9,148.7 210.7,148.7 213.3,148.7 C215.9,148.7 219.0,149.4 221.9,150.8 C224.8,152.2 228.3,154.8 230.6,157.3 C232.9,159.8 234.7,163.3 235.7,166.0 C236.7,168.7 236.8,170.6 236.4,173.2 C236.0,175.8 234.9,179.4 233.5,181.8 C232.1,184.2 230.1,186.0 227.7,187.6 C225.3,189.2 222.0,190.7 219.1,191.2 C216.2,191.7 213.1,191.1 210.4,190.5 C207.8,189.9 204.5,190.0 203.2,187.6 C201.9,185.2 202.6,180.3 202.5,176.0 C202.4,171.7 201.9,165.8 202.5,161.6 C203.1,157.4 204.3,153.0 206.1,150.8Z" fill="#eb5a50" opacity="0.92"/>
</g>
<path d="M162.0 111.2h0M199.0 132.0h0M189.0 113.4h0M154.0 124.2h0M178.6 110.1h0M187.9 125.8h0M196.0 137.4h0M183.4 118.4h0M199.1 130.4h0M185.6 115.0h0M174.2 114.6h0M159.6 114.6h0M149.9 122.5h0M158.4 115.7h0M158.7 123.3h0M193.6 135.1h0M178.6 124.5h0M186.0 124.2h0M181.6 137.3h0M188.5 114.8h0M156.0 121.4h0M164.2 130.8h0M176.0 117.9h0M175.9 110.1h0M201.0 129.3h0M193.3 132.7h0M173.3 108.6h0M173.6 112.3h0M173.6 118.0h0M171.9 112.7h0M184.3 120.2h0M171.2 108.7h0M171.2 125.0h0M150.1 116.2h0M162.1 129.9h0M198.3 139.2h0M199.0 137.5h0M193.5 137.8h0M177.4 129.3h0M178.8 126.8h0" stroke="#ffffff" stroke-width="2.60" stroke-linecap="round" fill="none" opacity="0.80"/>
<path d="M165.6 162.8h0M138.3 190.7h0M158.8 182.0h0M138.3 178.6h0M154.0 185.8h0M159.0 173.0h0M105.0 184.6h0M138.7 170.7h0M148.5 174.6h0M119.5 188.2h0M155.7 170.7h0M119.7 180.9h0M120.8 188.1h0M151.9 181.6h0M156.2 177.3h0M109.2 184.4h0M156.1 185.0h0M126.3 185.3h0M143.2 183.7h0M135.4 186.2h0M164.4 164.6h0M117.6 188.1h0M126.6 189.8h0M113.4 182.9h0M166.4 166.2h0M113.0 181.7h0M162.2 183.2h0M166.7 174.5h0M122.0 190.0h0M139.7 178.2h0" stroke="#ffffff" stroke-width="2.60" stroke-linecap="round" fill="none" opacity="0.70"/>
<path d="M187.7 123.9h0M155.4 108.6h0M197.5 123.1h0M151.6 117.2h0M176.1 116.0h0M189.6 139.1h0M169.6 126.5h0M192.8 121.8h0M187.8 119.6h0M145.1 111.5h0M154.7 106.7h0M172.0 128.2h0M169.9 112.2h0M142.9 116.3h0M144.5 114.9h0M179.1 118.6h0M170.4 127.2h0M161.0 118.1h0M195.0 125.8h0M167.0 124.4h0" stroke="#d4d4d4" stroke-width="2.20" stroke-linecap="round" fill="none" opacity="0.80"/>
<path d="M187.2 169.8h0M202.9 185.2h0M181.5 165.0h0M183.5 176.5h0M189.0 171.2h0M180.9 176.9h0M192.9 173.6h0M187.9 178.9h0M199.4 183.5h0M188.6 172.6h0M188.2 174.2h0M188.6 170.1h0M178.5 166.3h0M199.5 183.7h0M204.3 187.1h0M194.6 183.5h0M195.5 183.9h0M198.9 168.9h0M192.1 186.9h0M202.8 179.0h0M197.0 189.1h0M200.6 182.7h0M197.9 185.8h0M193.1 174.5h0M184.7 170.4h0M193.6 182.9h0M194.9 175.2h0M182.4 168.0h0M194.6 187.8h0M203.4 178.3h0M203.8 182.8h0M183.0 168.2h0M189.2 174.4h0M189.7 174.0h0M180.0 169.7h0M145.7 229.3h0M146.6 228.1h0M143.8 228.7h0M146.9 230.9h0M152.2 229.6h0M150.3 233.4h0M154.4 226.5h0M148.7 234.0h0M148.4 225.9h0M142.4 229.5h0" stroke="#e5554b" stroke-width="2.60" stroke-linecap="round" fill="none" opacity="0.90"/>
</g>
<g transform="translate(301.20,215.40) scale(0.4149,0.4094) translate(-87.20,-49.70)">
<g filter="url(#soft2)">
<path d="M157.2,49.7 C159.3,49.6 162.1,50.1 163.9,51.0 C165.7,51.9 166.1,52.6 168.0,55.0 C169.9,57.4 173.2,61.0 175.4,65.2 C177.6,69.4 179.2,74.9 181.4,80.0 C183.6,85.1 186.5,91.3 188.8,96.0 C191.1,100.7 192.8,105.0 195.0,108.0 C197.2,111.0 198.9,113.9 202.0,114.0 C205.1,114.1 209.0,110.5 213.3,108.8 C217.7,107.1 225.1,102.8 228.1,104.0 C231.1,105.2 231.5,111.5 231.3,116.2 C231.1,120.9 228.4,128.3 227.0,132.0 C225.6,135.7 225.0,136.6 222.8,138.4 C220.6,140.2 216.8,141.6 214.0,143.0 C211.2,144.4 204.7,145.7 206.0,147.0 C207.3,148.3 217.0,147.6 221.9,150.8 C226.8,154.0 233.8,160.8 235.7,166.0 C237.6,171.2 236.3,177.6 233.5,181.8 C230.7,186.0 224.2,190.1 219.1,191.2 C214.0,192.3 208.0,189.2 203.2,188.5 C198.4,187.8 193.7,188.8 190.2,187.0 C186.7,185.2 185.0,180.5 182.0,178.0 C179.0,175.5 175.3,172.0 172.0,172.0 C168.7,172.0 164.3,175.5 162.0,178.0 C159.7,180.5 159.1,182.7 158.1,186.9 C157.1,191.1 156.2,197.2 155.8,203.0 C155.4,208.8 155.2,217.2 155.8,221.5 C156.4,225.8 160.4,226.6 159.2,228.5 C158.0,230.4 153.2,231.2 148.8,233.1 C144.4,235.0 137.3,240.0 132.7,240.0 C128.1,240.0 124.5,238.1 121.2,233.1 C117.9,228.1 114.8,215.2 113.1,210.0 C111.4,204.8 112.8,205.2 111.3,201.9 C109.8,198.6 106.4,194.0 104.0,190.0 C101.6,186.0 99.5,183.2 96.8,178.1 C94.1,173.0 89.7,164.1 88.1,159.2 C86.5,154.3 86.7,153.1 87.4,148.5 C88.1,143.9 89.4,136.7 92.1,131.6 C94.8,126.5 98.5,122.1 103.5,118.2 C108.5,114.3 116.8,110.3 122.4,108.1 C128.0,105.8 133.8,105.4 137.2,104.7 C140.6,104.0 141.9,106.1 143.0,104.0 C144.1,101.9 143.2,99.1 143.7,92.0 C144.2,84.9 144.6,68.0 145.8,61.2 C147.0,54.5 149.1,53.4 151.0,51.5 C152.9,49.6 155.0,49.8 157.2,49.7Z" fill="#e6e6e6" stroke="#e6e6e6" stroke-width="2.5" stroke-linejoin="round"/>
<use href="#mbase" fill="#dedede"/>
<path d="M143.0,106.0 C146.8,104.7 157.8,107.3 165.0,108.0 C172.2,108.7 180.5,107.7 186.0,110.0 C191.5,112.3 195.3,117.0 198.0,122.0 C200.7,127.0 205.7,137.5 202.0,140.0 C198.3,142.5 182.7,138.7 176.0,137.0 C169.3,135.3 166.3,132.3 162.0,130.0 C157.7,127.7 153.3,125.3 150.0,123.0 C146.7,120.7 143.2,118.8 142.0,116.0 C140.8,113.2 139.2,107.3 143.0,106.0Z" fill="#f3f3f3"/>
<path d="M104.0,180.0 C106.8,178.2 119.0,181.0 125.0,179.0 C131.0,177.0 135.8,171.2 140.0,168.0 C144.2,164.8 146.3,161.3 150.0,160.0 C153.7,158.7 158.7,158.3 162.0,160.0 C165.3,161.7 169.5,165.8 170.0,170.0 C170.5,174.2 167.0,182.0 165.0,185.0 C163.0,188.0 162.2,186.8 158.0,188.0 C153.8,189.2 146.3,191.7 140.0,192.0 C133.7,192.3 125.3,190.3 120.0,190.0 C114.7,189.7 110.7,191.7 108.0,190.0 C105.3,188.3 101.2,181.8 104.0,180.0Z" fill="#f0f0f0"/>
<path d="M137.0,226.0 C138.7,224.7 143.7,225.2 146.0,224.0 C148.3,222.8 150.0,221.7 151.0,219.0 C152.0,216.3 151.3,210.0 152.0,208.0 C152.7,206.0 154.2,205.0 155.0,207.0 C155.8,209.0 156.3,216.3 157.0,220.0 C157.7,223.7 159.2,226.8 159.0,229.0 C158.8,231.2 157.8,232.2 156.0,233.0 C154.2,233.8 150.7,233.2 148.0,234.0 C145.3,234.8 142.0,238.3 140.0,238.0 C138.0,237.7 136.5,234.0 136.0,232.0 C135.5,230.0 135.3,227.3 137.0,226.0Z" fill="#eb5a50" opacity="0.85"/>
</g>
<path d="M185.6 116.9h0M188.0 128.0h0M184.4 121.5h0M167.9 109.6h0M146.3 115.2h0M183.7 120.9h0M149.7 120.5h0M176.4 131.3h0M166.2 128.1h0M182.9 126.9h0M149.7 107.9h0M146.4 119.3h0M170.1 109.6h0M199.2 135.0h0M171.2 126.0h0M149.2 116.3h0M172.5 120.0h0M184.5 121.2h0M163.9 120.9h0M169.2 116.7h0M179.4 120.0h0M169.3 122.1h0M194.8 121.5h0M200.6 132.7h0M166.1 128.8h0M186.5 116.1h0M185.4 138.3h0M181.3 128.7h0M168.1 128.2h0M162.5 130.2h0M188.0 114.8h0M178.8 113.5h0M191.3 134.5h0M165.5 126.1h0M184.7 131.9h0M186.8 125.7h0M175.7 124.5h0M188.8 117.0h0M185.6 138.3h0M158.5 125.3h0" stroke="#ffffff" stroke-width="2.60" stroke-linecap="round" fill="none" opacity="0.80"/>
<path d="M138.9 175.8h0M115.0 180.0h0M163.0 181.2h0M123.1 185.8h0M144.0 174.7h0M139.0 191.7h0M141.6 190.5h0M127.3 184.3h0M149.7 182.1h0M158.7 172.2h0M128.7 181.0h0M156.4 183.6h0M149.9 160.9h0M158.0 187.5h0M117.9 182.5h0M150.2 170.8h0M162.0 167.0h0M133.2 186.0h0M141.6 179.5h0M118.7 179.8h0M132.5 186.5h0M164.4 181.7h0M150.6 166.9h0M119.1 183.0h0M107.1 182.3h0M108.1 186.9h0M139.9 178.7h0M143.6 187.6h0M105.4 182.3h0M148.0 182.3h0" stroke="#ffffff" stroke-width="2.60" stroke-linecap="round" fill="none" opacity="0.70"/>
<path d="M161.3 121.9h0M159.3 125.1h0M163.4 118.2h0M156.9 115.9h0M160.6 126.1h0M158.1 109.8h0M192.8 121.9h0M172.7 116.6h0M195.2 131.6h0M179.4 128.4h0M183.5 123.0h0M166.8 119.3h0M172.2 121.9h0M173.7 124.1h0M189.3 136.3h0M155.4 106.8h0M189.8 127.1h0M159.1 112.5h0M194.1 134.4h0M183.0 129.5h0" stroke="#d4d4d4" stroke-width="2.20" stroke-linecap="round" fill="none" opacity="0.80"/>
<path d="M153.1 221.1h0M155.8 223.0h0M146.0 230.6h0M149.6 225.1h0M156.7 227.9h0M149.3 226.6h0M137.7 230.6h0M154.7 229.4h0M153.4 208.8h0M136.8 231.7h0M155.0 212.7h0M150.6 226.1h0M154.9 214.8h0M152.4 212.7h0M157.1 227.9h0M155.4 228.7h0M158.5 227.8h0M152.5 222.3h0M147.5 230.7h0M140.4 229.5h0" stroke="#e5554b" stroke-width="2.60" stroke-linecap="round" fill="none" opacity="0.90"/>
</g>
<g transform="translate(409.90,215.80) scale(0.4142,0.4141) translate(-87.20,-49.70)">
<g filter="url(#soft2)">
<path d="M157.2,49.7 C159.3,49.6 162.1,50.1 163.9,51.0 C165.7,51.9 166.1,52.6 168.0,55.0 C169.9,57.4 173.2,61.0 175.4,65.2 C177.6,69.4 179.2,74.9 181.4,80.0 C183.6,85.1 186.5,91.3 188.8,96.0 C191.1,100.7 192.8,105.0 195.0,108.0 C197.2,111.0 198.9,113.9 202.0,114.0 C205.1,114.1 209.0,110.5 213.3,108.8 C217.7,107.1 225.1,102.8 228.1,104.0 C231.1,105.2 231.5,111.5 231.3,116.2 C231.1,120.9 228.4,128.3 227.0,132.0 C225.6,135.7 225.0,136.6 222.8,138.4 C220.6,140.2 216.8,141.6 214.0,143.0 C211.2,144.4 204.7,145.7 206.0,147.0 C207.3,148.3 217.0,147.6 221.9,150.8 C226.8,154.0 233.8,160.8 235.7,166.0 C237.6,171.2 236.3,177.6 233.5,181.8 C230.7,186.0 224.2,190.1 219.1,191.2 C214.0,192.3 208.0,189.2 203.2,188.5 C198.4,187.8 193.7,188.8 190.2,187.0 C186.7,185.2 185.0,180.5 182.0,178.0 C179.0,175.5 175.3,172.0 172.0,172.0 C168.7,172.0 164.3,175.5 162.0,178.0 C159.7,180.5 159.1,182.7 158.1,186.9 C157.1,191.1 156.2,197.2 155.8,203.0 C155.4,208.8 155.2,217.2 155.8,221.5 C156.4,225.8 160.4,226.6 159.2,228.5 C158.0,230.4 153.2,231.2 148.8,233.1 C144.4,235.0 137.3,240.0 132.7,240.0 C128.1,240.0 124.5,238.1 121.2,233.1 C117.9,228.1 114.8,215.2 113.1,210.0 C111.4,204.8 112.8,205.2 111.3,201.9 C109.8,198.6 106.4,194.0 104.0,190.0 C101.6,186.0 99.5,183.2 96.8,178.1 C94.1,173.0 89.7,164.1 88.1,159.2 C86.5,154.3 86.7,153.1 87.4,148.5 C88.1,143.9 89.4,136.7 92.1,131.6 C94.8,126.5 98.5,122.1 103.5,118.2 C108.5,114.3 116.8,110.3 122.4,108.1 C128.0,105.8 133.8,105.4 137.2,104.7 C140.6,104.0 141.9,106.1 143.0,104.0 C144.1,101.9 143.2,99.1 143.7,92.0 C144.2,84.9 144.6,68.0 145.8,61.2 C147.0,54.5 149.1,53.4 151.0,51.5 C152.9,49.6 155.0,49.8 157.2,49.7Z" fill="#e6e6e6" stroke="#e6e6e6" stroke-width="2.5" stroke-linejoin="round"/>
<use href="#mbase" fill="#dedede"/>
<path d="M143.0,106.0 C146.8,104.7 157.8,107.3 165.0,108.0 C172.2,108.7 180.5,107.7 186.0,110.0 C191.5,112.3 195.3,117.0 198.0,122.0 C200.7,127.0 205.7,137.5 202.0,140.0 C198.3,142.5 182.7,138.7 176.0,137.0 C169.3,135.3 166.3,132.3 162.0,130.0 C157.7,127.7 153.3,125.3 150.0,123.0 C146.7,120.7 143.2,118.8 142.0,116.0 C140.8,113.2 139.2,107.3 143.0,106.0Z" fill="#f3f3f3"/>
<path d="M104.0,180.0 C106.8,178.2 119.0,181.0 125.0,179.0 C131.0,177.0 135.8,171.2 140.0,168.0 C144.2,164.8 146.3,161.3 150.0,160.0 C153.7,158.7 158.7,158.3 162.0,160.0 C165.3,161.7 169.5,165.8 170.0,170.0 C170.5,174.2 167.0,182.0 165.0,185.0 C163.0,188.0 162.2,186.8 158.0,188.0 C153.8,189.2 146.3,191.7 140.0,192.0 C133.7,192.3 125.3,190.3 120.0,190.0 C114.7,189.7 110.7,191.7 108.0,190.0 C105.3,188.3 101.2,181.8 104.0,180.0Z" fill="#f0f0f0"/>
<path d="M108.0,188.0 C110.3,185.0 122.7,185.3 126.0,188.0 C129.3,190.7 130.3,201.0 128.0,204.0 C125.7,207.0 115.3,208.7 112.0,206.0 C108.7,203.3 105.7,191.0 108.0,188.0Z" fill="#eb5a50" opacity="0.35"/>
<path d="M118.0,222.0 C121.2,220.0 135.7,219.7 140.0,222.0 C144.3,224.3 145.3,233.0 144.0,236.0 C142.7,239.0 135.8,240.3 132.0,240.0 C128.2,239.7 123.3,237.0 121.0,234.0 C118.7,231.0 114.8,224.0 118.0,222.0Z" fill="#eb5a50" opacity="0.45"/>
<path d="M140.0,190.0 C142.3,187.3 153.3,185.7 156.0,188.0 C158.7,190.3 158.3,201.3 156.0,204.0 C153.7,206.7 144.7,206.3 142.0,204.0 C139.3,201.7 137.7,192.7 140.0,190.0Z" fill="#eb5a50" opacity="0.35"/>
</g>
<path d="M144.0 112.4h0M170.1 134.7h0M179.2 131.4h0M187.7 130.6h0M150.9 111.5h0M144.3 107.0h0M194.6 119.0h0M147.2 107.6h0M192.8 126.5h0M148.8 115.7h0M153.5 109.8h0M152.1 111.7h0M174.1 118.8h0M172.5 119.2h0M178.9 112.6h0M195.3 126.0h0M165.5 124.4h0M165.0 130.1h0M164.3 130.0h0M159.1 116.0h0M187.0 132.7h0M184.0 137.4h0M153.1 119.4h0M193.2 132.0h0M186.4 135.4h0M163.7 126.6h0M199.5 136.5h0M176.6 136.3h0M201.9 134.5h0M150.6 119.7h0M175.8 110.5h0M179.7 115.5h0M161.4 126.6h0M153.5 121.2h0M193.4 139.6h0M157.8 118.4h0M183.6 112.5h0M175.4 117.5h0M185.0 113.9h0M170.9 130.6h0" stroke="#ffffff" stroke-width="2.60" stroke-linecap="round" fill="none" opacity="0.80"/>
<path d="M152.9 174.8h0M149.2 164.9h0M152.2 178.3h0M158.4 181.9h0M140.2 187.4h0M143.8 186.4h0M148.3 183.3h0M162.3 177.7h0M142.4 187.6h0M122.9 184.8h0M145.8 175.0h0M137.6 176.3h0M144.1 181.8h0M137.4 185.7h0M130.0 189.5h0M135.9 172.7h0M148.7 164.8h0M143.7 184.4h0M128.3 188.4h0M162.5 175.5h0M162.8 184.0h0M108.3 181.6h0M165.7 170.7h0M113.5 185.0h0M147.0 175.0h0M163.4 185.3h0M143.8 175.1h0M123.9 189.3h0M117.8 180.6h0M108.9 189.6h0" stroke="#ffffff" stroke-width="2.60" stroke-linecap="round" fill="none" opacity="0.70"/>
<path d="M198.9 127.0h0M196.2 133.0h0M199.0 135.4h0M156.9 124.8h0M161.0 111.7h0M186.6 131.8h0M162.2 120.3h0M183.8 130.7h0M169.8 110.0h0M147.7 111.8h0M191.6 122.9h0M180.7 118.4h0M164.1 112.0h0M177.9 126.9h0M188.2 126.7h0M194.6 139.0h0M166.4 128.0h0M164.5 120.0h0M164.0 128.0h0M163.2 118.0h0" stroke="#d4d4d4" stroke-width="2.20" stroke-linecap="round" fill="none" opacity="0.80"/>
<path d="M151.9 229.4h0M143.7 231.7h0M129.8 221.0h0M123.3 203.6h0M155.4 203.0h0M118.1 220.8h0M154.0 191.4h0M123.5 227.2h0M122.1 233.5h0M128.2 212.0h0M121.0 202.3h0M131.6 201.7h0M141.9 229.5h0M126.9 197.1h0M117.0 191.0h0M149.2 218.9h0M140.0 203.9h0M113.0 209.3h0M128.5 235.9h0M152.9 217.4h0M116.0 191.8h0M131.0 195.2h0M147.6 221.2h0M134.0 228.2h0M136.7 208.9h0M136.0 224.8h0M144.3 217.2h0M149.1 230.7h0M115.7 194.6h0M113.6 195.4h0M132.3 211.6h0M138.3 201.7h0M148.6 204.5h0M151.8 229.6h0M114.6 201.1h0M148.1 218.3h0M143.2 208.8h0M133.4 200.6h0M117.9 197.4h0M136.8 217.8h0M151.3 207.1h0M147.5 230.3h0M156.2 198.0h0M117.1 195.6h0M117.4 205.6h0M122.9 221.3h0M145.8 228.1h0M132.2 211.2h0M133.7 206.6h0M133.1 223.3h0M145.4 204.2h0M113.5 207.4h0M115.1 209.5h0M156.4 231.4h0M112.7 203.7h0M129.0 203.4h0M117.9 218.2h0M151.5 207.2h0M119.7 192.5h0M122.4 225.3h0M120.4 203.6h0M148.1 226.0h0M125.8 210.9h0M128.3 211.9h0M149.3 200.8h0M156.2 196.0h0M125.8 210.4h0M151.5 223.0h0M152.8 214.0h0M113.7 202.1h0M125.3 209.1h0M123.1 225.7h0M127.6 199.0h0M131.1 215.9h0M130.5 216.9h0M143.6 204.7h0M134.8 207.0h0M125.5 202.7h0M153.4 206.0h0M132.6 214.8h0M148.9 216.4h0M134.9 205.2h0M147.3 213.6h0M149.3 231.3h0M154.1 225.4h0M143.6 211.4h0M136.8 217.6h0M136.5 230.4h0M147.3 219.6h0M129.3 237.3h0M119.2 216.8h0M134.7 226.0h0M126.0 233.8h0M111.6 198.8h0M148.5 201.5h0M117.2 210.6h0M124.4 222.6h0M116.6 204.6h0M131.0 212.0h0M132.1 218.5h0M154.8 230.9h0M122.2 199.9h0M133.3 221.1h0M140.3 205.5h0M121.3 225.7h0M122.7 199.8h0M123.9 192.3h0M145.6 212.0h0M147.1 227.6h0M135.7 201.3h0M138.7 181.2h0M125.4 180.5h0M160.0 186.3h0M152.3 186.7h0M159.3 161.4h0M108.0 183.4h0M136.2 188.6h0M169.4 174.3h0M148.6 181.3h0M149.8 171.8h0M163.4 183.2h0M157.0 174.8h0M148.9 177.5h0M131.4 182.2h0M164.3 181.7h0M144.2 183.4h0M144.5 171.3h0M147.8 161.7h0M149.0 189.2h0M148.1 179.4h0M144.5 180.4h0M161.0 179.6h0M158.8 180.0h0M160.3 184.7h0M169.4 174.8h0M163.2 172.7h0M149.6 163.1h0M131.9 185.7h0M123.9 188.7h0M157.8 184.6h0M141.4 150.1h0M99.6 148.0h0M135.5 150.8h0M97.8 178.6h0M126.8 125.2h0M163.0 134.1h0M92.8 155.8h0M107.4 121.3h0M110.7 151.0h0M112.1 155.4h0M106.9 167.6h0M94.3 149.1h0" stroke="#e5554b" stroke-width="2.60" stroke-linecap="round" fill="none" opacity="0.90"/>
</g>
<g font-size="7.8" fill="#2a2a2a" stroke="#2a2a2a" stroke-width="0.05">
<text x="309.7" y="13.6" textLength="45" lengthAdjust="spacingAndGlyphs">K562-DMSO</text>
<text x="411.5" y="13.6" textLength="58.8" lengthAdjust="spacingAndGlyphs">NK-K562-DMSO</text>
<text x="296.3" y="111.3" textLength="71.5" lengthAdjust="spacingAndGlyphs">Birinapant-NK-K562</text>
<text x="405.9" y="111.3" textLength="69.2" lengthAdjust="spacingAndGlyphs">Dasatinib-NK-K562</text>
<text x="300.2" y="209.4" textLength="64.3" lengthAdjust="spacingAndGlyphs">Imatinib-NK-K562</text>
<text x="393.8" y="209.3" textLength="93.2" lengthAdjust="spacingAndGlyphs">Dexamethasone-NK-K562</text>
</g>
<circle cx="486.5" cy="32.3" r="1.5" fill="#c8c8c8"/>
<circle cx="486.5" cy="43.8" r="1.8" fill="#c0505a"/>
<g font-size="7.5" fill="#333" stroke="#333" stroke-width="0.05">
<text x="491.9" y="34.6" textLength="21.1" lengthAdjust="spacingAndGlyphs">FALSE</text>
<text x="491.9" y="45.4" textLength="17.7" lengthAdjust="spacingAndGlyphs">TRUE</text>
</g>
<!-- Panel C -->
<text x="51.8" y="322" font-size="11.4" font-weight="bold" fill="#111">C</text>
<text x="159.4" y="320.3" font-size="9.6" fill="#222" textLength="180.6" lengthAdjust="spacingAndGlyphs" stroke="#222" stroke-width="0.05">K562 cell % by cluster and drug condition</text>
<g font-size="7.3" fill="#333" stroke="#333" stroke-width="0.05">
<text x="146.9" y="332.8" textLength="53.4" lengthAdjust="spacingAndGlyphs">K562 cells only</text>
<text x="278.1" y="332.8" textLength="93.2" lengthAdjust="spacingAndGlyphs">K562 cells from co-culture</text>
</g>
<line x1="249.8" y1="328.5" x2="249.8" y2="337" stroke="#333" stroke-width="0.8" stroke-dasharray="1.2,1.3"/>
<rect x="99.30" y="552.12" width="19.60" height="1.38" fill="#32aa64"/>
<rect x="99.30" y="481.39" width="19.60" height="71.03" fill="#5595cd"/>
<rect x="99.30" y="336.90" width="19.60" height="144.79" fill="#e40a0a"/>
<rect x="120.90" y="552.12" width="19.60" height="1.38" fill="#32aa64"/>
<rect x="120.90" y="476.41" width="19.60" height="76.00" fill="#5595cd"/>
<rect x="120.90" y="336.90" width="19.60" height="139.81" fill="#e40a0a"/>
<rect x="142.50" y="552.12" width="19.60" height="1.38" fill="#32aa64"/>
<rect x="142.50" y="479.44" width="19.60" height="72.98" fill="#5595cd"/>
<rect x="142.50" y="336.90" width="19.60" height="142.84" fill="#e40a0a"/>
<rect x="164.10" y="552.12" width="19.60" height="1.38" fill="#32aa64"/>
<rect x="164.10" y="547.79" width="19.60" height="4.63" fill="#5595cd"/>
<rect x="164.10" y="343.17" width="19.60" height="204.92" fill="#967db9"/>
<rect x="164.10" y="336.90" width="19.60" height="6.57" fill="#e40a0a"/>
<rect x="185.70" y="550.39" width="19.60" height="3.11" fill="#32aa64"/>
<rect x="185.70" y="549.74" width="19.60" height="0.95" fill="#5595cd"/>
<rect x="185.70" y="338.63" width="19.60" height="211.41" fill="#967db9"/>
<rect x="185.70" y="336.90" width="19.60" height="2.03" fill="#e40a0a"/>
<rect x="207.30" y="552.12" width="19.60" height="1.38" fill="#32aa64"/>
<rect x="207.30" y="480.52" width="19.60" height="71.90" fill="#5595cd"/>
<rect x="207.30" y="336.90" width="19.60" height="143.92" fill="#e40a0a"/>
<rect x="228.90" y="552.12" width="19.60" height="1.38" fill="#32aa64"/>
<rect x="228.90" y="481.60" width="19.60" height="70.81" fill="#5595cd"/>
<rect x="228.90" y="336.90" width="19.60" height="145.00" fill="#e40a0a"/>
<rect x="250.50" y="342.52" width="19.60" height="210.98" fill="#32aa64"/>
<rect x="250.50" y="341.44" width="19.60" height="1.38" fill="#5595cd"/>
<rect x="250.50" y="336.90" width="19.60" height="4.84" fill="#e40a0a"/>
<rect x="272.10" y="344.25" width="19.60" height="209.25" fill="#32aa64"/>
<rect x="272.10" y="342.96" width="19.60" height="1.60" fill="#5595cd"/>
<rect x="272.10" y="336.90" width="19.60" height="6.36" fill="#e40a0a"/>
<rect x="293.70" y="346.85" width="19.60" height="206.65" fill="#32aa64"/>
<rect x="293.70" y="345.98" width="19.60" height="1.17" fill="#5595cd"/>
<rect x="293.70" y="336.90" width="19.60" height="9.38" fill="#e40a0a"/>
<rect x="315.30" y="338.41" width="19.60" height="215.09" fill="#32aa64"/>
<rect x="315.30" y="336.90" width="19.60" height="1.81" fill="#e40a0a"/>
<rect x="336.90" y="552.12" width="19.60" height="1.38" fill="#32aa64"/>
<rect x="336.90" y="549.96" width="19.60" height="2.46" fill="#5595cd"/>
<rect x="336.90" y="339.06" width="19.60" height="211.19" fill="#967db9"/>
<rect x="336.90" y="336.90" width="19.60" height="2.46" fill="#e40a0a"/>
<rect x="358.50" y="368.91" width="19.60" height="184.59" fill="#32aa64"/>
<rect x="358.50" y="367.61" width="19.60" height="1.60" fill="#5595cd"/>
<rect x="358.50" y="336.90" width="19.60" height="31.01" fill="#e40a0a"/>
<rect x="380.10" y="453.49" width="19.60" height="100.01" fill="#32aa64"/>
<rect x="380.10" y="427.75" width="19.60" height="26.04" fill="#5595cd"/>
<rect x="380.10" y="336.90" width="19.60" height="91.15" fill="#e40a0a"/>
<g stroke="#222" stroke-width="1">
<line x1="96.4" y1="332.3" x2="96.4" y2="557.9"/>
<line x1="95.9" y1="557.4" x2="402" y2="557.4"/>
<line x1="109.10" y1="557.3" x2="109.10" y2="560.3"/>
<line x1="130.70" y1="557.3" x2="130.70" y2="560.3"/>
<line x1="152.30" y1="557.3" x2="152.30" y2="560.3"/>
<line x1="173.90" y1="557.3" x2="173.90" y2="560.3"/>
<line x1="195.50" y1="557.3" x2="195.50" y2="560.3"/>
<line x1="217.10" y1="557.3" x2="217.10" y2="560.3"/>
<line x1="238.70" y1="557.3" x2="238.70" y2="560.3"/>
<line x1="260.30" y1="557.3" x2="260.30" y2="560.3"/>
<line x1="281.90" y1="557.3" x2="281.90" y2="560.3"/>
<line x1="303.50" y1="557.3" x2="303.50" y2="560.3"/>
<line x1="325.10" y1="557.3" x2="325.10" y2="560.3"/>
<line x1="346.70" y1="557.3" x2="346.70" y2="560.3"/>
<line x1="368.30" y1="557.3" x2="368.30" y2="560.3"/>
<line x1="389.90" y1="557.3" x2="389.90" y2="560.3"/>
<line x1="93.1" y1="553.20" x2="96.4" y2="553.20"/>
<line x1="93.1" y1="499.13" x2="96.4" y2="499.13"/>
<line x1="93.1" y1="445.05" x2="96.4" y2="445.05"/>
<line x1="93.1" y1="390.98" x2="96.4" y2="390.98"/>
<line x1="93.1" y1="336.90" x2="96.4" y2="336.90"/>
</g>
<g font-size="7.9" fill="#444" stroke="#444" stroke-width="0.05">
<text x="90" y="555.95" text-anchor="end">0</text>
<text x="90" y="501.88" text-anchor="end">25</text>
<text x="90" y="447.80" text-anchor="end">50</text>
<text x="90" y="393.73" text-anchor="end">75</text>
<text x="90" y="339.65" text-anchor="end">100</text>
</g>
<g font-size="8.6" fill="#3a3a3a" stroke="#3a3a3a" stroke-width="0.05">
<text transform="translate(113.70,569.3) rotate(-45)" text-anchor="end" textLength="47.1" lengthAdjust="spacingAndGlyphs">K562–DMSO</text>
<text transform="translate(135.30,569.3) rotate(-45)" text-anchor="end" textLength="59.2" lengthAdjust="spacingAndGlyphs">Birinapant–K562</text>
<text transform="translate(156.90,569.3) rotate(-45)" text-anchor="end" textLength="57.4" lengthAdjust="spacingAndGlyphs">Paclitaxel–K562</text>
<text transform="translate(178.50,569.3) rotate(-45)" text-anchor="end" textLength="51.2" lengthAdjust="spacingAndGlyphs">Imatinib–K562</text>
<text transform="translate(200.10,569.3) rotate(-45)" text-anchor="end" textLength="56.5" lengthAdjust="spacingAndGlyphs">Dasatinib–K562</text>
<text transform="translate(221.70,569.3) rotate(-45)" text-anchor="end" textLength="81.4" lengthAdjust="spacingAndGlyphs">Dexamethasone–K562</text>
<text transform="translate(243.30,569.3) rotate(-45)" text-anchor="end" textLength="66.3" lengthAdjust="spacingAndGlyphs">Sotrastaurin–K562</text>
<text transform="translate(264.90,569.3) rotate(-45)" text-anchor="end" textLength="62.7" lengthAdjust="spacingAndGlyphs">NK–K562–DMSO</text>
<text transform="translate(286.50,569.3) rotate(-45)" text-anchor="end" textLength="74.7" lengthAdjust="spacingAndGlyphs">Birinapant–NK–K562</text>
<text transform="translate(308.10,569.3) rotate(-45)" text-anchor="end" textLength="72.9" lengthAdjust="spacingAndGlyphs">Paclitaxel–NK–K562</text>
<text transform="translate(329.70,569.3) rotate(-45)" text-anchor="end" textLength="66.7" lengthAdjust="spacingAndGlyphs">Imatinib–NK–K562</text>
<text transform="translate(351.30,569.3) rotate(-45)" text-anchor="end" textLength="72.1" lengthAdjust="spacingAndGlyphs">Dasatinib–NK–K562</text>
<text transform="translate(372.90,569.3) rotate(-45)" text-anchor="end" textLength="97.0" lengthAdjust="spacingAndGlyphs">Dexamethasone–NK–K562</text>
<text transform="translate(394.50,569.3) rotate(-45)" text-anchor="end" textLength="81.8" lengthAdjust="spacingAndGlyphs">Sotrastaurin–NK–K562</text>
</g>
<text transform="translate(71.6,455.7) rotate(-90)" font-size="10" fill="#333" textLength="21.9" lengthAdjust="spacingAndGlyphs" stroke="#333" stroke-width="0.05">% cells</text>
<text x="224" y="649.8" font-size="9.7" fill="#333" textLength="51" lengthAdjust="spacingAndGlyphs" stroke="#333" stroke-width="0.05">Drug condition</text>
<!-- legend C -->
<text x="408.7" y="424.4" font-size="7.4" fill="#333" textLength="22.5" lengthAdjust="spacingAndGlyphs" stroke="#333" stroke-width="0.05">cluster</text>
<rect x="409" y="431.4" width="6" height="5.8" fill="#e40a0a"/>
<rect x="409" y="442.3" width="6" height="5.8" fill="#967db9"/>
<rect x="409" y="453.2" width="6" height="5.8" fill="#5595cd"/>
<rect x="409" y="464.1" width="6" height="5.8" fill="#32aa64"/>
<g font-size="7.3" fill="#333" stroke="#333" stroke-width="0.05">
<text x="418.3" y="436.8" textLength="33.7" lengthAdjust="spacingAndGlyphs">0. Resting</text>
<text x="418.3" y="447.7" textLength="46.7" lengthAdjust="spacingAndGlyphs">1. TKI specific</text>
<text x="418.3" y="458.6" textLength="33.7" lengthAdjust="spacingAndGlyphs">2. Resting</text>
<text x="418.3" y="469.5" textLength="50" lengthAdjust="spacingAndGlyphs">3. NK–induced</text>
</g>
<!-- border -->
<rect x="0.5" y="0.5" width="519" height="658" fill="none" stroke="#4d4d4d" stroke-width="1"/>
</svg>
</body></html>
